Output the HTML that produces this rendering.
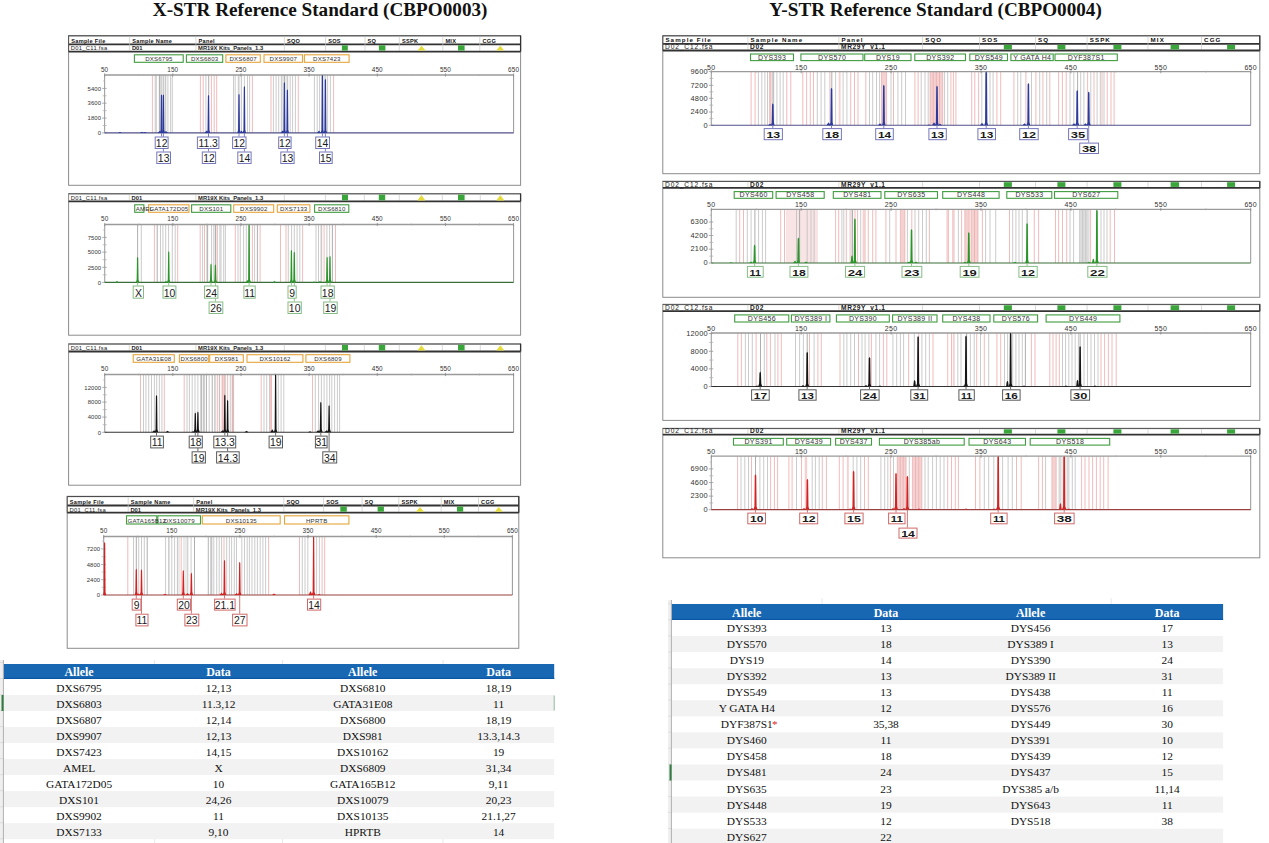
<!DOCTYPE html>
<html><head><meta charset="utf-8"><title>STR Reference Standards</title>
<style>html,body{margin:0;padding:0;background:#fff;width:1269px;height:843px;overflow:hidden;font-family:"Liberation Sans",sans-serif;}svg{display:block;}</style>
</head><body>
<svg width="1269" height="843" viewBox="0 0 1269 843">
<rect x="0" y="0" width="1269" height="843" fill="#fff"/>
<text x="152.8" y="16.1" font-size="19.6" fill="#111" text-anchor="start" font-weight="bold" font-family='"Liberation Serif", serif' textLength="334.7" lengthAdjust="spacingAndGlyphs">X-STR Reference Standard (CBPO0003)</text>
<text x="769.3" y="16.1" font-size="19.6" fill="#111" text-anchor="start" font-weight="bold" font-family='"Liberation Serif", serif' textLength="332.5" lengthAdjust="spacingAndGlyphs">Y-STR Reference Standard (CBPO0004)</text>
<rect x="68.6" y="35.6" width="452" height="149.7" fill="#fff" stroke="#8c8c8c" stroke-width="1"/>
<line x1="68.6" y1="35.9" x2="520.6" y2="35.9" stroke="#444" stroke-width="1"/>
<line x1="68.6" y1="44.3" x2="520.6" y2="44.3" stroke="#333" stroke-width="1.8"/>
<line x1="520.6" y1="35.6" x2="520.6" y2="51.6" stroke="#333" stroke-width="1.3"/>
<line x1="68.6" y1="35.6" x2="68.6" y2="51.6" stroke="#555" stroke-width="1"/>
<line x1="129.7" y1="36.6" x2="129.7" y2="50.6" stroke="#c8c8c8" stroke-width="0.7"/>
<line x1="195.9" y1="36.6" x2="195.9" y2="50.6" stroke="#c8c8c8" stroke-width="0.7"/>
<line x1="284.3" y1="36.6" x2="284.3" y2="50.6" stroke="#c8c8c8" stroke-width="0.7"/>
<line x1="325.6" y1="36.6" x2="325.6" y2="50.6" stroke="#c8c8c8" stroke-width="0.7"/>
<line x1="365" y1="36.6" x2="365" y2="50.6" stroke="#c8c8c8" stroke-width="0.7"/>
<line x1="399.3" y1="36.6" x2="399.3" y2="50.6" stroke="#c8c8c8" stroke-width="0.7"/>
<line x1="442.8" y1="36.6" x2="442.8" y2="50.6" stroke="#c8c8c8" stroke-width="0.7"/>
<line x1="479.8" y1="36.6" x2="479.8" y2="50.6" stroke="#c8c8c8" stroke-width="0.7"/>
<text x="71.2" y="42.7" font-size="5.6" fill="#111" text-anchor="start" font-weight="bold" font-family='"Liberation Sans", sans-serif' letter-spacing="0.3">Sample File</text>
<text x="132.3" y="42.7" font-size="5.6" fill="#111" text-anchor="start" font-weight="bold" font-family='"Liberation Sans", sans-serif' letter-spacing="0.3">Sample Name</text>
<text x="198.5" y="42.7" font-size="5.6" fill="#111" text-anchor="start" font-weight="bold" font-family='"Liberation Sans", sans-serif' letter-spacing="0.3">Panel</text>
<text x="286.9" y="42.7" font-size="5.6" fill="#111" text-anchor="start" font-weight="bold" font-family='"Liberation Sans", sans-serif' letter-spacing="0.3">SQO</text>
<text x="328.2" y="42.7" font-size="5.6" fill="#111" text-anchor="start" font-weight="bold" font-family='"Liberation Sans", sans-serif' letter-spacing="0.3">SOS</text>
<text x="367.6" y="42.7" font-size="5.6" fill="#111" text-anchor="start" font-weight="bold" font-family='"Liberation Sans", sans-serif' letter-spacing="0.3">SQ</text>
<text x="401.9" y="42.7" font-size="5.6" fill="#111" text-anchor="start" font-weight="bold" font-family='"Liberation Sans", sans-serif' letter-spacing="0.3">SSPK</text>
<text x="445.4" y="42.7" font-size="5.6" fill="#111" text-anchor="start" font-weight="bold" font-family='"Liberation Sans", sans-serif' letter-spacing="0.3">MIX</text>
<text x="482.4" y="42.7" font-size="5.6" fill="#111" text-anchor="start" font-weight="bold" font-family='"Liberation Sans", sans-serif' letter-spacing="0.3">CGG</text>
<line x1="68.6" y1="51.6" x2="520.6" y2="51.6" stroke="#333" stroke-width="1.8"/>
<text x="70.8" y="50.4" font-size="5.8" fill="#222" text-anchor="start" font-weight="normal" font-family='"Liberation Sans", sans-serif' letter-spacing="0.3">D01_C11.fsa</text>
<text x="131.9" y="50.4" font-size="5.8" fill="#222" text-anchor="start" font-weight="bold" font-family='"Liberation Sans", sans-serif' letter-spacing="0">D01</text>
<text x="198.1" y="50.4" font-size="5.8" fill="#222" text-anchor="start" font-weight="bold" font-family='"Liberation Sans", sans-serif' letter-spacing="0">MR19X Kits_Panels_1.3</text>
<rect x="341.9" y="45.3" width="5.9" height="5.3" fill="#3aa53a"/>
<rect x="378.9" y="45.3" width="6.5" height="5.3" fill="#3aa53a"/>
<polygon points="417.5,50.6 425.5,50.6 421.5,45.8" fill="#e4dc3a"/>
<rect x="458" y="45.3" width="6.6" height="5.3" fill="#3aa53a"/>
<polygon points="496.2,50.6 504.2,50.6 500.2,45.8" fill="#e4dc3a"/>
<rect x="134.4" y="54.8" width="48.8" height="7.5" fill="#fff" stroke="#3f9c3f" stroke-width="1.1"/>
<rect x="186.4" y="54.8" width="36.3" height="7.5" fill="#fff" stroke="#3f9c3f" stroke-width="1.1"/>
<rect x="225.9" y="54.8" width="34.4" height="7.5" fill="#fff" stroke="#e7a43a" stroke-width="1.1"/>
<rect x="264" y="54.8" width="38.5" height="7.5" fill="#fff" stroke="#e7a43a" stroke-width="1.1"/>
<rect x="304.4" y="54.8" width="44.7" height="7.5" fill="#fff" stroke="#e7a43a" stroke-width="1.1"/>
<text x="158.9" y="61.2" font-size="6.1" fill="#333" text-anchor="middle" font-weight="normal" font-family='"Liberation Sans", sans-serif' letter-spacing="0.2">DXS6795</text>
<text x="204.65" y="61.2" font-size="6.1" fill="#333" text-anchor="middle" font-weight="normal" font-family='"Liberation Sans", sans-serif' letter-spacing="0.2">DXS6803</text>
<text x="243.2" y="61.2" font-size="6.1" fill="#333" text-anchor="middle" font-weight="normal" font-family='"Liberation Sans", sans-serif' letter-spacing="0.2">DXS6807</text>
<text x="283.35" y="61.2" font-size="6.1" fill="#333" text-anchor="middle" font-weight="normal" font-family='"Liberation Sans", sans-serif' letter-spacing="0.2">DXS9907</text>
<text x="326.85" y="61.2" font-size="6.1" fill="#333" text-anchor="middle" font-weight="normal" font-family='"Liberation Sans", sans-serif' letter-spacing="0.2">DXS7423</text>
<rect x="158.5" y="75" width="8" height="57.9" fill="#ebebeb"/>
<rect x="237.5" y="75" width="3" height="57.9" fill="#ebebeb"/>
<rect x="280.5" y="75" width="8" height="57.9" fill="#ebebeb"/>
<rect x="321" y="75" width="5.5" height="57.9" fill="#ebebeb"/>
<line x1="152.4" y1="75" x2="152.4" y2="132.9" stroke="#eeaaaa" stroke-width="0.8"/>
<line x1="200.4" y1="75" x2="200.4" y2="132.9" stroke="#eeaaaa" stroke-width="0.8"/>
<line x1="203.2" y1="75" x2="203.2" y2="132.9" stroke="#eeaaaa" stroke-width="0.8"/>
<line x1="211.4" y1="75" x2="211.4" y2="132.9" stroke="#eeaaaa" stroke-width="0.8"/>
<line x1="214.2" y1="75" x2="214.2" y2="132.9" stroke="#eeaaaa" stroke-width="0.8"/>
<line x1="216.7" y1="75" x2="216.7" y2="132.9" stroke="#eeaaaa" stroke-width="0.8"/>
<line x1="252.4" y1="75" x2="252.4" y2="132.9" stroke="#eeaaaa" stroke-width="0.8"/>
<line x1="271" y1="75" x2="271" y2="132.9" stroke="#eeaaaa" stroke-width="0.8"/>
<line x1="298.3" y1="75" x2="298.3" y2="132.9" stroke="#eeaaaa" stroke-width="0.8"/>
<line x1="333.6" y1="75" x2="333.6" y2="132.9" stroke="#eeaaaa" stroke-width="0.8"/>
<line x1="155.2" y1="75" x2="155.2" y2="132.9" stroke="#bebebe" stroke-width="0.8"/>
<line x1="156.3" y1="75" x2="156.3" y2="132.9" stroke="#bebebe" stroke-width="0.8"/>
<line x1="161.2" y1="75" x2="161.2" y2="132.9" stroke="#bebebe" stroke-width="0.8"/>
<line x1="163.4" y1="75" x2="163.4" y2="132.9" stroke="#bebebe" stroke-width="0.8"/>
<line x1="165.6" y1="75" x2="165.6" y2="132.9" stroke="#bebebe" stroke-width="0.8"/>
<line x1="167.9" y1="75" x2="167.9" y2="132.9" stroke="#bebebe" stroke-width="0.8"/>
<line x1="170.6" y1="75" x2="170.6" y2="132.9" stroke="#bebebe" stroke-width="0.8"/>
<line x1="172.3" y1="75" x2="172.3" y2="132.9" stroke="#bebebe" stroke-width="0.8"/>
<line x1="205.9" y1="75" x2="205.9" y2="132.9" stroke="#bebebe" stroke-width="0.8"/>
<line x1="233.5" y1="75" x2="233.5" y2="132.9" stroke="#bebebe" stroke-width="0.8"/>
<line x1="235.2" y1="75" x2="235.2" y2="132.9" stroke="#bebebe" stroke-width="0.8"/>
<line x1="238.7" y1="75" x2="238.7" y2="132.9" stroke="#bebebe" stroke-width="0.8"/>
<line x1="241.5" y1="75" x2="241.5" y2="132.9" stroke="#bebebe" stroke-width="0.8"/>
<line x1="244.4" y1="75" x2="244.4" y2="132.9" stroke="#bebebe" stroke-width="0.8"/>
<line x1="247.5" y1="75" x2="247.5" y2="132.9" stroke="#bebebe" stroke-width="0.8"/>
<line x1="249.6" y1="75" x2="249.6" y2="132.9" stroke="#bebebe" stroke-width="0.8"/>
<line x1="273.4" y1="75" x2="273.4" y2="132.9" stroke="#bebebe" stroke-width="0.8"/>
<line x1="276.1" y1="75" x2="276.1" y2="132.9" stroke="#bebebe" stroke-width="0.8"/>
<line x1="278.7" y1="75" x2="278.7" y2="132.9" stroke="#bebebe" stroke-width="0.8"/>
<line x1="281.7" y1="75" x2="281.7" y2="132.9" stroke="#bebebe" stroke-width="0.8"/>
<line x1="287.4" y1="75" x2="287.4" y2="132.9" stroke="#bebebe" stroke-width="0.8"/>
<line x1="290.2" y1="75" x2="290.2" y2="132.9" stroke="#bebebe" stroke-width="0.8"/>
<line x1="292.6" y1="75" x2="292.6" y2="132.9" stroke="#bebebe" stroke-width="0.8"/>
<line x1="295.4" y1="75" x2="295.4" y2="132.9" stroke="#bebebe" stroke-width="0.8"/>
<line x1="314.4" y1="75" x2="314.4" y2="132.9" stroke="#bebebe" stroke-width="0.8"/>
<line x1="317.2" y1="75" x2="317.2" y2="132.9" stroke="#bebebe" stroke-width="0.8"/>
<line x1="319.6" y1="75" x2="319.6" y2="132.9" stroke="#bebebe" stroke-width="0.8"/>
<line x1="325.2" y1="75" x2="325.2" y2="132.9" stroke="#bebebe" stroke-width="0.8"/>
<line x1="327.6" y1="75" x2="327.6" y2="132.9" stroke="#bebebe" stroke-width="0.8"/>
<line x1="330.4" y1="75" x2="330.4" y2="132.9" stroke="#bebebe" stroke-width="0.8"/>
<line x1="159.6" y1="75" x2="159.6" y2="132.9" stroke="#999999" stroke-width="0.8"/>
<line x1="208.7" y1="75" x2="208.7" y2="132.9" stroke="#999999" stroke-width="0.8"/>
<line x1="284.4" y1="75" x2="284.4" y2="132.9" stroke="#999999" stroke-width="0.8"/>
<line x1="322.4" y1="75" x2="322.4" y2="132.9" stroke="#999999" stroke-width="0.8"/>
<line x1="104.6" y1="75" x2="513.6" y2="75" stroke="#9a9a9a" stroke-width="1.3"/>
<line x1="513.6" y1="75" x2="513.6" y2="132.9" stroke="#8a8a8a" stroke-width="0.9"/>
<line x1="104.6" y1="75" x2="104.6" y2="132.9" stroke="#a0a0a0" stroke-width="1.1"/>
<line x1="104.6" y1="73.4" x2="104.6" y2="76.6" stroke="#888" stroke-width="0.8"/>
<line x1="138.68" y1="74" x2="138.68" y2="76" stroke="#aaa" stroke-width="0.7"/>
<line x1="172.77" y1="73.4" x2="172.77" y2="76.6" stroke="#888" stroke-width="0.8"/>
<line x1="206.85" y1="74" x2="206.85" y2="76" stroke="#aaa" stroke-width="0.7"/>
<line x1="240.93" y1="73.4" x2="240.93" y2="76.6" stroke="#888" stroke-width="0.8"/>
<line x1="275.02" y1="74" x2="275.02" y2="76" stroke="#aaa" stroke-width="0.7"/>
<line x1="309.1" y1="73.4" x2="309.1" y2="76.6" stroke="#888" stroke-width="0.8"/>
<line x1="343.18" y1="74" x2="343.18" y2="76" stroke="#aaa" stroke-width="0.7"/>
<line x1="377.27" y1="73.4" x2="377.27" y2="76.6" stroke="#888" stroke-width="0.8"/>
<line x1="411.35" y1="74" x2="411.35" y2="76" stroke="#aaa" stroke-width="0.7"/>
<line x1="445.43" y1="73.4" x2="445.43" y2="76.6" stroke="#888" stroke-width="0.8"/>
<line x1="479.52" y1="74" x2="479.52" y2="76" stroke="#aaa" stroke-width="0.7"/>
<line x1="513.6" y1="73.4" x2="513.6" y2="76.6" stroke="#888" stroke-width="0.8"/>
<text x="104.6" y="71.8" font-size="6.4" fill="#333" text-anchor="middle" font-weight="normal" font-family='"Liberation Sans", sans-serif' letter-spacing="0.1">50</text>
<text x="172.77" y="71.8" font-size="6.4" fill="#333" text-anchor="middle" font-weight="normal" font-family='"Liberation Sans", sans-serif' letter-spacing="0.1">150</text>
<text x="240.93" y="71.8" font-size="6.4" fill="#333" text-anchor="middle" font-weight="normal" font-family='"Liberation Sans", sans-serif' letter-spacing="0.1">250</text>
<text x="309.1" y="71.8" font-size="6.4" fill="#333" text-anchor="middle" font-weight="normal" font-family='"Liberation Sans", sans-serif' letter-spacing="0.1">350</text>
<text x="377.27" y="71.8" font-size="6.4" fill="#333" text-anchor="middle" font-weight="normal" font-family='"Liberation Sans", sans-serif' letter-spacing="0.1">450</text>
<text x="445.43" y="71.8" font-size="6.4" fill="#333" text-anchor="middle" font-weight="normal" font-family='"Liberation Sans", sans-serif' letter-spacing="0.1">550</text>
<text x="513.6" y="71.8" font-size="6.4" fill="#333" text-anchor="middle" font-weight="normal" font-family='"Liberation Sans", sans-serif' letter-spacing="0.1">650</text>
<text x="101.1" y="90.6" font-size="5.9" fill="#333" text-anchor="end" font-weight="normal" font-family='"Liberation Sans", sans-serif' letter-spacing="0.1">5400</text>
<line x1="102.1" y1="88.4" x2="106.6" y2="88.4" stroke="#999" stroke-width="0.8"/>
<text x="101.1" y="105.4" font-size="5.9" fill="#333" text-anchor="end" font-weight="normal" font-family='"Liberation Sans", sans-serif' letter-spacing="0.1">3600</text>
<line x1="102.1" y1="103.2" x2="106.6" y2="103.2" stroke="#999" stroke-width="0.8"/>
<text x="101.1" y="120.3" font-size="5.9" fill="#333" text-anchor="end" font-weight="normal" font-family='"Liberation Sans", sans-serif' letter-spacing="0.1">1800</text>
<line x1="102.1" y1="118.1" x2="106.6" y2="118.1" stroke="#999" stroke-width="0.8"/>
<text x="101.1" y="135.1" font-size="5.9" fill="#333" text-anchor="end" font-weight="normal" font-family='"Liberation Sans", sans-serif' letter-spacing="0.1">0</text>
<line x1="102.1" y1="132.9" x2="106.6" y2="132.9" stroke="#999" stroke-width="0.8"/>
<line x1="102.6" y1="95.8" x2="106.6" y2="95.8" stroke="#aaa" stroke-width="0.7"/>
<line x1="102.6" y1="110.65" x2="106.6" y2="110.65" stroke="#aaa" stroke-width="0.7"/>
<line x1="102.6" y1="125.5" x2="106.6" y2="125.5" stroke="#aaa" stroke-width="0.7"/>
<line x1="103.1" y1="81" x2="104.6" y2="81" stroke="#aaa" stroke-width="0.7"/>
<line x1="104.6" y1="132.9" x2="513.6" y2="132.9" stroke="#50508a" stroke-width="1.1"/>
<polygon points="159.8,132.9 160.55,129.9 160.9,95.5 161.5,94.2 162.1,95.5 162.45,129.9 163.2,132.9" fill="#2b3a9c"/>
<polygon points="161.7,132.9 162.45,129.9 162.8,95.5 163.4,94.2 164,95.5 164.35,129.9 165.1,132.9" fill="#2b3a9c"/>
<polygon points="206.8,132.9 207.55,129.9 207.9,96 208.5,94.7 209.1,96 209.45,129.9 210.2,132.9" fill="#2b3a9c"/>
<polygon points="237.3,132.9 238.05,129.9 238.4,95 239,93.7 239.6,95 239.95,129.9 240.7,132.9" fill="#2b3a9c"/>
<polygon points="242.7,132.9 243.45,129.9 243.8,87.3 244.4,86 245,87.3 245.35,129.9 246.1,132.9" fill="#2b3a9c"/>
<polygon points="282.7,132.9 283.45,129.9 283.8,83.3 284.4,82 285,83.3 285.35,129.9 286.1,132.9" fill="#2b3a9c"/>
<polygon points="285.7,132.9 286.45,129.9 286.8,90.6 287.4,89.3 288,90.6 288.35,129.9 289.1,132.9" fill="#2b3a9c"/>
<polygon points="320.7,132.9 321.45,129.9 321.8,76 322.4,74.7 323,76 323.35,129.9 324.1,132.9" fill="#2b3a9c"/>
<polygon points="323.7,132.9 324.45,129.9 324.8,80 325.4,78.7 326,80 326.35,129.9 327.1,132.9" fill="#2b3a9c"/>
<polygon points="118,132.9 120,131.9 122,132.9" fill="#2b3a9c"/>
<polygon points="140,132.9 142,131.7 144,132.9" fill="#2b3a9c"/>
<polygon points="143,132.9 145,131.9 147,132.9" fill="#2b3a9c"/>
<polygon points="157.5,132.9 159.5,130.9 161.5,132.9" fill="#2b3a9c"/>
<polygon points="164,132.9 166,130.9 168,132.9" fill="#2b3a9c"/>
<polygon points="204.5,132.9 206.5,130.4 208.5,132.9" fill="#2b3a9c"/>
<polygon points="239.5,132.9 241.5,130.4 243.5,132.9" fill="#2b3a9c"/>
<polygon points="280.5,132.9 282.5,130.4 284.5,132.9" fill="#2b3a9c"/>
<polygon points="317,132.9 319,130.4 321,132.9" fill="#2b3a9c"/>
<line x1="161.5" y1="132.9" x2="161.5" y2="136.5" stroke="#7676bc" stroke-width="0.9"/>
<line x1="163.4" y1="132.9" x2="163.4" y2="151.5" stroke="#7676bc" stroke-width="0.9"/>
<line x1="208.5" y1="132.9" x2="208.5" y2="136.5" stroke="#7676bc" stroke-width="0.9"/>
<line x1="208.5" y1="132.9" x2="208.5" y2="151.5" stroke="#7676bc" stroke-width="0.9"/>
<line x1="239" y1="132.9" x2="239" y2="136.5" stroke="#7676bc" stroke-width="0.9"/>
<line x1="244.4" y1="132.9" x2="244.4" y2="151.5" stroke="#7676bc" stroke-width="0.9"/>
<line x1="284.4" y1="132.9" x2="284.4" y2="136.5" stroke="#7676bc" stroke-width="0.9"/>
<line x1="287.4" y1="132.9" x2="287.4" y2="151.5" stroke="#7676bc" stroke-width="0.9"/>
<line x1="322.4" y1="132.9" x2="322.4" y2="136.5" stroke="#7676bc" stroke-width="0.9"/>
<line x1="325.4" y1="132.9" x2="325.4" y2="151.5" stroke="#7676bc" stroke-width="0.9"/>
<rect x="155.2" y="137" width="12.9" height="11.5" fill="#fff" stroke="#7676bc" stroke-width="1"/>
<text x="161.65" y="147" font-size="10.4" fill="#1a1a1a" text-anchor="middle" font-weight="normal" font-family='"Liberation Sans", sans-serif' >12</text>
<rect x="156.8" y="152" width="13.7" height="11.5" fill="#fff" stroke="#7676bc" stroke-width="1"/>
<text x="163.65" y="162" font-size="10.4" fill="#1a1a1a" text-anchor="middle" font-weight="normal" font-family='"Liberation Sans", sans-serif' >13</text>
<rect x="197.4" y="137" width="21.5" height="11.5" fill="#fff" stroke="#7676bc" stroke-width="1"/>
<text x="208.15" y="147" font-size="10.4" fill="#1a1a1a" text-anchor="middle" font-weight="normal" font-family='"Liberation Sans", sans-serif' >11.3</text>
<rect x="202.3" y="152" width="13.3" height="11.5" fill="#fff" stroke="#7676bc" stroke-width="1"/>
<text x="208.95" y="162" font-size="10.4" fill="#1a1a1a" text-anchor="middle" font-weight="normal" font-family='"Liberation Sans", sans-serif' >12</text>
<rect x="232.6" y="137" width="13.4" height="11.5" fill="#fff" stroke="#7676bc" stroke-width="1"/>
<text x="239.3" y="147" font-size="10.4" fill="#1a1a1a" text-anchor="middle" font-weight="normal" font-family='"Liberation Sans", sans-serif' >12</text>
<rect x="237.8" y="152" width="13.3" height="11.5" fill="#fff" stroke="#7676bc" stroke-width="1"/>
<text x="244.45" y="162" font-size="10.4" fill="#1a1a1a" text-anchor="middle" font-weight="normal" font-family='"Liberation Sans", sans-serif' >14</text>
<rect x="278.7" y="137" width="12.4" height="11.5" fill="#fff" stroke="#7676bc" stroke-width="1"/>
<text x="284.9" y="147" font-size="10.4" fill="#1a1a1a" text-anchor="middle" font-weight="normal" font-family='"Liberation Sans", sans-serif' >12</text>
<rect x="280.8" y="152" width="13.3" height="11.5" fill="#fff" stroke="#7676bc" stroke-width="1"/>
<text x="287.45" y="162" font-size="10.4" fill="#1a1a1a" text-anchor="middle" font-weight="normal" font-family='"Liberation Sans", sans-serif' >13</text>
<rect x="315.7" y="137" width="13.8" height="11.5" fill="#fff" stroke="#7676bc" stroke-width="1"/>
<text x="322.6" y="147" font-size="10.4" fill="#1a1a1a" text-anchor="middle" font-weight="normal" font-family='"Liberation Sans", sans-serif' >14</text>
<rect x="319.5" y="152" width="12.7" height="11.5" fill="#fff" stroke="#7676bc" stroke-width="1"/>
<text x="325.85" y="162" font-size="10.4" fill="#1a1a1a" text-anchor="middle" font-weight="normal" font-family='"Liberation Sans", sans-serif' >15</text>
<rect x="68.6" y="193.6" width="452" height="141.6" fill="#fff" stroke="#8c8c8c" stroke-width="1"/>
<line x1="68.6" y1="193.9" x2="520.6" y2="193.9" stroke="#555" stroke-width="1"/>
<line x1="520.6" y1="193.6" x2="520.6" y2="201.4" stroke="#333" stroke-width="1.3"/>
<line x1="129.3" y1="194.6" x2="129.3" y2="200.4" stroke="#c8c8c8" stroke-width="0.7"/>
<line x1="195.9" y1="194.6" x2="195.9" y2="200.4" stroke="#c8c8c8" stroke-width="0.7"/>
<line x1="284.3" y1="194.6" x2="284.3" y2="200.4" stroke="#c8c8c8" stroke-width="0.7"/>
<line x1="325.4" y1="194.6" x2="325.4" y2="200.4" stroke="#c8c8c8" stroke-width="0.7"/>
<line x1="364.3" y1="194.6" x2="364.3" y2="200.4" stroke="#c8c8c8" stroke-width="0.7"/>
<line x1="399.3" y1="194.6" x2="399.3" y2="200.4" stroke="#c8c8c8" stroke-width="0.7"/>
<line x1="442.3" y1="194.6" x2="442.3" y2="200.4" stroke="#c8c8c8" stroke-width="0.7"/>
<line x1="480.3" y1="194.6" x2="480.3" y2="200.4" stroke="#c8c8c8" stroke-width="0.7"/>
<line x1="68.6" y1="201.4" x2="520.6" y2="201.4" stroke="#333" stroke-width="1.8"/>
<text x="70.8" y="200.2" font-size="5.8" fill="#222" text-anchor="start" font-weight="normal" font-family='"Liberation Sans", sans-serif' letter-spacing="0.3">D01_C11.fsa</text>
<text x="131.5" y="200.2" font-size="5.8" fill="#222" text-anchor="start" font-weight="bold" font-family='"Liberation Sans", sans-serif' letter-spacing="0">D01</text>
<text x="198.1" y="200.2" font-size="5.8" fill="#222" text-anchor="start" font-weight="bold" font-family='"Liberation Sans", sans-serif' letter-spacing="0">MR19X Kits_Panels_1.3</text>
<rect x="342" y="194.6" width="6" height="5.8" fill="#3aa53a"/>
<rect x="378.8" y="194.6" width="6.4" height="5.8" fill="#3aa53a"/>
<polygon points="417.4,200.4 425.4,200.4 421.4,195.1" fill="#e4dc3a"/>
<rect x="458" y="194.6" width="6.6" height="5.8" fill="#3aa53a"/>
<polygon points="496.3,200.4 504.3,200.4 500.3,195.1" fill="#e4dc3a"/>
<rect x="134.7" y="204.8" width="9.2" height="7.5" fill="#fff" stroke="#3f9c3f" stroke-width="1.1"/>
<rect x="148.6" y="204.8" width="40.4" height="7.5" fill="#fff" stroke="#e7a43a" stroke-width="1.1"/>
<rect x="191.6" y="204.8" width="39.2" height="7.5" fill="#fff" stroke="#3f9c3f" stroke-width="1.1"/>
<rect x="233.7" y="204.8" width="40" height="7.5" fill="#fff" stroke="#e7a43a" stroke-width="1.1"/>
<rect x="277.3" y="204.8" width="32.6" height="7.5" fill="#fff" stroke="#e7a43a" stroke-width="1.1"/>
<rect x="314.6" y="204.8" width="34.2" height="7.5" fill="#fff" stroke="#3f9c3f" stroke-width="1.1"/>
<text x="135.7" y="211.2" font-size="6.1" fill="#333" text-anchor="start" font-weight="normal" font-family='"Liberation Sans", sans-serif' letter-spacing="0.2">AMEL</text>
<text x="168.9" y="211.2" font-size="6.1" fill="#333" text-anchor="middle" font-weight="normal" font-family='"Liberation Sans", sans-serif' letter-spacing="0.2">GATA172D05</text>
<text x="211.3" y="211.2" font-size="6.1" fill="#333" text-anchor="middle" font-weight="normal" font-family='"Liberation Sans", sans-serif' letter-spacing="0.2">DXS101</text>
<text x="253.8" y="211.2" font-size="6.1" fill="#333" text-anchor="middle" font-weight="normal" font-family='"Liberation Sans", sans-serif' letter-spacing="0.2">DXS9902</text>
<text x="293.7" y="211.2" font-size="6.1" fill="#333" text-anchor="middle" font-weight="normal" font-family='"Liberation Sans", sans-serif' letter-spacing="0.2">DXS7133</text>
<text x="331.8" y="211.2" font-size="6.1" fill="#333" text-anchor="middle" font-weight="normal" font-family='"Liberation Sans", sans-serif' letter-spacing="0.2">DXS6810</text>
<rect x="206" y="224.5" width="2.5" height="57.9" fill="#ebebeb"/>
<rect x="215" y="224.5" width="2" height="57.9" fill="#ebebeb"/>
<rect x="320" y="224.5" width="2.5" height="57.9" fill="#ebebeb"/>
<line x1="154.4" y1="224.5" x2="154.4" y2="282.4" stroke="#eeaaaa" stroke-width="0.8"/>
<line x1="177.7" y1="224.5" x2="177.7" y2="282.4" stroke="#eeaaaa" stroke-width="0.8"/>
<line x1="200.2" y1="224.5" x2="200.2" y2="282.4" stroke="#eeaaaa" stroke-width="0.8"/>
<line x1="204.5" y1="224.5" x2="204.5" y2="282.4" stroke="#eeaaaa" stroke-width="0.8"/>
<line x1="217.4" y1="224.5" x2="217.4" y2="282.4" stroke="#eeaaaa" stroke-width="0.8"/>
<line x1="235.3" y1="224.5" x2="235.3" y2="282.4" stroke="#eeaaaa" stroke-width="0.8"/>
<line x1="252.4" y1="224.5" x2="252.4" y2="282.4" stroke="#eeaaaa" stroke-width="0.8"/>
<line x1="260.1" y1="224.5" x2="260.1" y2="282.4" stroke="#eeaaaa" stroke-width="0.8"/>
<line x1="280.5" y1="224.5" x2="280.5" y2="282.4" stroke="#eeaaaa" stroke-width="0.8"/>
<line x1="286" y1="224.5" x2="286" y2="282.4" stroke="#eeaaaa" stroke-width="0.8"/>
<line x1="302.6" y1="224.5" x2="302.6" y2="282.4" stroke="#eeaaaa" stroke-width="0.8"/>
<line x1="324.1" y1="224.5" x2="324.1" y2="282.4" stroke="#eeaaaa" stroke-width="0.8"/>
<line x1="335.5" y1="224.5" x2="335.5" y2="282.4" stroke="#eeaaaa" stroke-width="0.8"/>
<line x1="141.3" y1="224.5" x2="141.3" y2="282.4" stroke="#bebebe" stroke-width="0.8"/>
<line x1="160.5" y1="224.5" x2="160.5" y2="282.4" stroke="#bebebe" stroke-width="0.8"/>
<line x1="162.9" y1="224.5" x2="162.9" y2="282.4" stroke="#bebebe" stroke-width="0.8"/>
<line x1="165.7" y1="224.5" x2="165.7" y2="282.4" stroke="#bebebe" stroke-width="0.8"/>
<line x1="168.6" y1="224.5" x2="168.6" y2="282.4" stroke="#bebebe" stroke-width="0.8"/>
<line x1="172.3" y1="224.5" x2="172.3" y2="282.4" stroke="#bebebe" stroke-width="0.8"/>
<line x1="175.2" y1="224.5" x2="175.2" y2="282.4" stroke="#bebebe" stroke-width="0.8"/>
<line x1="202.6" y1="224.5" x2="202.6" y2="282.4" stroke="#bebebe" stroke-width="0.8"/>
<line x1="211.6" y1="224.5" x2="211.6" y2="282.4" stroke="#bebebe" stroke-width="0.8"/>
<line x1="213.8" y1="224.5" x2="213.8" y2="282.4" stroke="#bebebe" stroke-width="0.8"/>
<line x1="219.9" y1="224.5" x2="219.9" y2="282.4" stroke="#bebebe" stroke-width="0.8"/>
<line x1="221" y1="224.5" x2="221" y2="282.4" stroke="#bebebe" stroke-width="0.8"/>
<line x1="223.7" y1="224.5" x2="223.7" y2="282.4" stroke="#bebebe" stroke-width="0.8"/>
<line x1="225.4" y1="224.5" x2="225.4" y2="282.4" stroke="#bebebe" stroke-width="0.8"/>
<line x1="238" y1="224.5" x2="238" y2="282.4" stroke="#bebebe" stroke-width="0.8"/>
<line x1="240.3" y1="224.5" x2="240.3" y2="282.4" stroke="#bebebe" stroke-width="0.8"/>
<line x1="243.6" y1="224.5" x2="243.6" y2="282.4" stroke="#bebebe" stroke-width="0.8"/>
<line x1="246.3" y1="224.5" x2="246.3" y2="282.4" stroke="#bebebe" stroke-width="0.8"/>
<line x1="254.6" y1="224.5" x2="254.6" y2="282.4" stroke="#bebebe" stroke-width="0.8"/>
<line x1="288.3" y1="224.5" x2="288.3" y2="282.4" stroke="#bebebe" stroke-width="0.8"/>
<line x1="291.6" y1="224.5" x2="291.6" y2="282.4" stroke="#bebebe" stroke-width="0.8"/>
<line x1="294.3" y1="224.5" x2="294.3" y2="282.4" stroke="#bebebe" stroke-width="0.8"/>
<line x1="297.1" y1="224.5" x2="297.1" y2="282.4" stroke="#bebebe" stroke-width="0.8"/>
<line x1="299.8" y1="224.5" x2="299.8" y2="282.4" stroke="#bebebe" stroke-width="0.8"/>
<line x1="316" y1="224.5" x2="316" y2="282.4" stroke="#bebebe" stroke-width="0.8"/>
<line x1="318.5" y1="224.5" x2="318.5" y2="282.4" stroke="#bebebe" stroke-width="0.8"/>
<line x1="321.4" y1="224.5" x2="321.4" y2="282.4" stroke="#bebebe" stroke-width="0.8"/>
<line x1="326.9" y1="224.5" x2="326.9" y2="282.4" stroke="#bebebe" stroke-width="0.8"/>
<line x1="329.6" y1="224.5" x2="329.6" y2="282.4" stroke="#bebebe" stroke-width="0.8"/>
<line x1="137.6" y1="224.5" x2="137.6" y2="282.4" stroke="#999999" stroke-width="0.8"/>
<line x1="157.2" y1="224.5" x2="157.2" y2="282.4" stroke="#999999" stroke-width="0.8"/>
<line x1="207.3" y1="224.5" x2="207.3" y2="282.4" stroke="#999999" stroke-width="0.8"/>
<line x1="215.4" y1="224.5" x2="215.4" y2="282.4" stroke="#999999" stroke-width="0.8"/>
<line x1="249.1" y1="224.5" x2="249.1" y2="282.4" stroke="#999999" stroke-width="0.8"/>
<line x1="257.4" y1="224.5" x2="257.4" y2="282.4" stroke="#999999" stroke-width="0.8"/>
<line x1="332.4" y1="224.5" x2="332.4" y2="282.4" stroke="#999999" stroke-width="0.8"/>
<line x1="104.7" y1="224.5" x2="513.6" y2="224.5" stroke="#9a9a9a" stroke-width="1.3"/>
<line x1="513.6" y1="224.5" x2="513.6" y2="282.4" stroke="#8a8a8a" stroke-width="0.9"/>
<line x1="104.7" y1="224.5" x2="104.7" y2="282.4" stroke="#a0a0a0" stroke-width="1.1"/>
<line x1="104.7" y1="222.9" x2="104.7" y2="226.1" stroke="#888" stroke-width="0.8"/>
<line x1="138.78" y1="223.5" x2="138.78" y2="225.5" stroke="#aaa" stroke-width="0.7"/>
<line x1="172.85" y1="222.9" x2="172.85" y2="226.1" stroke="#888" stroke-width="0.8"/>
<line x1="206.93" y1="223.5" x2="206.93" y2="225.5" stroke="#aaa" stroke-width="0.7"/>
<line x1="241" y1="222.9" x2="241" y2="226.1" stroke="#888" stroke-width="0.8"/>
<line x1="275.08" y1="223.5" x2="275.08" y2="225.5" stroke="#aaa" stroke-width="0.7"/>
<line x1="309.15" y1="222.9" x2="309.15" y2="226.1" stroke="#888" stroke-width="0.8"/>
<line x1="343.23" y1="223.5" x2="343.23" y2="225.5" stroke="#aaa" stroke-width="0.7"/>
<line x1="377.3" y1="222.9" x2="377.3" y2="226.1" stroke="#888" stroke-width="0.8"/>
<line x1="411.38" y1="223.5" x2="411.38" y2="225.5" stroke="#aaa" stroke-width="0.7"/>
<line x1="445.45" y1="222.9" x2="445.45" y2="226.1" stroke="#888" stroke-width="0.8"/>
<line x1="479.53" y1="223.5" x2="479.53" y2="225.5" stroke="#aaa" stroke-width="0.7"/>
<line x1="513.6" y1="222.9" x2="513.6" y2="226.1" stroke="#888" stroke-width="0.8"/>
<text x="104.7" y="221.3" font-size="6.4" fill="#333" text-anchor="middle" font-weight="normal" font-family='"Liberation Sans", sans-serif' letter-spacing="0.1">50</text>
<text x="172.85" y="221.3" font-size="6.4" fill="#333" text-anchor="middle" font-weight="normal" font-family='"Liberation Sans", sans-serif' letter-spacing="0.1">150</text>
<text x="241" y="221.3" font-size="6.4" fill="#333" text-anchor="middle" font-weight="normal" font-family='"Liberation Sans", sans-serif' letter-spacing="0.1">250</text>
<text x="309.15" y="221.3" font-size="6.4" fill="#333" text-anchor="middle" font-weight="normal" font-family='"Liberation Sans", sans-serif' letter-spacing="0.1">350</text>
<text x="377.3" y="221.3" font-size="6.4" fill="#333" text-anchor="middle" font-weight="normal" font-family='"Liberation Sans", sans-serif' letter-spacing="0.1">450</text>
<text x="445.45" y="221.3" font-size="6.4" fill="#333" text-anchor="middle" font-weight="normal" font-family='"Liberation Sans", sans-serif' letter-spacing="0.1">550</text>
<text x="513.6" y="221.3" font-size="6.4" fill="#333" text-anchor="middle" font-weight="normal" font-family='"Liberation Sans", sans-serif' letter-spacing="0.1">650</text>
<text x="101.2" y="239.6" font-size="5.9" fill="#333" text-anchor="end" font-weight="normal" font-family='"Liberation Sans", sans-serif' letter-spacing="0.1">7500</text>
<line x1="102.2" y1="237.4" x2="106.7" y2="237.4" stroke="#999" stroke-width="0.8"/>
<text x="101.2" y="254.3" font-size="5.9" fill="#333" text-anchor="end" font-weight="normal" font-family='"Liberation Sans", sans-serif' letter-spacing="0.1">5000</text>
<line x1="102.2" y1="252.1" x2="106.7" y2="252.1" stroke="#999" stroke-width="0.8"/>
<text x="101.2" y="269.5" font-size="5.9" fill="#333" text-anchor="end" font-weight="normal" font-family='"Liberation Sans", sans-serif' letter-spacing="0.1">2500</text>
<line x1="102.2" y1="267.3" x2="106.7" y2="267.3" stroke="#999" stroke-width="0.8"/>
<text x="101.2" y="284.6" font-size="5.9" fill="#333" text-anchor="end" font-weight="normal" font-family='"Liberation Sans", sans-serif' letter-spacing="0.1">0</text>
<line x1="102.2" y1="282.4" x2="106.7" y2="282.4" stroke="#999" stroke-width="0.8"/>
<line x1="102.7" y1="244.75" x2="106.7" y2="244.75" stroke="#aaa" stroke-width="0.7"/>
<line x1="102.7" y1="259.7" x2="106.7" y2="259.7" stroke="#aaa" stroke-width="0.7"/>
<line x1="102.7" y1="274.85" x2="106.7" y2="274.85" stroke="#aaa" stroke-width="0.7"/>
<line x1="103.2" y1="230.05" x2="104.7" y2="230.05" stroke="#aaa" stroke-width="0.7"/>
<line x1="104.7" y1="282.4" x2="513.6" y2="282.4" stroke="#3a6e3a" stroke-width="1.1"/>
<polygon points="135.9,282.4 136.65,279.4 137,258.1 137.6,256.8 138.2,258.1 138.55,279.4 139.3,282.4" fill="#2a962a"/>
<polygon points="167,282.4 167.75,279.4 168.1,252.4 168.7,251.1 169.3,252.4 169.65,279.4 170.4,282.4" fill="#2a962a"/>
<polygon points="209.3,282.4 210.05,279.4 210.4,264.8 211,263.5 211.6,264.8 211.95,279.4 212.7,282.4" fill="#2a962a"/>
<polygon points="213.7,282.4 214.45,279.4 214.8,265.6 215.4,264.3 216,265.6 216.35,279.4 217.1,282.4" fill="#2a962a"/>
<polygon points="247.2,282.4 248.15,279.4 248.5,225.5 249.1,224.2 249.7,225.5 250.05,279.4 251,282.4" fill="#2a962a"/>
<polygon points="289.7,282.4 290.45,279.4 290.8,251.1 291.4,249.8 292,251.1 292.35,279.4 293.1,282.4" fill="#2a962a"/>
<polygon points="292.6,282.4 293.35,279.4 293.7,252.7 294.3,251.4 294.9,252.7 295.25,279.4 296,282.4" fill="#2a962a"/>
<polygon points="325.4,282.4 326.15,279.4 326.5,257.9 327.1,256.6 327.7,257.9 328.05,279.4 328.8,282.4" fill="#2a962a"/>
<polygon points="328.3,282.4 329.05,279.4 329.4,257 330,255.7 330.6,257 330.95,279.4 331.7,282.4" fill="#2a962a"/>
<polygon points="115,282.4 117,280.9 119,282.4" fill="#2a962a"/>
<polygon points="164,282.4 166,280.9 168,282.4" fill="#2a962a"/>
<polygon points="245.5,282.4 247.5,279.9 249.5,282.4" fill="#2a962a"/>
<polygon points="272.5,282.4 274.5,280.9 276.5,282.4" fill="#2a962a"/>
<polygon points="312,282.4 314,281.4 316,282.4" fill="#2a962a"/>
<polygon points="318,282.4 320,280.9 322,282.4" fill="#2a962a"/>
<line x1="137.6" y1="282.4" x2="137.6" y2="285.5" stroke="#86bc86" stroke-width="0.9"/>
<line x1="168.7" y1="282.4" x2="168.7" y2="285.5" stroke="#86bc86" stroke-width="0.9"/>
<line x1="211" y1="282.4" x2="211" y2="285.5" stroke="#86bc86" stroke-width="0.9"/>
<line x1="215.4" y1="282.4" x2="215.4" y2="301.5" stroke="#86bc86" stroke-width="0.9"/>
<line x1="249.1" y1="282.4" x2="249.1" y2="285.5" stroke="#86bc86" stroke-width="0.9"/>
<line x1="291.4" y1="282.4" x2="291.4" y2="285.5" stroke="#86bc86" stroke-width="0.9"/>
<line x1="294.3" y1="282.4" x2="294.3" y2="301.5" stroke="#86bc86" stroke-width="0.9"/>
<line x1="327.1" y1="282.4" x2="327.1" y2="285.5" stroke="#86bc86" stroke-width="0.9"/>
<line x1="330" y1="282.4" x2="330" y2="301.5" stroke="#86bc86" stroke-width="0.9"/>
<rect x="133.2" y="286" width="10.3" height="12.2" fill="#fff" stroke="#86bc86" stroke-width="1"/>
<text x="138.35" y="296.7" font-size="10.4" fill="#1a1a1a" text-anchor="middle" font-weight="normal" font-family='"Liberation Sans", sans-serif' >X</text>
<rect x="163" y="286" width="12.9" height="12.2" fill="#fff" stroke="#86bc86" stroke-width="1"/>
<text x="169.45" y="296.7" font-size="10.4" fill="#1a1a1a" text-anchor="middle" font-weight="normal" font-family='"Liberation Sans", sans-serif' >10</text>
<rect x="204.5" y="286" width="13.4" height="12.2" fill="#fff" stroke="#86bc86" stroke-width="1"/>
<text x="211.2" y="296.7" font-size="10.4" fill="#1a1a1a" text-anchor="middle" font-weight="normal" font-family='"Liberation Sans", sans-serif' >24</text>
<rect x="209.1" y="302" width="13.7" height="11.5" fill="#fff" stroke="#86bc86" stroke-width="1"/>
<text x="215.95" y="312" font-size="10.4" fill="#1a1a1a" text-anchor="middle" font-weight="normal" font-family='"Liberation Sans", sans-serif' >26</text>
<rect x="243.9" y="286" width="11.3" height="12.2" fill="#fff" stroke="#86bc86" stroke-width="1"/>
<text x="249.55" y="296.7" font-size="10.4" fill="#1a1a1a" text-anchor="middle" font-weight="normal" font-family='"Liberation Sans", sans-serif' >11</text>
<rect x="288" y="286" width="8.2" height="12.2" fill="#fff" stroke="#86bc86" stroke-width="1"/>
<text x="292.1" y="296.7" font-size="10.4" fill="#1a1a1a" text-anchor="middle" font-weight="normal" font-family='"Liberation Sans", sans-serif' >9</text>
<rect x="288" y="302" width="13.3" height="11.5" fill="#fff" stroke="#86bc86" stroke-width="1"/>
<text x="294.65" y="312" font-size="10.4" fill="#1a1a1a" text-anchor="middle" font-weight="normal" font-family='"Liberation Sans", sans-serif' >10</text>
<rect x="321" y="286" width="13.3" height="12.2" fill="#fff" stroke="#86bc86" stroke-width="1"/>
<text x="327.65" y="296.7" font-size="10.4" fill="#1a1a1a" text-anchor="middle" font-weight="normal" font-family='"Liberation Sans", sans-serif' >18</text>
<rect x="323.7" y="302" width="13.5" height="11.5" fill="#fff" stroke="#86bc86" stroke-width="1"/>
<text x="330.45" y="312" font-size="10.4" fill="#1a1a1a" text-anchor="middle" font-weight="normal" font-family='"Liberation Sans", sans-serif' >19</text>
<rect x="68.6" y="343.8" width="452" height="141.4" fill="#fff" stroke="#8c8c8c" stroke-width="1"/>
<line x1="68.6" y1="344.1" x2="520.6" y2="344.1" stroke="#555" stroke-width="1"/>
<line x1="520.6" y1="343.8" x2="520.6" y2="351.5" stroke="#333" stroke-width="1.3"/>
<line x1="129.3" y1="344.8" x2="129.3" y2="350.5" stroke="#c8c8c8" stroke-width="0.7"/>
<line x1="195.9" y1="344.8" x2="195.9" y2="350.5" stroke="#c8c8c8" stroke-width="0.7"/>
<line x1="284.3" y1="344.8" x2="284.3" y2="350.5" stroke="#c8c8c8" stroke-width="0.7"/>
<line x1="325.4" y1="344.8" x2="325.4" y2="350.5" stroke="#c8c8c8" stroke-width="0.7"/>
<line x1="364.3" y1="344.8" x2="364.3" y2="350.5" stroke="#c8c8c8" stroke-width="0.7"/>
<line x1="399.3" y1="344.8" x2="399.3" y2="350.5" stroke="#c8c8c8" stroke-width="0.7"/>
<line x1="442.3" y1="344.8" x2="442.3" y2="350.5" stroke="#c8c8c8" stroke-width="0.7"/>
<line x1="480.3" y1="344.8" x2="480.3" y2="350.5" stroke="#c8c8c8" stroke-width="0.7"/>
<line x1="68.6" y1="351.5" x2="520.6" y2="351.5" stroke="#333" stroke-width="1.8"/>
<text x="70.8" y="350.3" font-size="5.8" fill="#222" text-anchor="start" font-weight="normal" font-family='"Liberation Sans", sans-serif' letter-spacing="0.3">D01_C11.fsa</text>
<text x="131.5" y="350.3" font-size="5.8" fill="#222" text-anchor="start" font-weight="bold" font-family='"Liberation Sans", sans-serif' letter-spacing="0">D01</text>
<text x="198.1" y="350.3" font-size="5.8" fill="#222" text-anchor="start" font-weight="bold" font-family='"Liberation Sans", sans-serif' letter-spacing="0">MR19X Kits_Panels_1.3</text>
<rect x="342" y="344.8" width="6" height="5.7" fill="#3aa53a"/>
<rect x="378.8" y="344.8" width="6.4" height="5.7" fill="#3aa53a"/>
<polygon points="417.4,350.5 425.4,350.5 421.4,345.3" fill="#e4dc3a"/>
<rect x="458" y="344.8" width="6.6" height="5.7" fill="#3aa53a"/>
<polygon points="496.3,350.5 504.3,350.5 500.3,345.3" fill="#e4dc3a"/>
<rect x="133.2" y="354.7" width="41.1" height="7.6" fill="#fff" stroke="#e7a43a" stroke-width="1.1"/>
<rect x="179.4" y="354.7" width="29.3" height="7.6" fill="#fff" stroke="#e7a43a" stroke-width="1.1"/>
<rect x="209.7" y="354.7" width="33.6" height="7.6" fill="#fff" stroke="#e7a43a" stroke-width="1.1"/>
<rect x="247" y="354.7" width="55.9" height="7.6" fill="#fff" stroke="#e7a43a" stroke-width="1.1"/>
<rect x="305.9" y="354.7" width="44" height="7.6" fill="#fff" stroke="#e7a43a" stroke-width="1.1"/>
<text x="153.85" y="361.2" font-size="6.1" fill="#333" text-anchor="middle" font-weight="normal" font-family='"Liberation Sans", sans-serif' letter-spacing="0.2">GATA31E08</text>
<text x="194.15" y="361.2" font-size="6.1" fill="#333" text-anchor="middle" font-weight="normal" font-family='"Liberation Sans", sans-serif' letter-spacing="0.2">DXS6800</text>
<text x="226.6" y="361.2" font-size="6.1" fill="#333" text-anchor="middle" font-weight="normal" font-family='"Liberation Sans", sans-serif' letter-spacing="0.2">DXS981</text>
<text x="275.05" y="361.2" font-size="6.1" fill="#333" text-anchor="middle" font-weight="normal" font-family='"Liberation Sans", sans-serif' letter-spacing="0.2">DXS10162</text>
<text x="328" y="361.2" font-size="6.1" fill="#333" text-anchor="middle" font-weight="normal" font-family='"Liberation Sans", sans-serif' letter-spacing="0.2">DXS6809</text>
<rect x="222" y="374.5" width="4" height="57.8" fill="#f4d2d2"/>
<rect x="231.5" y="374.5" width="2.5" height="57.8" fill="#f4d2d2"/>
<rect x="270" y="374.5" width="2" height="57.8" fill="#f4d2d2"/>
<line x1="140.5" y1="374.5" x2="140.5" y2="432.3" stroke="#eeaaaa" stroke-width="0.8"/>
<line x1="164.3" y1="374.5" x2="164.3" y2="432.3" stroke="#eeaaaa" stroke-width="0.8"/>
<line x1="184.2" y1="374.5" x2="184.2" y2="432.3" stroke="#eeaaaa" stroke-width="0.8"/>
<line x1="217.3" y1="374.5" x2="217.3" y2="432.3" stroke="#eeaaaa" stroke-width="0.8"/>
<line x1="219.6" y1="374.5" x2="219.6" y2="432.3" stroke="#eeaaaa" stroke-width="0.8"/>
<line x1="222.1" y1="374.5" x2="222.1" y2="432.3" stroke="#eeaaaa" stroke-width="0.8"/>
<line x1="227.6" y1="374.5" x2="227.6" y2="432.3" stroke="#eeaaaa" stroke-width="0.8"/>
<line x1="232.5" y1="374.5" x2="232.5" y2="432.3" stroke="#eeaaaa" stroke-width="0.8"/>
<line x1="261.2" y1="374.5" x2="261.2" y2="432.3" stroke="#eeaaaa" stroke-width="0.8"/>
<line x1="271.2" y1="374.5" x2="271.2" y2="432.3" stroke="#eeaaaa" stroke-width="0.8"/>
<line x1="312.5" y1="374.5" x2="312.5" y2="432.3" stroke="#eeaaaa" stroke-width="0.8"/>
<line x1="143.5" y1="374.5" x2="143.5" y2="432.3" stroke="#bebebe" stroke-width="0.8"/>
<line x1="145.9" y1="374.5" x2="145.9" y2="432.3" stroke="#bebebe" stroke-width="0.8"/>
<line x1="148.7" y1="374.5" x2="148.7" y2="432.3" stroke="#bebebe" stroke-width="0.8"/>
<line x1="151.5" y1="374.5" x2="151.5" y2="432.3" stroke="#bebebe" stroke-width="0.8"/>
<line x1="154.4" y1="374.5" x2="154.4" y2="432.3" stroke="#bebebe" stroke-width="0.8"/>
<line x1="156.7" y1="374.5" x2="156.7" y2="432.3" stroke="#bebebe" stroke-width="0.8"/>
<line x1="159.4" y1="374.5" x2="159.4" y2="432.3" stroke="#bebebe" stroke-width="0.8"/>
<line x1="161.9" y1="374.5" x2="161.9" y2="432.3" stroke="#bebebe" stroke-width="0.8"/>
<line x1="187" y1="374.5" x2="187" y2="432.3" stroke="#bebebe" stroke-width="0.8"/>
<line x1="189.4" y1="374.5" x2="189.4" y2="432.3" stroke="#bebebe" stroke-width="0.8"/>
<line x1="192.2" y1="374.5" x2="192.2" y2="432.3" stroke="#bebebe" stroke-width="0.8"/>
<line x1="195" y1="374.5" x2="195" y2="432.3" stroke="#bebebe" stroke-width="0.8"/>
<line x1="197.9" y1="374.5" x2="197.9" y2="432.3" stroke="#bebebe" stroke-width="0.8"/>
<line x1="200.7" y1="374.5" x2="200.7" y2="432.3" stroke="#bebebe" stroke-width="0.8"/>
<line x1="203.5" y1="374.5" x2="203.5" y2="432.3" stroke="#bebebe" stroke-width="0.8"/>
<line x1="209.2" y1="374.5" x2="209.2" y2="432.3" stroke="#bebebe" stroke-width="0.8"/>
<line x1="212.5" y1="374.5" x2="212.5" y2="432.3" stroke="#bebebe" stroke-width="0.8"/>
<line x1="214.9" y1="374.5" x2="214.9" y2="432.3" stroke="#bebebe" stroke-width="0.8"/>
<line x1="204.4" y1="374.5" x2="204.4" y2="432.3" stroke="#bebebe" stroke-width="0.8"/>
<line x1="212.1" y1="374.5" x2="212.1" y2="432.3" stroke="#bebebe" stroke-width="0.8"/>
<line x1="214.9" y1="374.5" x2="214.9" y2="432.3" stroke="#bebebe" stroke-width="0.8"/>
<line x1="219.3" y1="374.5" x2="219.3" y2="432.3" stroke="#bebebe" stroke-width="0.8"/>
<line x1="224.8" y1="374.5" x2="224.8" y2="432.3" stroke="#bebebe" stroke-width="0.8"/>
<line x1="230.3" y1="374.5" x2="230.3" y2="432.3" stroke="#bebebe" stroke-width="0.8"/>
<line x1="233.6" y1="374.5" x2="233.6" y2="432.3" stroke="#bebebe" stroke-width="0.8"/>
<line x1="264" y1="374.5" x2="264" y2="432.3" stroke="#bebebe" stroke-width="0.8"/>
<line x1="266.7" y1="374.5" x2="266.7" y2="432.3" stroke="#bebebe" stroke-width="0.8"/>
<line x1="269.5" y1="374.5" x2="269.5" y2="432.3" stroke="#bebebe" stroke-width="0.8"/>
<line x1="278.3" y1="374.5" x2="278.3" y2="432.3" stroke="#bebebe" stroke-width="0.8"/>
<line x1="281.1" y1="374.5" x2="281.1" y2="432.3" stroke="#bebebe" stroke-width="0.8"/>
<line x1="283.8" y1="374.5" x2="283.8" y2="432.3" stroke="#bebebe" stroke-width="0.8"/>
<line x1="315.3" y1="374.5" x2="315.3" y2="432.3" stroke="#bebebe" stroke-width="0.8"/>
<line x1="318.6" y1="374.5" x2="318.6" y2="432.3" stroke="#bebebe" stroke-width="0.8"/>
<line x1="321.4" y1="374.5" x2="321.4" y2="432.3" stroke="#bebebe" stroke-width="0.8"/>
<line x1="324.1" y1="374.5" x2="324.1" y2="432.3" stroke="#bebebe" stroke-width="0.8"/>
<line x1="326.9" y1="374.5" x2="326.9" y2="432.3" stroke="#bebebe" stroke-width="0.8"/>
<line x1="329.6" y1="374.5" x2="329.6" y2="432.3" stroke="#bebebe" stroke-width="0.8"/>
<line x1="331.8" y1="374.5" x2="331.8" y2="432.3" stroke="#bebebe" stroke-width="0.8"/>
<line x1="334.6" y1="374.5" x2="334.6" y2="432.3" stroke="#bebebe" stroke-width="0.8"/>
<line x1="337.4" y1="374.5" x2="337.4" y2="432.3" stroke="#bebebe" stroke-width="0.8"/>
<line x1="339.6" y1="374.5" x2="339.6" y2="432.3" stroke="#bebebe" stroke-width="0.8"/>
<line x1="206.4" y1="374.5" x2="206.4" y2="432.3" stroke="#999999" stroke-width="0.8"/>
<line x1="201.7" y1="374.5" x2="201.7" y2="432.3" stroke="#999999" stroke-width="0.8"/>
<line x1="275.6" y1="374.5" x2="275.6" y2="432.3" stroke="#999999" stroke-width="0.8"/>
<line x1="104.7" y1="374.5" x2="513.6" y2="374.5" stroke="#9a9a9a" stroke-width="1.3"/>
<line x1="513.6" y1="374.5" x2="513.6" y2="432.3" stroke="#8a8a8a" stroke-width="0.9"/>
<line x1="104.7" y1="374.5" x2="104.7" y2="432.3" stroke="#a0a0a0" stroke-width="1.1"/>
<line x1="104.7" y1="372.9" x2="104.7" y2="376.1" stroke="#888" stroke-width="0.8"/>
<line x1="138.78" y1="373.5" x2="138.78" y2="375.5" stroke="#aaa" stroke-width="0.7"/>
<line x1="172.85" y1="372.9" x2="172.85" y2="376.1" stroke="#888" stroke-width="0.8"/>
<line x1="206.93" y1="373.5" x2="206.93" y2="375.5" stroke="#aaa" stroke-width="0.7"/>
<line x1="241" y1="372.9" x2="241" y2="376.1" stroke="#888" stroke-width="0.8"/>
<line x1="275.08" y1="373.5" x2="275.08" y2="375.5" stroke="#aaa" stroke-width="0.7"/>
<line x1="309.15" y1="372.9" x2="309.15" y2="376.1" stroke="#888" stroke-width="0.8"/>
<line x1="343.23" y1="373.5" x2="343.23" y2="375.5" stroke="#aaa" stroke-width="0.7"/>
<line x1="377.3" y1="372.9" x2="377.3" y2="376.1" stroke="#888" stroke-width="0.8"/>
<line x1="411.38" y1="373.5" x2="411.38" y2="375.5" stroke="#aaa" stroke-width="0.7"/>
<line x1="445.45" y1="372.9" x2="445.45" y2="376.1" stroke="#888" stroke-width="0.8"/>
<line x1="479.53" y1="373.5" x2="479.53" y2="375.5" stroke="#aaa" stroke-width="0.7"/>
<line x1="513.6" y1="372.9" x2="513.6" y2="376.1" stroke="#888" stroke-width="0.8"/>
<text x="104.7" y="371.3" font-size="6.4" fill="#333" text-anchor="middle" font-weight="normal" font-family='"Liberation Sans", sans-serif' letter-spacing="0.1">50</text>
<text x="172.85" y="371.3" font-size="6.4" fill="#333" text-anchor="middle" font-weight="normal" font-family='"Liberation Sans", sans-serif' letter-spacing="0.1">150</text>
<text x="241" y="371.3" font-size="6.4" fill="#333" text-anchor="middle" font-weight="normal" font-family='"Liberation Sans", sans-serif' letter-spacing="0.1">250</text>
<text x="309.15" y="371.3" font-size="6.4" fill="#333" text-anchor="middle" font-weight="normal" font-family='"Liberation Sans", sans-serif' letter-spacing="0.1">350</text>
<text x="377.3" y="371.3" font-size="6.4" fill="#333" text-anchor="middle" font-weight="normal" font-family='"Liberation Sans", sans-serif' letter-spacing="0.1">450</text>
<text x="445.45" y="371.3" font-size="6.4" fill="#333" text-anchor="middle" font-weight="normal" font-family='"Liberation Sans", sans-serif' letter-spacing="0.1">550</text>
<text x="513.6" y="371.3" font-size="6.4" fill="#333" text-anchor="middle" font-weight="normal" font-family='"Liberation Sans", sans-serif' letter-spacing="0.1">650</text>
<text x="101.2" y="389.6" font-size="5.9" fill="#333" text-anchor="end" font-weight="normal" font-family='"Liberation Sans", sans-serif' letter-spacing="0.1">12000</text>
<line x1="102.2" y1="387.4" x2="106.7" y2="387.4" stroke="#999" stroke-width="0.8"/>
<text x="101.2" y="404.3" font-size="5.9" fill="#333" text-anchor="end" font-weight="normal" font-family='"Liberation Sans", sans-serif' letter-spacing="0.1">8000</text>
<line x1="102.2" y1="402.1" x2="106.7" y2="402.1" stroke="#999" stroke-width="0.8"/>
<text x="101.2" y="419.3" font-size="5.9" fill="#333" text-anchor="end" font-weight="normal" font-family='"Liberation Sans", sans-serif' letter-spacing="0.1">4000</text>
<line x1="102.2" y1="417.1" x2="106.7" y2="417.1" stroke="#999" stroke-width="0.8"/>
<text x="101.2" y="434.5" font-size="5.9" fill="#333" text-anchor="end" font-weight="normal" font-family='"Liberation Sans", sans-serif' letter-spacing="0.1">0</text>
<line x1="102.2" y1="432.3" x2="106.7" y2="432.3" stroke="#999" stroke-width="0.8"/>
<line x1="102.7" y1="394.75" x2="106.7" y2="394.75" stroke="#aaa" stroke-width="0.7"/>
<line x1="102.7" y1="409.6" x2="106.7" y2="409.6" stroke="#aaa" stroke-width="0.7"/>
<line x1="102.7" y1="424.7" x2="106.7" y2="424.7" stroke="#aaa" stroke-width="0.7"/>
<line x1="103.2" y1="380.05" x2="104.7" y2="380.05" stroke="#aaa" stroke-width="0.7"/>
<line x1="104.7" y1="432.3" x2="513.6" y2="432.3" stroke="#333333" stroke-width="1.1"/>
<polygon points="154.8,432.3 155.55,429.3 155.9,396.3 156.5,395 157.1,396.3 157.45,429.3 158.2,432.3" fill="#151515"/>
<polygon points="193.6,432.3 194.35,429.3 194.7,413.8 195.3,412.5 195.9,413.8 196.25,429.3 197,432.3" fill="#151515"/>
<polygon points="196,432.3 196.95,429.3 197.3,412.8 197.9,411.5 198.5,412.8 198.85,429.3 199.8,432.3" fill="#151515"/>
<polygon points="222.9,432.3 223.85,429.3 224.2,395.8 224.8,394.5 225.4,395.8 225.75,429.3 226.7,432.3" fill="#151515"/>
<polygon points="225.9,432.3 226.65,429.3 227,401.1 227.6,399.8 228.2,401.1 228.55,429.3 229.3,432.3" fill="#151515"/>
<polygon points="273.9,432.3 274.65,429.3 275,375.5 275.6,374.2 276.2,375.5 276.55,429.3 277.3,432.3" fill="#151515"/>
<polygon points="318.9,432.3 319.85,429.3 320.2,403 320.8,401.7 321.4,403 321.75,429.3 322.7,432.3" fill="#151515"/>
<polygon points="327.2,432.3 328.15,429.3 328.5,406.3 329.1,405 329.7,406.3 330.05,429.3 331,432.3" fill="#151515"/>
<polygon points="152,432.3 154,430.3 156,432.3" fill="#151515"/>
<polygon points="165.5,432.3 167.5,430.8 169.5,432.3" fill="#151515"/>
<polygon points="191,432.3 193,431.3 195,432.3" fill="#151515"/>
<polygon points="220.5,432.3 222.5,430.3 224.5,432.3" fill="#151515"/>
<polygon points="244.5,432.3 246.5,430.8 248.5,432.3" fill="#151515"/>
<polygon points="270.3,432.3 272.3,429.3 274.3,432.3" fill="#151515"/>
<polygon points="308,432.3 310,431.3 312,432.3" fill="#151515"/>
<polygon points="316,432.3 318,430.3 320,432.3" fill="#151515"/>
<polygon points="324.5,432.3 326.5,430.3 328.5,432.3" fill="#151515"/>
<line x1="156.5" y1="432.3" x2="156.5" y2="435.6" stroke="#5a5a5a" stroke-width="0.9"/>
<line x1="195.3" y1="432.3" x2="195.3" y2="435.6" stroke="#5a5a5a" stroke-width="0.9"/>
<line x1="197.9" y1="432.3" x2="197.9" y2="451.3" stroke="#5a5a5a" stroke-width="0.9"/>
<line x1="224.8" y1="432.3" x2="224.8" y2="435.6" stroke="#5a5a5a" stroke-width="0.9"/>
<line x1="227.6" y1="432.3" x2="227.6" y2="451.3" stroke="#5a5a5a" stroke-width="0.9"/>
<line x1="275.6" y1="432.3" x2="275.6" y2="435.6" stroke="#5a5a5a" stroke-width="0.9"/>
<line x1="320.8" y1="432.3" x2="320.8" y2="435.6" stroke="#5a5a5a" stroke-width="0.9"/>
<line x1="329.1" y1="432.3" x2="329.1" y2="451.3" stroke="#5a5a5a" stroke-width="0.9"/>
<rect x="150.7" y="436.1" width="12.7" height="11.8" fill="#fff" stroke="#5a5a5a" stroke-width="1"/>
<text x="157.05" y="446.4" font-size="10.4" fill="#1a1a1a" text-anchor="middle" font-weight="normal" font-family='"Liberation Sans", sans-serif' >11</text>
<rect x="189.2" y="436.1" width="13.1" height="11.8" fill="#fff" stroke="#5a5a5a" stroke-width="1"/>
<text x="195.75" y="446.4" font-size="10.4" fill="#1a1a1a" text-anchor="middle" font-weight="normal" font-family='"Liberation Sans", sans-serif' >18</text>
<rect x="192.1" y="451.8" width="13.3" height="11.2" fill="#fff" stroke="#5a5a5a" stroke-width="1"/>
<text x="198.75" y="461.5" font-size="10.4" fill="#1a1a1a" text-anchor="middle" font-weight="normal" font-family='"Liberation Sans", sans-serif' >19</text>
<rect x="213.8" y="436.1" width="21.9" height="11.8" fill="#fff" stroke="#5a5a5a" stroke-width="1"/>
<text x="224.75" y="446.4" font-size="10.4" fill="#1a1a1a" text-anchor="middle" font-weight="normal" font-family='"Liberation Sans", sans-serif' >13.3</text>
<rect x="216.6" y="451.8" width="22.6" height="11.2" fill="#fff" stroke="#5a5a5a" stroke-width="1"/>
<text x="227.9" y="461.5" font-size="10.4" fill="#1a1a1a" text-anchor="middle" font-weight="normal" font-family='"Liberation Sans", sans-serif' >14.3</text>
<rect x="269.1" y="436.1" width="13.4" height="11.8" fill="#fff" stroke="#5a5a5a" stroke-width="1"/>
<text x="275.8" y="446.4" font-size="10.4" fill="#1a1a1a" text-anchor="middle" font-weight="normal" font-family='"Liberation Sans", sans-serif' >19</text>
<rect x="315.4" y="436.1" width="11.7" height="11.8" fill="#fff" stroke="#5a5a5a" stroke-width="1"/>
<text x="321.25" y="446.4" font-size="10.4" fill="#1a1a1a" text-anchor="middle" font-weight="normal" font-family='"Liberation Sans", sans-serif' >31</text>
<rect x="322.8" y="451.8" width="13.9" height="11.2" fill="#fff" stroke="#5a5a5a" stroke-width="1"/>
<text x="329.75" y="461.5" font-size="10.4" fill="#1a1a1a" text-anchor="middle" font-weight="normal" font-family='"Liberation Sans", sans-serif' >34</text>
<rect x="67.2" y="496.3" width="451.6" height="152" fill="#fff" stroke="#8c8c8c" stroke-width="1"/>
<line x1="67.2" y1="496.6" x2="518.8" y2="496.6" stroke="#444" stroke-width="1"/>
<line x1="67.2" y1="505.5" x2="518.8" y2="505.5" stroke="#333" stroke-width="1.8"/>
<line x1="518.8" y1="496.3" x2="518.8" y2="512.7" stroke="#333" stroke-width="1.3"/>
<line x1="67.2" y1="496.3" x2="67.2" y2="512.7" stroke="#555" stroke-width="1"/>
<line x1="128.2" y1="497.3" x2="128.2" y2="511.7" stroke="#c8c8c8" stroke-width="0.7"/>
<line x1="193.6" y1="497.3" x2="193.6" y2="511.7" stroke="#c8c8c8" stroke-width="0.7"/>
<line x1="283.8" y1="497.3" x2="283.8" y2="511.7" stroke="#c8c8c8" stroke-width="0.7"/>
<line x1="323.6" y1="497.3" x2="323.6" y2="511.7" stroke="#c8c8c8" stroke-width="0.7"/>
<line x1="362.1" y1="497.3" x2="362.1" y2="511.7" stroke="#c8c8c8" stroke-width="0.7"/>
<line x1="398.8" y1="497.3" x2="398.8" y2="511.7" stroke="#c8c8c8" stroke-width="0.7"/>
<line x1="441.2" y1="497.3" x2="441.2" y2="511.7" stroke="#c8c8c8" stroke-width="0.7"/>
<line x1="478.5" y1="497.3" x2="478.5" y2="511.7" stroke="#c8c8c8" stroke-width="0.7"/>
<text x="69.8" y="503.9" font-size="5.6" fill="#111" text-anchor="start" font-weight="bold" font-family='"Liberation Sans", sans-serif' letter-spacing="0.3">Sample File</text>
<text x="130.8" y="503.9" font-size="5.6" fill="#111" text-anchor="start" font-weight="bold" font-family='"Liberation Sans", sans-serif' letter-spacing="0.3">Sample Name</text>
<text x="196.2" y="503.9" font-size="5.6" fill="#111" text-anchor="start" font-weight="bold" font-family='"Liberation Sans", sans-serif' letter-spacing="0.3">Panel</text>
<text x="286.4" y="503.9" font-size="5.6" fill="#111" text-anchor="start" font-weight="bold" font-family='"Liberation Sans", sans-serif' letter-spacing="0.3">SQO</text>
<text x="326.2" y="503.9" font-size="5.6" fill="#111" text-anchor="start" font-weight="bold" font-family='"Liberation Sans", sans-serif' letter-spacing="0.3">SOS</text>
<text x="364.7" y="503.9" font-size="5.6" fill="#111" text-anchor="start" font-weight="bold" font-family='"Liberation Sans", sans-serif' letter-spacing="0.3">SQ</text>
<text x="401.4" y="503.9" font-size="5.6" fill="#111" text-anchor="start" font-weight="bold" font-family='"Liberation Sans", sans-serif' letter-spacing="0.3">SSPK</text>
<text x="443.8" y="503.9" font-size="5.6" fill="#111" text-anchor="start" font-weight="bold" font-family='"Liberation Sans", sans-serif' letter-spacing="0.3">MIX</text>
<text x="481.1" y="503.9" font-size="5.6" fill="#111" text-anchor="start" font-weight="bold" font-family='"Liberation Sans", sans-serif' letter-spacing="0.3">CGG</text>
<line x1="67.2" y1="512.7" x2="518.8" y2="512.7" stroke="#333" stroke-width="1.8"/>
<text x="69.4" y="511.5" font-size="5.8" fill="#222" text-anchor="start" font-weight="normal" font-family='"Liberation Sans", sans-serif' letter-spacing="0.3">D01_C11.fsa</text>
<text x="130.4" y="511.5" font-size="5.8" fill="#222" text-anchor="start" font-weight="bold" font-family='"Liberation Sans", sans-serif' letter-spacing="0">D01</text>
<text x="195.8" y="511.5" font-size="5.8" fill="#222" text-anchor="start" font-weight="bold" font-family='"Liberation Sans", sans-serif' letter-spacing="0">MR19X Kits_Panels_1.3</text>
<rect x="340.3" y="506.5" width="6.5" height="5.2" fill="#3aa53a"/>
<rect x="377.6" y="506.5" width="6.3" height="5.2" fill="#3aa53a"/>
<polygon points="416,511.7 424,511.7 420,507" fill="#e4dc3a"/>
<rect x="457" y="506.5" width="6.2" height="5.2" fill="#3aa53a"/>
<polygon points="494.7,511.7 502.7,511.7 498.7,507" fill="#e4dc3a"/>
<rect x="126.5" y="515.8" width="30.3" height="8.2" fill="#fff" stroke="#3f9c3f" stroke-width="1.1"/>
<rect x="157.8" y="515.8" width="42.7" height="8.2" fill="#fff" stroke="#3f9c3f" stroke-width="1.1"/>
<rect x="202.3" y="515.8" width="77.9" height="8.2" fill="#fff" stroke="#e7a43a" stroke-width="1.1"/>
<rect x="284.5" y="515.8" width="64.4" height="8.2" fill="#fff" stroke="#e7a43a" stroke-width="1.1"/>
<text x="127.5" y="522.9" font-size="6.1" fill="#333" text-anchor="start" font-weight="normal" font-family='"Liberation Sans", sans-serif' letter-spacing="0.2">GATA165B12</text>
<text x="179.25" y="522.9" font-size="6.1" fill="#333" text-anchor="middle" font-weight="normal" font-family='"Liberation Sans", sans-serif' letter-spacing="0.2">DXS10079</text>
<text x="241.35" y="522.9" font-size="6.1" fill="#333" text-anchor="middle" font-weight="normal" font-family='"Liberation Sans", sans-serif' letter-spacing="0.2">DXS10135</text>
<text x="316.8" y="522.9" font-size="6.1" fill="#333" text-anchor="middle" font-weight="normal" font-family='"Liberation Sans", sans-serif' letter-spacing="0.2">HPRTB</text>
<rect x="177" y="536.5" width="3" height="58.5" fill="#ebebeb"/>
<rect x="183" y="536.5" width="5" height="58.5" fill="#ebebeb"/>
<rect x="210" y="536.5" width="3" height="58.5" fill="#ebebeb"/>
<line x1="127.8" y1="536.5" x2="127.8" y2="595" stroke="#eeaaaa" stroke-width="0.8"/>
<line x1="181.2" y1="536.5" x2="181.2" y2="595" stroke="#eeaaaa" stroke-width="0.8"/>
<line x1="224" y1="536.5" x2="224" y2="595" stroke="#eeaaaa" stroke-width="0.8"/>
<line x1="268.6" y1="536.5" x2="268.6" y2="595" stroke="#eeaaaa" stroke-width="0.8"/>
<line x1="299.5" y1="536.5" x2="299.5" y2="595" stroke="#eeaaaa" stroke-width="0.8"/>
<line x1="322.1" y1="536.5" x2="322.1" y2="595" stroke="#eeaaaa" stroke-width="0.8"/>
<line x1="324.7" y1="536.5" x2="324.7" y2="595" stroke="#eeaaaa" stroke-width="0.8"/>
<line x1="133.5" y1="536.5" x2="133.5" y2="595" stroke="#bebebe" stroke-width="0.8"/>
<line x1="138.7" y1="536.5" x2="138.7" y2="595" stroke="#bebebe" stroke-width="0.8"/>
<line x1="141.5" y1="536.5" x2="141.5" y2="595" stroke="#bebebe" stroke-width="0.8"/>
<line x1="144.3" y1="536.5" x2="144.3" y2="595" stroke="#bebebe" stroke-width="0.8"/>
<line x1="165.6" y1="536.5" x2="165.6" y2="595" stroke="#bebebe" stroke-width="0.8"/>
<line x1="171.8" y1="536.5" x2="171.8" y2="595" stroke="#bebebe" stroke-width="0.8"/>
<line x1="174.6" y1="536.5" x2="174.6" y2="595" stroke="#bebebe" stroke-width="0.8"/>
<line x1="177.4" y1="536.5" x2="177.4" y2="595" stroke="#bebebe" stroke-width="0.8"/>
<line x1="187.8" y1="536.5" x2="187.8" y2="595" stroke="#bebebe" stroke-width="0.8"/>
<line x1="191.1" y1="536.5" x2="191.1" y2="595" stroke="#bebebe" stroke-width="0.8"/>
<line x1="208.2" y1="536.5" x2="208.2" y2="595" stroke="#bebebe" stroke-width="0.8"/>
<line x1="211" y1="536.5" x2="211" y2="595" stroke="#bebebe" stroke-width="0.8"/>
<line x1="213.8" y1="536.5" x2="213.8" y2="595" stroke="#bebebe" stroke-width="0.8"/>
<line x1="216.7" y1="536.5" x2="216.7" y2="595" stroke="#bebebe" stroke-width="0.8"/>
<line x1="208.5" y1="536.5" x2="208.5" y2="595" stroke="#bebebe" stroke-width="0.8"/>
<line x1="211.3" y1="536.5" x2="211.3" y2="595" stroke="#bebebe" stroke-width="0.8"/>
<line x1="219.2" y1="536.5" x2="219.2" y2="595" stroke="#bebebe" stroke-width="0.8"/>
<line x1="221.6" y1="536.5" x2="221.6" y2="595" stroke="#bebebe" stroke-width="0.8"/>
<line x1="226.7" y1="536.5" x2="226.7" y2="595" stroke="#bebebe" stroke-width="0.8"/>
<line x1="229.4" y1="536.5" x2="229.4" y2="595" stroke="#bebebe" stroke-width="0.8"/>
<line x1="231.6" y1="536.5" x2="231.6" y2="595" stroke="#bebebe" stroke-width="0.8"/>
<line x1="234.3" y1="536.5" x2="234.3" y2="595" stroke="#bebebe" stroke-width="0.8"/>
<line x1="236.5" y1="536.5" x2="236.5" y2="595" stroke="#bebebe" stroke-width="0.8"/>
<line x1="241.8" y1="536.5" x2="241.8" y2="595" stroke="#bebebe" stroke-width="0.8"/>
<line x1="244.5" y1="536.5" x2="244.5" y2="595" stroke="#bebebe" stroke-width="0.8"/>
<line x1="247.2" y1="536.5" x2="247.2" y2="595" stroke="#bebebe" stroke-width="0.8"/>
<line x1="249.4" y1="536.5" x2="249.4" y2="595" stroke="#bebebe" stroke-width="0.8"/>
<line x1="252" y1="536.5" x2="252" y2="595" stroke="#bebebe" stroke-width="0.8"/>
<line x1="254.8" y1="536.5" x2="254.8" y2="595" stroke="#bebebe" stroke-width="0.8"/>
<line x1="257.4" y1="536.5" x2="257.4" y2="595" stroke="#bebebe" stroke-width="0.8"/>
<line x1="260.2" y1="536.5" x2="260.2" y2="595" stroke="#bebebe" stroke-width="0.8"/>
<line x1="262.9" y1="536.5" x2="262.9" y2="595" stroke="#bebebe" stroke-width="0.8"/>
<line x1="265.6" y1="536.5" x2="265.6" y2="595" stroke="#bebebe" stroke-width="0.8"/>
<line x1="302.3" y1="536.5" x2="302.3" y2="595" stroke="#bebebe" stroke-width="0.8"/>
<line x1="305" y1="536.5" x2="305" y2="595" stroke="#bebebe" stroke-width="0.8"/>
<line x1="307.8" y1="536.5" x2="307.8" y2="595" stroke="#bebebe" stroke-width="0.8"/>
<line x1="316.6" y1="536.5" x2="316.6" y2="595" stroke="#bebebe" stroke-width="0.8"/>
<line x1="319.4" y1="536.5" x2="319.4" y2="595" stroke="#bebebe" stroke-width="0.8"/>
<line x1="136.3" y1="536.5" x2="136.3" y2="595" stroke="#999999" stroke-width="0.8"/>
<line x1="147.2" y1="536.5" x2="147.2" y2="595" stroke="#999999" stroke-width="0.8"/>
<line x1="168.9" y1="536.5" x2="168.9" y2="595" stroke="#999999" stroke-width="0.8"/>
<line x1="194.5" y1="536.5" x2="194.5" y2="595" stroke="#999999" stroke-width="0.8"/>
<line x1="313.6" y1="536.5" x2="313.6" y2="595" stroke="#999999" stroke-width="0.8"/>
<line x1="103.7" y1="536.5" x2="512.4" y2="536.5" stroke="#9a9a9a" stroke-width="1.3"/>
<line x1="512.4" y1="536.5" x2="512.4" y2="595" stroke="#8a8a8a" stroke-width="0.9"/>
<line x1="103.7" y1="536.5" x2="103.7" y2="595" stroke="#a0a0a0" stroke-width="1.1"/>
<line x1="103.7" y1="534.9" x2="103.7" y2="538.1" stroke="#888" stroke-width="0.8"/>
<line x1="137.76" y1="535.5" x2="137.76" y2="537.5" stroke="#aaa" stroke-width="0.7"/>
<line x1="171.82" y1="534.9" x2="171.82" y2="538.1" stroke="#888" stroke-width="0.8"/>
<line x1="205.88" y1="535.5" x2="205.88" y2="537.5" stroke="#aaa" stroke-width="0.7"/>
<line x1="239.93" y1="534.9" x2="239.93" y2="538.1" stroke="#888" stroke-width="0.8"/>
<line x1="273.99" y1="535.5" x2="273.99" y2="537.5" stroke="#aaa" stroke-width="0.7"/>
<line x1="308.05" y1="534.9" x2="308.05" y2="538.1" stroke="#888" stroke-width="0.8"/>
<line x1="342.11" y1="535.5" x2="342.11" y2="537.5" stroke="#aaa" stroke-width="0.7"/>
<line x1="376.17" y1="534.9" x2="376.17" y2="538.1" stroke="#888" stroke-width="0.8"/>
<line x1="410.23" y1="535.5" x2="410.23" y2="537.5" stroke="#aaa" stroke-width="0.7"/>
<line x1="444.28" y1="534.9" x2="444.28" y2="538.1" stroke="#888" stroke-width="0.8"/>
<line x1="478.34" y1="535.5" x2="478.34" y2="537.5" stroke="#aaa" stroke-width="0.7"/>
<line x1="512.4" y1="534.9" x2="512.4" y2="538.1" stroke="#888" stroke-width="0.8"/>
<text x="103.7" y="533.3" font-size="6.4" fill="#333" text-anchor="middle" font-weight="normal" font-family='"Liberation Sans", sans-serif' letter-spacing="0.1">50</text>
<text x="171.82" y="533.3" font-size="6.4" fill="#333" text-anchor="middle" font-weight="normal" font-family='"Liberation Sans", sans-serif' letter-spacing="0.1">150</text>
<text x="239.93" y="533.3" font-size="6.4" fill="#333" text-anchor="middle" font-weight="normal" font-family='"Liberation Sans", sans-serif' letter-spacing="0.1">250</text>
<text x="308.05" y="533.3" font-size="6.4" fill="#333" text-anchor="middle" font-weight="normal" font-family='"Liberation Sans", sans-serif' letter-spacing="0.1">350</text>
<text x="376.17" y="533.3" font-size="6.4" fill="#333" text-anchor="middle" font-weight="normal" font-family='"Liberation Sans", sans-serif' letter-spacing="0.1">450</text>
<text x="444.28" y="533.3" font-size="6.4" fill="#333" text-anchor="middle" font-weight="normal" font-family='"Liberation Sans", sans-serif' letter-spacing="0.1">550</text>
<text x="512.4" y="533.3" font-size="6.4" fill="#333" text-anchor="middle" font-weight="normal" font-family='"Liberation Sans", sans-serif' letter-spacing="0.1">650</text>
<text x="100.2" y="551.1" font-size="5.9" fill="#333" text-anchor="end" font-weight="normal" font-family='"Liberation Sans", sans-serif' letter-spacing="0.1">7200</text>
<line x1="101.2" y1="548.9" x2="105.7" y2="548.9" stroke="#999" stroke-width="0.8"/>
<text x="100.2" y="566.7" font-size="5.9" fill="#333" text-anchor="end" font-weight="normal" font-family='"Liberation Sans", sans-serif' letter-spacing="0.1">4800</text>
<line x1="101.2" y1="564.5" x2="105.7" y2="564.5" stroke="#999" stroke-width="0.8"/>
<text x="100.2" y="581.9" font-size="5.9" fill="#333" text-anchor="end" font-weight="normal" font-family='"Liberation Sans", sans-serif' letter-spacing="0.1">2400</text>
<line x1="101.2" y1="579.7" x2="105.7" y2="579.7" stroke="#999" stroke-width="0.8"/>
<text x="100.2" y="597.2" font-size="5.9" fill="#333" text-anchor="end" font-weight="normal" font-family='"Liberation Sans", sans-serif' letter-spacing="0.1">0</text>
<line x1="101.2" y1="595" x2="105.7" y2="595" stroke="#999" stroke-width="0.8"/>
<line x1="101.7" y1="556.7" x2="105.7" y2="556.7" stroke="#aaa" stroke-width="0.7"/>
<line x1="101.7" y1="572.1" x2="105.7" y2="572.1" stroke="#aaa" stroke-width="0.7"/>
<line x1="101.7" y1="587.35" x2="105.7" y2="587.35" stroke="#aaa" stroke-width="0.7"/>
<line x1="102.2" y1="541.1" x2="103.7" y2="541.1" stroke="#aaa" stroke-width="0.7"/>
<line x1="103.7" y1="595" x2="512.4" y2="595" stroke="#9a4040" stroke-width="1.1"/>
<polygon points="103,595 103.65,592 104,543.2 104.6,541.9 105.2,543.2 105.55,592 106.2,595" fill="#d42222"/>
<polygon points="134.6,595 135.35,592 135.7,569.9 136.3,568.6 136.9,569.9 137.25,592 138,595" fill="#d42222"/>
<polygon points="139.8,595 140.55,592 140.9,570.6 141.5,569.3 142.1,570.6 142.45,592 143.2,595" fill="#d42222"/>
<polygon points="181.6,595 182.35,592 182.7,571.3 183.3,570 183.9,571.3 184.25,592 185,595" fill="#d42222"/>
<polygon points="189.7,595 190.45,592 190.8,573.9 191.4,572.6 192,573.9 192.35,592 193.1,595" fill="#d42222"/>
<polygon points="222.8,595 223.55,592 223.9,561 224.5,559.7 225.1,561 225.45,592 226.2,595" fill="#d42222"/>
<polygon points="238,595 238.75,592 239.1,563 239.7,561.7 240.3,563 240.65,592 241.4,595" fill="#d42222"/>
<polygon points="311.6,595 312.65,592 313,537.5 313.6,536.2 314.2,537.5 314.55,592 315.6,595" fill="#d42222"/>
<polygon points="136.5,595 138.5,593.5 140.5,595" fill="#d42222"/>
<polygon points="163,595 165,593.8 167,595" fill="#d42222"/>
<polygon points="185.5,595 187.5,593 189.5,595" fill="#d42222"/>
<polygon points="219.5,595 221.5,592.5 223.5,595" fill="#d42222"/>
<polygon points="234.5,595 236.5,593 238.5,595" fill="#d42222"/>
<polygon points="272,595 274,593.5 276,595" fill="#d42222"/>
<polygon points="308.5,595 310.5,591 312.5,595" fill="#d42222"/>
<polygon points="317,595 319,594 321,595" fill="#d42222"/>
<line x1="136.3" y1="595" x2="136.3" y2="598.6" stroke="#d06868" stroke-width="0.9"/>
<line x1="141.5" y1="595" x2="141.5" y2="613.7" stroke="#d06868" stroke-width="0.9"/>
<line x1="183.3" y1="595" x2="183.3" y2="598.6" stroke="#d06868" stroke-width="0.9"/>
<line x1="191.4" y1="595" x2="191.4" y2="613.7" stroke="#d06868" stroke-width="0.9"/>
<line x1="224.5" y1="595" x2="224.5" y2="598.6" stroke="#d06868" stroke-width="0.9"/>
<line x1="239.7" y1="595" x2="239.7" y2="613.7" stroke="#d06868" stroke-width="0.9"/>
<line x1="313.6" y1="595" x2="313.6" y2="598.6" stroke="#d06868" stroke-width="0.9"/>
<rect x="132.2" y="599.1" width="8.7" height="11" fill="#fff" stroke="#d06868" stroke-width="1"/>
<text x="136.55" y="608.6" font-size="10.4" fill="#1a1a1a" text-anchor="middle" font-weight="normal" font-family='"Liberation Sans", sans-serif' >9</text>
<rect x="135.9" y="614.2" width="12.1" height="11.7" fill="#fff" stroke="#d06868" stroke-width="1"/>
<text x="141.95" y="624.4" font-size="10.4" fill="#1a1a1a" text-anchor="middle" font-weight="normal" font-family='"Liberation Sans", sans-serif' >11</text>
<rect x="177.3" y="599.1" width="13.3" height="11" fill="#fff" stroke="#d06868" stroke-width="1"/>
<text x="183.95" y="608.6" font-size="10.4" fill="#1a1a1a" text-anchor="middle" font-weight="normal" font-family='"Liberation Sans", sans-serif' >20</text>
<rect x="184.9" y="614.2" width="13.9" height="11.7" fill="#fff" stroke="#d06868" stroke-width="1"/>
<text x="191.85" y="624.4" font-size="10.4" fill="#1a1a1a" text-anchor="middle" font-weight="normal" font-family='"Liberation Sans", sans-serif' >23</text>
<rect x="214.6" y="599.1" width="20.5" height="11" fill="#fff" stroke="#d06868" stroke-width="1"/>
<text x="224.85" y="608.6" font-size="10.4" fill="#1a1a1a" text-anchor="middle" font-weight="normal" font-family='"Liberation Sans", sans-serif' >21.1</text>
<rect x="232.6" y="614.2" width="14.4" height="11.7" fill="#fff" stroke="#d06868" stroke-width="1"/>
<text x="239.8" y="624.4" font-size="10.4" fill="#1a1a1a" text-anchor="middle" font-weight="normal" font-family='"Liberation Sans", sans-serif' >27</text>
<rect x="307.5" y="599.1" width="13.2" height="11" fill="#fff" stroke="#d06868" stroke-width="1"/>
<text x="314.1" y="608.6" font-size="10.4" fill="#1a1a1a" text-anchor="middle" font-weight="normal" font-family='"Liberation Sans", sans-serif' >14</text>
<rect x="662.8" y="35.6" width="597" height="138.1" fill="#fff" stroke="#8c8c8c" stroke-width="1"/>
<line x1="662.8" y1="35.9" x2="1259.8" y2="35.9" stroke="#444" stroke-width="1"/>
<line x1="662.8" y1="43.9" x2="1259.8" y2="43.9" stroke="#333" stroke-width="1.8"/>
<line x1="1259.8" y1="35.6" x2="1259.8" y2="50.5" stroke="#333" stroke-width="1.3"/>
<line x1="662.8" y1="35.6" x2="662.8" y2="50.5" stroke="#555" stroke-width="1"/>
<line x1="747.9" y1="36.6" x2="747.9" y2="49.5" stroke="#c8c8c8" stroke-width="0.7"/>
<line x1="838.9" y1="36.6" x2="838.9" y2="49.5" stroke="#c8c8c8" stroke-width="0.7"/>
<line x1="922.6" y1="36.6" x2="922.6" y2="49.5" stroke="#c8c8c8" stroke-width="0.7"/>
<line x1="979.5" y1="36.6" x2="979.5" y2="49.5" stroke="#c8c8c8" stroke-width="0.7"/>
<line x1="1035.5" y1="36.6" x2="1035.5" y2="49.5" stroke="#c8c8c8" stroke-width="0.7"/>
<line x1="1087.1" y1="36.6" x2="1087.1" y2="49.5" stroke="#c8c8c8" stroke-width="0.7"/>
<line x1="1148" y1="36.6" x2="1148" y2="49.5" stroke="#c8c8c8" stroke-width="0.7"/>
<line x1="1201.5" y1="36.6" x2="1201.5" y2="49.5" stroke="#c8c8c8" stroke-width="0.7"/>
<text x="665.4" y="42.3" font-size="6.2" fill="#111" text-anchor="start" font-weight="bold" font-family='"Liberation Sans", sans-serif' letter-spacing="1.1">Sample File</text>
<text x="750.5" y="42.3" font-size="6.2" fill="#111" text-anchor="start" font-weight="bold" font-family='"Liberation Sans", sans-serif' letter-spacing="1.1">Sample Name</text>
<text x="841.5" y="42.3" font-size="6.2" fill="#111" text-anchor="start" font-weight="bold" font-family='"Liberation Sans", sans-serif' letter-spacing="1.1">Panel</text>
<text x="925.2" y="42.3" font-size="6.2" fill="#111" text-anchor="start" font-weight="bold" font-family='"Liberation Sans", sans-serif' letter-spacing="1.1">SQO</text>
<text x="982.1" y="42.3" font-size="6.2" fill="#111" text-anchor="start" font-weight="bold" font-family='"Liberation Sans", sans-serif' letter-spacing="1.1">SOS</text>
<text x="1038.1" y="42.3" font-size="6.2" fill="#111" text-anchor="start" font-weight="bold" font-family='"Liberation Sans", sans-serif' letter-spacing="1.1">SQ</text>
<text x="1089.7" y="42.3" font-size="6.2" fill="#111" text-anchor="start" font-weight="bold" font-family='"Liberation Sans", sans-serif' letter-spacing="1.1">SSPK</text>
<text x="1150.6" y="42.3" font-size="6.2" fill="#111" text-anchor="start" font-weight="bold" font-family='"Liberation Sans", sans-serif' letter-spacing="1.1">MIX</text>
<text x="1204.1" y="42.3" font-size="6.2" fill="#111" text-anchor="start" font-weight="bold" font-family='"Liberation Sans", sans-serif' letter-spacing="1.1">CGG</text>
<line x1="662.8" y1="50.5" x2="1259.8" y2="50.5" stroke="#333" stroke-width="1.8"/>
<text x="665" y="49.3" font-size="6.6" fill="#222" text-anchor="start" font-weight="normal" font-family='"Liberation Sans", sans-serif' letter-spacing="0.9">D02_C12.fsa</text>
<text x="750.1" y="49.3" font-size="6.6" fill="#222" text-anchor="start" font-weight="bold" font-family='"Liberation Sans", sans-serif' letter-spacing="0.6">D02</text>
<text x="841.1" y="49.3" font-size="6.6" fill="#222" text-anchor="start" font-weight="bold" font-family='"Liberation Sans", sans-serif' letter-spacing="0.6">MR29Y_v1.1</text>
<rect x="1003.8" y="44.9" width="8.1" height="4.6" fill="#3aa53a"/>
<rect x="1057.4" y="44.9" width="8" height="4.6" fill="#3aa53a"/>
<rect x="1113.4" y="44.9" width="8" height="4.6" fill="#3aa53a"/>
<rect x="1170.6" y="44.9" width="8.5" height="4.6" fill="#3aa53a"/>
<rect x="1227.1" y="44.9" width="8" height="4.6" fill="#3aa53a"/>
<rect x="750.5" y="54" width="43" height="6.6" fill="#fff" stroke="#3f9c3f" stroke-width="1.1"/>
<rect x="800.9" y="54" width="62.1" height="6.6" fill="#fff" stroke="#3f9c3f" stroke-width="1.1"/>
<rect x="864.7" y="54" width="46.3" height="6.6" fill="#fff" stroke="#3f9c3f" stroke-width="1.1"/>
<rect x="914.8" y="54" width="50.7" height="6.6" fill="#fff" stroke="#3f9c3f" stroke-width="1.1"/>
<rect x="969.8" y="54" width="37.7" height="6.6" fill="#fff" stroke="#3f9c3f" stroke-width="1.1"/>
<rect x="1010.9" y="54" width="42.3" height="6.6" fill="#fff" stroke="#3f9c3f" stroke-width="1.1"/>
<rect x="1055" y="54" width="62.3" height="6.6" fill="#fff" stroke="#3f9c3f" stroke-width="1.1"/>
<text x="772.17" y="59.5" font-size="7" fill="#333" text-anchor="middle" font-weight="normal" font-family='"Liberation Sans", sans-serif' letter-spacing="0.35">DYS393</text>
<text x="832.12" y="59.5" font-size="7" fill="#333" text-anchor="middle" font-weight="normal" font-family='"Liberation Sans", sans-serif' letter-spacing="0.35">DYS570</text>
<text x="888.02" y="59.5" font-size="7" fill="#333" text-anchor="middle" font-weight="normal" font-family='"Liberation Sans", sans-serif' letter-spacing="0.35">DYS19</text>
<text x="940.32" y="59.5" font-size="7" fill="#333" text-anchor="middle" font-weight="normal" font-family='"Liberation Sans", sans-serif' letter-spacing="0.35">DYS392</text>
<text x="988.82" y="59.5" font-size="7" fill="#333" text-anchor="middle" font-weight="normal" font-family='"Liberation Sans", sans-serif' letter-spacing="0.35">DYS549</text>
<text x="1032.22" y="59.5" font-size="7" fill="#333" text-anchor="middle" font-weight="normal" font-family='"Liberation Sans", sans-serif' letter-spacing="0.35">Y GATA H4</text>
<text x="1086.33" y="59.5" font-size="7" fill="#333" text-anchor="middle" font-weight="normal" font-family='"Liberation Sans", sans-serif' letter-spacing="0.35">DYF387S1</text>
<rect x="769" y="71.7" width="3" height="53.5" fill="#f4d2d2"/>
<rect x="771.5" y="71.7" width="3" height="53.5" fill="#ebebeb"/>
<rect x="838.7" y="71.7" width="1.9" height="53.5" fill="#f4d2d2"/>
<rect x="881.5" y="71.7" width="5.1" height="53.5" fill="#f4d2d2"/>
<line x1="881.5" y1="71.7" x2="881.5" y2="125.2" stroke="#eaa0a0" stroke-width="0.6"/>
<line x1="886.6" y1="71.7" x2="886.6" y2="125.2" stroke="#eaa0a0" stroke-width="0.6"/>
<rect x="930" y="71.7" width="12.7" height="53.5" fill="#f4d2d2"/>
<line x1="930" y1="71.7" x2="930" y2="125.2" stroke="#eaa0a0" stroke-width="0.6"/>
<line x1="933.17" y1="71.7" x2="933.17" y2="125.2" stroke="#eaa0a0" stroke-width="0.6"/>
<line x1="936.35" y1="71.7" x2="936.35" y2="125.2" stroke="#eaa0a0" stroke-width="0.6"/>
<line x1="939.53" y1="71.7" x2="939.53" y2="125.2" stroke="#eaa0a0" stroke-width="0.6"/>
<line x1="942.7" y1="71.7" x2="942.7" y2="125.2" stroke="#eaa0a0" stroke-width="0.6"/>
<rect x="985" y="71.7" width="3" height="53.5" fill="#ebebeb"/>
<line x1="751.1" y1="71.7" x2="751.1" y2="125.2" stroke="#eeaaaa" stroke-width="0.8"/>
<line x1="755.1" y1="71.7" x2="755.1" y2="125.2" stroke="#eeaaaa" stroke-width="0.8"/>
<line x1="770" y1="71.7" x2="770" y2="125.2" stroke="#eeaaaa" stroke-width="0.8"/>
<line x1="786.8" y1="71.7" x2="786.8" y2="125.2" stroke="#eeaaaa" stroke-width="0.8"/>
<line x1="790.8" y1="71.7" x2="790.8" y2="125.2" stroke="#eeaaaa" stroke-width="0.8"/>
<line x1="802.8" y1="71.7" x2="802.8" y2="125.2" stroke="#eeaaaa" stroke-width="0.8"/>
<line x1="806.6" y1="71.7" x2="806.6" y2="125.2" stroke="#eeaaaa" stroke-width="0.8"/>
<line x1="810.3" y1="71.7" x2="810.3" y2="125.2" stroke="#eeaaaa" stroke-width="0.8"/>
<line x1="813.5" y1="71.7" x2="813.5" y2="125.2" stroke="#eeaaaa" stroke-width="0.8"/>
<line x1="829.9" y1="71.7" x2="829.9" y2="125.2" stroke="#eeaaaa" stroke-width="0.8"/>
<line x1="850.7" y1="71.7" x2="850.7" y2="125.2" stroke="#eeaaaa" stroke-width="0.8"/>
<line x1="854.5" y1="71.7" x2="854.5" y2="125.2" stroke="#eeaaaa" stroke-width="0.8"/>
<line x1="858" y1="71.7" x2="858" y2="125.2" stroke="#eeaaaa" stroke-width="0.8"/>
<line x1="865.8" y1="71.7" x2="865.8" y2="125.2" stroke="#eeaaaa" stroke-width="0.8"/>
<line x1="893.5" y1="71.7" x2="893.5" y2="125.2" stroke="#eeaaaa" stroke-width="0.8"/>
<line x1="914.9" y1="71.7" x2="914.9" y2="125.2" stroke="#eeaaaa" stroke-width="0.8"/>
<line x1="918.1" y1="71.7" x2="918.1" y2="125.2" stroke="#eeaaaa" stroke-width="0.8"/>
<line x1="950.9" y1="71.7" x2="950.9" y2="125.2" stroke="#eeaaaa" stroke-width="0.8"/>
<line x1="953.4" y1="71.7" x2="953.4" y2="125.2" stroke="#eeaaaa" stroke-width="0.8"/>
<line x1="955.9" y1="71.7" x2="955.9" y2="125.2" stroke="#eeaaaa" stroke-width="0.8"/>
<line x1="971.7" y1="71.7" x2="971.7" y2="125.2" stroke="#eeaaaa" stroke-width="0.8"/>
<line x1="974.8" y1="71.7" x2="974.8" y2="125.2" stroke="#eeaaaa" stroke-width="0.8"/>
<line x1="978.6" y1="71.7" x2="978.6" y2="125.2" stroke="#eeaaaa" stroke-width="0.8"/>
<line x1="996.9" y1="71.7" x2="996.9" y2="125.2" stroke="#eeaaaa" stroke-width="0.8"/>
<line x1="1000.7" y1="71.7" x2="1000.7" y2="125.2" stroke="#eeaaaa" stroke-width="0.8"/>
<line x1="1013.9" y1="71.7" x2="1013.9" y2="125.2" stroke="#eeaaaa" stroke-width="0.8"/>
<line x1="1025.9" y1="71.7" x2="1025.9" y2="125.2" stroke="#eeaaaa" stroke-width="0.8"/>
<line x1="1035.9" y1="71.7" x2="1035.9" y2="125.2" stroke="#eeaaaa" stroke-width="0.8"/>
<line x1="1042.9" y1="71.7" x2="1042.9" y2="125.2" stroke="#eeaaaa" stroke-width="0.8"/>
<line x1="1049.8" y1="71.7" x2="1049.8" y2="125.2" stroke="#eeaaaa" stroke-width="0.8"/>
<line x1="1058.6" y1="71.7" x2="1058.6" y2="125.2" stroke="#eeaaaa" stroke-width="0.8"/>
<line x1="1062.4" y1="71.7" x2="1062.4" y2="125.2" stroke="#eeaaaa" stroke-width="0.8"/>
<line x1="1066.2" y1="71.7" x2="1066.2" y2="125.2" stroke="#eeaaaa" stroke-width="0.8"/>
<line x1="1087.6" y1="71.7" x2="1087.6" y2="125.2" stroke="#eeaaaa" stroke-width="0.8"/>
<line x1="1094" y1="71.7" x2="1094" y2="125.2" stroke="#eeaaaa" stroke-width="0.8"/>
<line x1="1102" y1="71.7" x2="1102" y2="125.2" stroke="#eeaaaa" stroke-width="0.8"/>
<line x1="1107.2" y1="71.7" x2="1107.2" y2="125.2" stroke="#eeaaaa" stroke-width="0.8"/>
<line x1="1111" y1="71.7" x2="1111" y2="125.2" stroke="#eeaaaa" stroke-width="0.8"/>
<line x1="1114.1" y1="71.7" x2="1114.1" y2="125.2" stroke="#eeaaaa" stroke-width="0.8"/>
<line x1="758.4" y1="71.7" x2="758.4" y2="125.2" stroke="#bebebe" stroke-width="0.8"/>
<line x1="761.8" y1="71.7" x2="761.8" y2="125.2" stroke="#bebebe" stroke-width="0.8"/>
<line x1="764.9" y1="71.7" x2="764.9" y2="125.2" stroke="#bebebe" stroke-width="0.8"/>
<line x1="767.5" y1="71.7" x2="767.5" y2="125.2" stroke="#bebebe" stroke-width="0.8"/>
<line x1="776.9" y1="71.7" x2="776.9" y2="125.2" stroke="#bebebe" stroke-width="0.8"/>
<line x1="780.1" y1="71.7" x2="780.1" y2="125.2" stroke="#bebebe" stroke-width="0.8"/>
<line x1="783.2" y1="71.7" x2="783.2" y2="125.2" stroke="#bebebe" stroke-width="0.8"/>
<line x1="817.3" y1="71.7" x2="817.3" y2="125.2" stroke="#bebebe" stroke-width="0.8"/>
<line x1="821.1" y1="71.7" x2="821.1" y2="125.2" stroke="#bebebe" stroke-width="0.8"/>
<line x1="824.8" y1="71.7" x2="824.8" y2="125.2" stroke="#bebebe" stroke-width="0.8"/>
<line x1="835.6" y1="71.7" x2="835.6" y2="125.2" stroke="#bebebe" stroke-width="0.8"/>
<line x1="843.1" y1="71.7" x2="843.1" y2="125.2" stroke="#bebebe" stroke-width="0.8"/>
<line x1="846.9" y1="71.7" x2="846.9" y2="125.2" stroke="#bebebe" stroke-width="0.8"/>
<line x1="869.5" y1="71.7" x2="869.5" y2="125.2" stroke="#bebebe" stroke-width="0.8"/>
<line x1="872.7" y1="71.7" x2="872.7" y2="125.2" stroke="#bebebe" stroke-width="0.8"/>
<line x1="876.5" y1="71.7" x2="876.5" y2="125.2" stroke="#bebebe" stroke-width="0.8"/>
<line x1="879.6" y1="71.7" x2="879.6" y2="125.2" stroke="#bebebe" stroke-width="0.8"/>
<line x1="891" y1="71.7" x2="891" y2="125.2" stroke="#bebebe" stroke-width="0.8"/>
<line x1="897.9" y1="71.7" x2="897.9" y2="125.2" stroke="#bebebe" stroke-width="0.8"/>
<line x1="901.7" y1="71.7" x2="901.7" y2="125.2" stroke="#bebebe" stroke-width="0.8"/>
<line x1="905.5" y1="71.7" x2="905.5" y2="125.2" stroke="#bebebe" stroke-width="0.8"/>
<line x1="921.2" y1="71.7" x2="921.2" y2="125.2" stroke="#bebebe" stroke-width="0.8"/>
<line x1="925" y1="71.7" x2="925" y2="125.2" stroke="#bebebe" stroke-width="0.8"/>
<line x1="928.2" y1="71.7" x2="928.2" y2="125.2" stroke="#bebebe" stroke-width="0.8"/>
<line x1="944.6" y1="71.7" x2="944.6" y2="125.2" stroke="#bebebe" stroke-width="0.8"/>
<line x1="947.7" y1="71.7" x2="947.7" y2="125.2" stroke="#bebebe" stroke-width="0.8"/>
<line x1="981.8" y1="71.7" x2="981.8" y2="125.2" stroke="#bebebe" stroke-width="0.8"/>
<line x1="990" y1="71.7" x2="990" y2="125.2" stroke="#bebebe" stroke-width="0.8"/>
<line x1="993.1" y1="71.7" x2="993.1" y2="125.2" stroke="#bebebe" stroke-width="0.8"/>
<line x1="1017.7" y1="71.7" x2="1017.7" y2="125.2" stroke="#bebebe" stroke-width="0.8"/>
<line x1="1020.8" y1="71.7" x2="1020.8" y2="125.2" stroke="#bebebe" stroke-width="0.8"/>
<line x1="1031.5" y1="71.7" x2="1031.5" y2="125.2" stroke="#bebebe" stroke-width="0.8"/>
<line x1="1039.7" y1="71.7" x2="1039.7" y2="125.2" stroke="#bebebe" stroke-width="0.8"/>
<line x1="1046.7" y1="71.7" x2="1046.7" y2="125.2" stroke="#bebebe" stroke-width="0.8"/>
<line x1="1070" y1="71.7" x2="1070" y2="125.2" stroke="#bebebe" stroke-width="0.8"/>
<line x1="1073.8" y1="71.7" x2="1073.8" y2="125.2" stroke="#bebebe" stroke-width="0.8"/>
<line x1="1080.7" y1="71.7" x2="1080.7" y2="125.2" stroke="#bebebe" stroke-width="0.8"/>
<line x1="1083.9" y1="71.7" x2="1083.9" y2="125.2" stroke="#bebebe" stroke-width="0.8"/>
<line x1="1090.8" y1="71.7" x2="1090.8" y2="125.2" stroke="#bebebe" stroke-width="0.8"/>
<line x1="1097.1" y1="71.7" x2="1097.1" y2="125.2" stroke="#bebebe" stroke-width="0.8"/>
<line x1="1100.3" y1="71.7" x2="1100.3" y2="125.2" stroke="#bebebe" stroke-width="0.8"/>
<line x1="1104" y1="71.7" x2="1104" y2="125.2" stroke="#bebebe" stroke-width="0.8"/>
<line x1="773.1" y1="71.7" x2="773.1" y2="125.2" stroke="#999999" stroke-width="0.8"/>
<line x1="831.8" y1="71.7" x2="831.8" y2="125.2" stroke="#999999" stroke-width="0.8"/>
<line x1="986.2" y1="71.7" x2="986.2" y2="125.2" stroke="#999999" stroke-width="0.8"/>
<line x1="1077.6" y1="71.7" x2="1077.6" y2="125.2" stroke="#999999" stroke-width="0.8"/>
<line x1="711.3" y1="71.7" x2="1250.7" y2="71.7" stroke="#9a9a9a" stroke-width="1.3"/>
<line x1="1250.7" y1="71.7" x2="1250.7" y2="125.2" stroke="#8a8a8a" stroke-width="0.9"/>
<line x1="711.3" y1="71.7" x2="711.3" y2="125.2" stroke="#a0a0a0" stroke-width="1.1"/>
<line x1="711.3" y1="70.1" x2="711.3" y2="73.3" stroke="#888" stroke-width="0.8"/>
<line x1="756.25" y1="70.7" x2="756.25" y2="72.7" stroke="#aaa" stroke-width="0.7"/>
<line x1="801.2" y1="70.1" x2="801.2" y2="73.3" stroke="#888" stroke-width="0.8"/>
<line x1="846.15" y1="70.7" x2="846.15" y2="72.7" stroke="#aaa" stroke-width="0.7"/>
<line x1="891.1" y1="70.1" x2="891.1" y2="73.3" stroke="#888" stroke-width="0.8"/>
<line x1="936.05" y1="70.7" x2="936.05" y2="72.7" stroke="#aaa" stroke-width="0.7"/>
<line x1="981" y1="70.1" x2="981" y2="73.3" stroke="#888" stroke-width="0.8"/>
<line x1="1025.95" y1="70.7" x2="1025.95" y2="72.7" stroke="#aaa" stroke-width="0.7"/>
<line x1="1070.9" y1="70.1" x2="1070.9" y2="73.3" stroke="#888" stroke-width="0.8"/>
<line x1="1115.85" y1="70.7" x2="1115.85" y2="72.7" stroke="#aaa" stroke-width="0.7"/>
<line x1="1160.8" y1="70.1" x2="1160.8" y2="73.3" stroke="#888" stroke-width="0.8"/>
<line x1="1205.75" y1="70.7" x2="1205.75" y2="72.7" stroke="#aaa" stroke-width="0.7"/>
<line x1="1250.7" y1="70.1" x2="1250.7" y2="73.3" stroke="#888" stroke-width="0.8"/>
<text x="711.3" y="69.8" font-size="7" fill="#333" text-anchor="middle" font-weight="normal" font-family='"Liberation Sans", sans-serif' letter-spacing="0.3">50</text>
<text x="801.2" y="69.8" font-size="7" fill="#333" text-anchor="middle" font-weight="normal" font-family='"Liberation Sans", sans-serif' letter-spacing="0.3">150</text>
<text x="891.1" y="69.8" font-size="7" fill="#333" text-anchor="middle" font-weight="normal" font-family='"Liberation Sans", sans-serif' letter-spacing="0.3">250</text>
<text x="981" y="69.8" font-size="7" fill="#333" text-anchor="middle" font-weight="normal" font-family='"Liberation Sans", sans-serif' letter-spacing="0.3">350</text>
<text x="1070.9" y="69.8" font-size="7" fill="#333" text-anchor="middle" font-weight="normal" font-family='"Liberation Sans", sans-serif' letter-spacing="0.3">450</text>
<text x="1160.8" y="69.8" font-size="7" fill="#333" text-anchor="middle" font-weight="normal" font-family='"Liberation Sans", sans-serif' letter-spacing="0.3">550</text>
<text x="1250.7" y="69.8" font-size="7" fill="#333" text-anchor="middle" font-weight="normal" font-family='"Liberation Sans", sans-serif' letter-spacing="0.3">650</text>
<text x="707.8" y="73.6" font-size="7.4" fill="#333" text-anchor="end" font-weight="normal" font-family='"Liberation Sans", sans-serif' letter-spacing="0.2">9600</text>
<line x1="708.8" y1="71.4" x2="713.3" y2="71.4" stroke="#999" stroke-width="0.8"/>
<text x="707.8" y="87.5" font-size="7.4" fill="#333" text-anchor="end" font-weight="normal" font-family='"Liberation Sans", sans-serif' letter-spacing="0.2">7200</text>
<line x1="708.8" y1="85.3" x2="713.3" y2="85.3" stroke="#999" stroke-width="0.8"/>
<text x="707.8" y="100.5" font-size="7.4" fill="#333" text-anchor="end" font-weight="normal" font-family='"Liberation Sans", sans-serif' letter-spacing="0.2">4800</text>
<line x1="708.8" y1="98.3" x2="713.3" y2="98.3" stroke="#999" stroke-width="0.8"/>
<text x="707.8" y="114.2" font-size="7.4" fill="#333" text-anchor="end" font-weight="normal" font-family='"Liberation Sans", sans-serif' letter-spacing="0.2">2400</text>
<line x1="708.8" y1="112" x2="713.3" y2="112" stroke="#999" stroke-width="0.8"/>
<text x="707.8" y="127.5" font-size="7.4" fill="#333" text-anchor="end" font-weight="normal" font-family='"Liberation Sans", sans-serif' letter-spacing="0.2">0</text>
<line x1="708.8" y1="125.3" x2="713.3" y2="125.3" stroke="#999" stroke-width="0.8"/>
<line x1="709.3" y1="78.35" x2="713.3" y2="78.35" stroke="#aaa" stroke-width="0.7"/>
<line x1="709.3" y1="91.8" x2="713.3" y2="91.8" stroke="#aaa" stroke-width="0.7"/>
<line x1="709.3" y1="105.15" x2="713.3" y2="105.15" stroke="#aaa" stroke-width="0.7"/>
<line x1="709.3" y1="118.65" x2="713.3" y2="118.65" stroke="#aaa" stroke-width="0.7"/>
<line x1="711.3" y1="125.2" x2="1250.7" y2="125.2" stroke="#50508a" stroke-width="1.1"/>
<polygon points="771.1,125.2 771.7,122.2 772.05,104.5 772.8,103.2 773.55,104.5 773.9,122.2 774.5,125.2" fill="#2b3a9c"/>
<polygon points="829.8,125.2 830.4,122.2 830.75,89 831.5,87.7 832.25,89 832.6,122.2 833.2,125.2" fill="#2b3a9c"/>
<polygon points="882.1,125.2 882.7,122.2 883.05,86 883.8,84.7 884.55,86 884.9,122.2 885.5,125.2" fill="#2b3a9c"/>
<polygon points="935.3,125.2 935.9,122.2 936.25,86.9 937,85.6 937.75,86.9 938.1,122.2 938.7,125.2" fill="#2b3a9c"/>
<polygon points="984.3,125.2 985.1,122.2 985.45,72.7 986.2,71.4 986.95,72.7 987.3,122.2 988.1,125.2" fill="#2b3a9c"/>
<polygon points="1026.5,125.2 1027.3,122.2 1027.65,84.3 1028.4,83 1029.15,84.3 1029.5,122.2 1030.3,125.2" fill="#2b3a9c"/>
<polygon points="1075.3,125.2 1076.1,122.2 1076.45,91.3 1077.2,90 1077.95,91.3 1078.3,122.2 1079.1,125.2" fill="#2b3a9c"/>
<polygon points="1086.8,125.2 1087.6,122.2 1087.95,92.8 1088.7,91.5 1089.45,92.8 1089.8,122.2 1090.6,125.2" fill="#2b3a9c"/>
<polygon points="768,125.2 770,123.7 772,125.2" fill="#2b3a9c"/>
<polygon points="826.5,125.2 828.5,122.2 830.5,125.2" fill="#2b3a9c"/>
<polygon points="878,125.2 880,123.2 882,125.2" fill="#2b3a9c"/>
<polygon points="932,125.2 934,122.2 936,125.2" fill="#2b3a9c"/>
<polygon points="938,125.2 940,123.7 942,125.2" fill="#2b3a9c"/>
<polygon points="980,125.2 982,122.7 984,125.2" fill="#2b3a9c"/>
<polygon points="1022.5,125.2 1024.5,123.2 1026.5,125.2" fill="#2b3a9c"/>
<polygon points="1072,125.2 1074,123.2 1076,125.2" fill="#2b3a9c"/>
<polygon points="1083.5,125.2 1085.5,123.2 1087.5,125.2" fill="#2b3a9c"/>
<polygon points="927,125.2 929,124.4 931,125.2" fill="#2b3a9c"/>
<line x1="772.8" y1="125.2" x2="772.8" y2="128.1" stroke="#7676bc" stroke-width="0.9"/>
<line x1="831.5" y1="125.2" x2="831.5" y2="128.1" stroke="#7676bc" stroke-width="0.9"/>
<line x1="883.8" y1="125.2" x2="883.8" y2="128.1" stroke="#7676bc" stroke-width="0.9"/>
<line x1="937" y1="125.2" x2="937" y2="128.1" stroke="#7676bc" stroke-width="0.9"/>
<line x1="986.2" y1="125.2" x2="986.2" y2="128.1" stroke="#7676bc" stroke-width="0.9"/>
<line x1="1028.4" y1="125.2" x2="1028.4" y2="128.1" stroke="#7676bc" stroke-width="0.9"/>
<line x1="1077.2" y1="125.2" x2="1077.2" y2="128.1" stroke="#7676bc" stroke-width="0.9"/>
<line x1="1088.7" y1="125.2" x2="1088.7" y2="142.6" stroke="#7676bc" stroke-width="0.9"/>
<rect x="764.2" y="128.6" width="18.2" height="11.1" fill="#fff" stroke="#7676bc" stroke-width="1"/>
<text x="773.3" y="138.1" font-size="8.7" fill="#1a1a1a" text-anchor="middle" font-weight="bold" font-family='"Liberation Sans", sans-serif' textLength="13.8" lengthAdjust="spacingAndGlyphs" stroke="none">13</text>
<rect x="822.8" y="128.6" width="18.6" height="11.1" fill="#fff" stroke="#7676bc" stroke-width="1"/>
<text x="832.1" y="138.1" font-size="8.7" fill="#1a1a1a" text-anchor="middle" font-weight="bold" font-family='"Liberation Sans", sans-serif' textLength="14.2" lengthAdjust="spacingAndGlyphs" stroke="none">18</text>
<rect x="875.7" y="128.6" width="17.6" height="11.1" fill="#fff" stroke="#7676bc" stroke-width="1"/>
<text x="884.5" y="138.1" font-size="8.7" fill="#1a1a1a" text-anchor="middle" font-weight="bold" font-family='"Liberation Sans", sans-serif' textLength="13.2" lengthAdjust="spacingAndGlyphs" stroke="none">14</text>
<rect x="928.9" y="128.6" width="17.4" height="11.1" fill="#fff" stroke="#7676bc" stroke-width="1"/>
<text x="937.6" y="138.1" font-size="8.7" fill="#1a1a1a" text-anchor="middle" font-weight="bold" font-family='"Liberation Sans", sans-serif' textLength="13" lengthAdjust="spacingAndGlyphs" stroke="none">13</text>
<rect x="977.9" y="128.6" width="17.6" height="11.1" fill="#fff" stroke="#7676bc" stroke-width="1"/>
<text x="986.7" y="138.1" font-size="8.7" fill="#1a1a1a" text-anchor="middle" font-weight="bold" font-family='"Liberation Sans", sans-serif' textLength="13.2" lengthAdjust="spacingAndGlyphs" stroke="none">13</text>
<rect x="1019.7" y="128.6" width="18.5" height="11.1" fill="#fff" stroke="#7676bc" stroke-width="1"/>
<text x="1028.95" y="138.1" font-size="8.7" fill="#1a1a1a" text-anchor="middle" font-weight="bold" font-family='"Liberation Sans", sans-serif' textLength="14.1" lengthAdjust="spacingAndGlyphs" stroke="none">12</text>
<rect x="1068.6" y="128.6" width="18.8" height="11.1" fill="#fff" stroke="#7676bc" stroke-width="1"/>
<text x="1078" y="138.1" font-size="8.7" fill="#1a1a1a" text-anchor="middle" font-weight="bold" font-family='"Liberation Sans", sans-serif' textLength="14.4" lengthAdjust="spacingAndGlyphs" stroke="none">35</text>
<rect x="1079.7" y="143.1" width="18.8" height="10.4" fill="#fff" stroke="#7676bc" stroke-width="1"/>
<text x="1089.1" y="151.9" font-size="8.7" fill="#1a1a1a" text-anchor="middle" font-weight="bold" font-family='"Liberation Sans", sans-serif' textLength="14.4" lengthAdjust="spacingAndGlyphs" stroke="none">38</text>
<rect x="662.8" y="181.2" width="597" height="116.1" fill="#fff" stroke="#8c8c8c" stroke-width="1"/>
<line x1="662.8" y1="181.5" x2="1259.8" y2="181.5" stroke="#555" stroke-width="1"/>
<line x1="1259.8" y1="181.2" x2="1259.8" y2="187.9" stroke="#333" stroke-width="1.3"/>
<line x1="747.9" y1="182.2" x2="747.9" y2="186.9" stroke="#c8c8c8" stroke-width="0.7"/>
<line x1="838.9" y1="182.2" x2="838.9" y2="186.9" stroke="#c8c8c8" stroke-width="0.7"/>
<line x1="922.6" y1="182.2" x2="922.6" y2="186.9" stroke="#c8c8c8" stroke-width="0.7"/>
<line x1="979.5" y1="182.2" x2="979.5" y2="186.9" stroke="#c8c8c8" stroke-width="0.7"/>
<line x1="1035.5" y1="182.2" x2="1035.5" y2="186.9" stroke="#c8c8c8" stroke-width="0.7"/>
<line x1="1087.1" y1="182.2" x2="1087.1" y2="186.9" stroke="#c8c8c8" stroke-width="0.7"/>
<line x1="1148" y1="182.2" x2="1148" y2="186.9" stroke="#c8c8c8" stroke-width="0.7"/>
<line x1="1201.5" y1="182.2" x2="1201.5" y2="186.9" stroke="#c8c8c8" stroke-width="0.7"/>
<line x1="662.8" y1="187.9" x2="1259.8" y2="187.9" stroke="#333" stroke-width="1.8"/>
<text x="665" y="186.7" font-size="6.6" fill="#222" text-anchor="start" font-weight="normal" font-family='"Liberation Sans", sans-serif' letter-spacing="0.9">D02_C12.fsa</text>
<text x="750.1" y="186.7" font-size="6.6" fill="#222" text-anchor="start" font-weight="bold" font-family='"Liberation Sans", sans-serif' letter-spacing="0.6">D02</text>
<text x="841.1" y="186.7" font-size="6.6" fill="#222" text-anchor="start" font-weight="bold" font-family='"Liberation Sans", sans-serif' letter-spacing="0.6">MR29Y_v1.1</text>
<rect x="1003.8" y="182.2" width="8.1" height="4.7" fill="#3aa53a"/>
<rect x="1057.4" y="182.2" width="8" height="4.7" fill="#3aa53a"/>
<rect x="1113.4" y="182.2" width="8" height="4.7" fill="#3aa53a"/>
<rect x="1170.6" y="182.2" width="8.5" height="4.7" fill="#3aa53a"/>
<rect x="1227.1" y="182.2" width="8" height="4.7" fill="#3aa53a"/>
<rect x="734.2" y="191.6" width="38.5" height="6.7" fill="#fff" stroke="#3f9c3f" stroke-width="1.1"/>
<rect x="776.1" y="191.6" width="48.1" height="6.7" fill="#fff" stroke="#3f9c3f" stroke-width="1.1"/>
<rect x="833.3" y="191.6" width="47.7" height="6.7" fill="#fff" stroke="#3f9c3f" stroke-width="1.1"/>
<rect x="884.8" y="191.6" width="52.7" height="6.7" fill="#fff" stroke="#3f9c3f" stroke-width="1.1"/>
<rect x="942.7" y="191.6" width="56.4" height="6.7" fill="#fff" stroke="#3f9c3f" stroke-width="1.1"/>
<rect x="1006.8" y="191.6" width="45" height="6.7" fill="#fff" stroke="#3f9c3f" stroke-width="1.1"/>
<rect x="1054.5" y="191.6" width="63.3" height="6.7" fill="#fff" stroke="#3f9c3f" stroke-width="1.1"/>
<text x="753.62" y="197.2" font-size="7" fill="#333" text-anchor="middle" font-weight="normal" font-family='"Liberation Sans", sans-serif' letter-spacing="0.35">DYS460</text>
<text x="800.33" y="197.2" font-size="7" fill="#333" text-anchor="middle" font-weight="normal" font-family='"Liberation Sans", sans-serif' letter-spacing="0.35">DYS458</text>
<text x="857.32" y="197.2" font-size="7" fill="#333" text-anchor="middle" font-weight="normal" font-family='"Liberation Sans", sans-serif' letter-spacing="0.35">DYS481</text>
<text x="911.32" y="197.2" font-size="7" fill="#333" text-anchor="middle" font-weight="normal" font-family='"Liberation Sans", sans-serif' letter-spacing="0.35">DYS635</text>
<text x="971.08" y="197.2" font-size="7" fill="#333" text-anchor="middle" font-weight="normal" font-family='"Liberation Sans", sans-serif' letter-spacing="0.35">DYS448</text>
<text x="1029.47" y="197.2" font-size="7" fill="#333" text-anchor="middle" font-weight="normal" font-family='"Liberation Sans", sans-serif' letter-spacing="0.35">DYS533</text>
<text x="1086.33" y="197.2" font-size="7" fill="#333" text-anchor="middle" font-weight="normal" font-family='"Liberation Sans", sans-serif' letter-spacing="0.35">DYS627</text>
<rect x="787" y="209.3" width="6.3" height="53.7" fill="#f4d2d2"/>
<line x1="787" y1="209.3" x2="787" y2="263" stroke="#eaa0a0" stroke-width="0.6"/>
<line x1="790.15" y1="209.3" x2="790.15" y2="263" stroke="#eaa0a0" stroke-width="0.6"/>
<line x1="793.3" y1="209.3" x2="793.3" y2="263" stroke="#eaa0a0" stroke-width="0.6"/>
<rect x="802.1" y="209.3" width="2.6" height="53.7" fill="#f4d2d2"/>
<rect x="815.4" y="209.3" width="2.5" height="53.7" fill="#f4d2d2"/>
<rect x="862.6" y="209.3" width="3.2" height="53.7" fill="#f4d2d2"/>
<rect x="900.4" y="209.3" width="4.5" height="53.7" fill="#f4d2d2"/>
<line x1="900.4" y1="209.3" x2="900.4" y2="263" stroke="#eaa0a0" stroke-width="0.6"/>
<line x1="904.9" y1="209.3" x2="904.9" y2="263" stroke="#eaa0a0" stroke-width="0.6"/>
<rect x="964.8" y="209.3" width="4.4" height="53.7" fill="#f4d2d2"/>
<line x1="964.8" y1="209.3" x2="964.8" y2="263" stroke="#eaa0a0" stroke-width="0.6"/>
<line x1="969.2" y1="209.3" x2="969.2" y2="263" stroke="#eaa0a0" stroke-width="0.6"/>
<rect x="971" y="209.3" width="7" height="53.7" fill="#f4d2d2"/>
<line x1="971" y1="209.3" x2="971" y2="263" stroke="#eaa0a0" stroke-width="0.6"/>
<line x1="974.5" y1="209.3" x2="974.5" y2="263" stroke="#eaa0a0" stroke-width="0.6"/>
<line x1="978" y1="209.3" x2="978" y2="263" stroke="#eaa0a0" stroke-width="0.6"/>
<rect x="1079.5" y="209.3" width="9.5" height="53.7" fill="#f0f0f0"/>
<line x1="1079.5" y1="209.3" x2="1079.5" y2="263" stroke="#b8b8b8" stroke-width="0.6"/>
<line x1="1082.67" y1="209.3" x2="1082.67" y2="263" stroke="#b8b8b8" stroke-width="0.6"/>
<line x1="1085.83" y1="209.3" x2="1085.83" y2="263" stroke="#b8b8b8" stroke-width="0.6"/>
<line x1="1089" y1="209.3" x2="1089" y2="263" stroke="#b8b8b8" stroke-width="0.6"/>
<rect x="787" y="209.3" width="31" height="53.7" fill="#f8e4e4"/>
<line x1="739.7" y1="209.3" x2="739.7" y2="263" stroke="#eeaaaa" stroke-width="0.8"/>
<line x1="743.5" y1="209.3" x2="743.5" y2="263" stroke="#eeaaaa" stroke-width="0.8"/>
<line x1="780.7" y1="209.3" x2="780.7" y2="263" stroke="#eeaaaa" stroke-width="0.8"/>
<line x1="784.5" y1="209.3" x2="784.5" y2="263" stroke="#eeaaaa" stroke-width="0.8"/>
<line x1="835.6" y1="209.3" x2="835.6" y2="263" stroke="#eeaaaa" stroke-width="0.8"/>
<line x1="838.7" y1="209.3" x2="838.7" y2="263" stroke="#eeaaaa" stroke-width="0.8"/>
<line x1="846.3" y1="209.3" x2="846.3" y2="263" stroke="#eeaaaa" stroke-width="0.8"/>
<line x1="850.1" y1="209.3" x2="850.1" y2="263" stroke="#eeaaaa" stroke-width="0.8"/>
<line x1="855" y1="209.3" x2="855" y2="263" stroke="#eeaaaa" stroke-width="0.8"/>
<line x1="857.6" y1="209.3" x2="857.6" y2="263" stroke="#eeaaaa" stroke-width="0.8"/>
<line x1="868.3" y1="209.3" x2="868.3" y2="263" stroke="#eeaaaa" stroke-width="0.8"/>
<line x1="872.7" y1="209.3" x2="872.7" y2="263" stroke="#eeaaaa" stroke-width="0.8"/>
<line x1="875.9" y1="209.3" x2="875.9" y2="263" stroke="#eeaaaa" stroke-width="0.8"/>
<line x1="885.9" y1="209.3" x2="885.9" y2="263" stroke="#eeaaaa" stroke-width="0.8"/>
<line x1="896" y1="209.3" x2="896" y2="263" stroke="#eeaaaa" stroke-width="0.8"/>
<line x1="911.8" y1="209.3" x2="911.8" y2="263" stroke="#eeaaaa" stroke-width="0.8"/>
<line x1="929.4" y1="209.3" x2="929.4" y2="263" stroke="#eeaaaa" stroke-width="0.8"/>
<line x1="947.1" y1="209.3" x2="947.1" y2="263" stroke="#eeaaaa" stroke-width="0.8"/>
<line x1="948.4" y1="209.3" x2="948.4" y2="263" stroke="#eeaaaa" stroke-width="0.8"/>
<line x1="952.8" y1="209.3" x2="952.8" y2="263" stroke="#eeaaaa" stroke-width="0.8"/>
<line x1="954" y1="209.3" x2="954" y2="263" stroke="#eeaaaa" stroke-width="0.8"/>
<line x1="961.6" y1="209.3" x2="961.6" y2="263" stroke="#eeaaaa" stroke-width="0.8"/>
<line x1="982.4" y1="209.3" x2="982.4" y2="263" stroke="#eeaaaa" stroke-width="0.8"/>
<line x1="1009.5" y1="209.3" x2="1009.5" y2="263" stroke="#eeaaaa" stroke-width="0.8"/>
<line x1="1034.3" y1="209.3" x2="1034.3" y2="263" stroke="#eeaaaa" stroke-width="0.8"/>
<line x1="1038.6" y1="209.3" x2="1038.6" y2="263" stroke="#eeaaaa" stroke-width="0.8"/>
<line x1="1055.5" y1="209.3" x2="1055.5" y2="263" stroke="#eeaaaa" stroke-width="0.8"/>
<line x1="1058.6" y1="209.3" x2="1058.6" y2="263" stroke="#eeaaaa" stroke-width="0.8"/>
<line x1="1062.5" y1="209.3" x2="1062.5" y2="263" stroke="#eeaaaa" stroke-width="0.8"/>
<line x1="1066.7" y1="209.3" x2="1066.7" y2="263" stroke="#eeaaaa" stroke-width="0.8"/>
<line x1="1090.6" y1="209.3" x2="1090.6" y2="263" stroke="#eeaaaa" stroke-width="0.8"/>
<line x1="1110.2" y1="209.3" x2="1110.2" y2="263" stroke="#eeaaaa" stroke-width="0.8"/>
<line x1="1114.5" y1="209.3" x2="1114.5" y2="263" stroke="#eeaaaa" stroke-width="0.8"/>
<line x1="736.2" y1="209.3" x2="736.2" y2="263" stroke="#bebebe" stroke-width="0.8"/>
<line x1="747.3" y1="209.3" x2="747.3" y2="263" stroke="#bebebe" stroke-width="0.8"/>
<line x1="751.1" y1="209.3" x2="751.1" y2="263" stroke="#bebebe" stroke-width="0.8"/>
<line x1="758.6" y1="209.3" x2="758.6" y2="263" stroke="#bebebe" stroke-width="0.8"/>
<line x1="762.4" y1="209.3" x2="762.4" y2="263" stroke="#bebebe" stroke-width="0.8"/>
<line x1="765.6" y1="209.3" x2="765.6" y2="263" stroke="#bebebe" stroke-width="0.8"/>
<line x1="796.5" y1="209.3" x2="796.5" y2="263" stroke="#bebebe" stroke-width="0.8"/>
<line x1="807.2" y1="209.3" x2="807.2" y2="263" stroke="#bebebe" stroke-width="0.8"/>
<line x1="811" y1="209.3" x2="811" y2="263" stroke="#bebebe" stroke-width="0.8"/>
<line x1="814.1" y1="209.3" x2="814.1" y2="263" stroke="#bebebe" stroke-width="0.8"/>
<line x1="841.9" y1="209.3" x2="841.9" y2="263" stroke="#bebebe" stroke-width="0.8"/>
<line x1="843.8" y1="209.3" x2="843.8" y2="263" stroke="#bebebe" stroke-width="0.8"/>
<line x1="851.9" y1="209.3" x2="851.9" y2="263" stroke="#bebebe" stroke-width="0.8"/>
<line x1="860.7" y1="209.3" x2="860.7" y2="263" stroke="#bebebe" stroke-width="0.8"/>
<line x1="889.7" y1="209.3" x2="889.7" y2="263" stroke="#bebebe" stroke-width="0.8"/>
<line x1="907.4" y1="209.3" x2="907.4" y2="263" stroke="#bebebe" stroke-width="0.8"/>
<line x1="915" y1="209.3" x2="915" y2="263" stroke="#bebebe" stroke-width="0.8"/>
<line x1="918.7" y1="209.3" x2="918.7" y2="263" stroke="#bebebe" stroke-width="0.8"/>
<line x1="922.5" y1="209.3" x2="922.5" y2="263" stroke="#bebebe" stroke-width="0.8"/>
<line x1="926.3" y1="209.3" x2="926.3" y2="263" stroke="#bebebe" stroke-width="0.8"/>
<line x1="958.4" y1="209.3" x2="958.4" y2="263" stroke="#bebebe" stroke-width="0.8"/>
<line x1="985.6" y1="209.3" x2="985.6" y2="263" stroke="#bebebe" stroke-width="0.8"/>
<line x1="990" y1="209.3" x2="990" y2="263" stroke="#bebebe" stroke-width="0.8"/>
<line x1="995.7" y1="209.3" x2="995.7" y2="263" stroke="#bebebe" stroke-width="0.8"/>
<line x1="1012.7" y1="209.3" x2="1012.7" y2="263" stroke="#bebebe" stroke-width="0.8"/>
<line x1="1015.9" y1="209.3" x2="1015.9" y2="263" stroke="#bebebe" stroke-width="0.8"/>
<line x1="1019" y1="209.3" x2="1019" y2="263" stroke="#bebebe" stroke-width="0.8"/>
<line x1="1022.3" y1="209.3" x2="1022.3" y2="263" stroke="#bebebe" stroke-width="0.8"/>
<line x1="1070" y1="209.3" x2="1070" y2="263" stroke="#bebebe" stroke-width="0.8"/>
<line x1="1073.6" y1="209.3" x2="1073.6" y2="263" stroke="#bebebe" stroke-width="0.8"/>
<line x1="1081" y1="209.3" x2="1081" y2="263" stroke="#bebebe" stroke-width="0.8"/>
<line x1="1083" y1="209.3" x2="1083" y2="263" stroke="#bebebe" stroke-width="0.8"/>
<line x1="1085" y1="209.3" x2="1085" y2="263" stroke="#bebebe" stroke-width="0.8"/>
<line x1="1087" y1="209.3" x2="1087" y2="263" stroke="#bebebe" stroke-width="0.8"/>
<line x1="1101" y1="209.3" x2="1101" y2="263" stroke="#bebebe" stroke-width="0.8"/>
<line x1="1104" y1="209.3" x2="1104" y2="263" stroke="#bebebe" stroke-width="0.8"/>
<line x1="1107" y1="209.3" x2="1107" y2="263" stroke="#bebebe" stroke-width="0.8"/>
<line x1="754.9" y1="209.3" x2="754.9" y2="263" stroke="#999999" stroke-width="0.8"/>
<line x1="799.6" y1="209.3" x2="799.6" y2="263" stroke="#999999" stroke-width="0.8"/>
<line x1="852.6" y1="209.3" x2="852.6" y2="263" stroke="#999999" stroke-width="0.8"/>
<line x1="1027.1" y1="209.3" x2="1027.1" y2="263" stroke="#999999" stroke-width="0.8"/>
<line x1="1096.9" y1="209.3" x2="1096.9" y2="263" stroke="#999999" stroke-width="0.8"/>
<line x1="711.3" y1="209.3" x2="1250.7" y2="209.3" stroke="#9a9a9a" stroke-width="1.3"/>
<line x1="1250.7" y1="209.3" x2="1250.7" y2="263" stroke="#8a8a8a" stroke-width="0.9"/>
<line x1="711.3" y1="209.3" x2="711.3" y2="263" stroke="#a0a0a0" stroke-width="1.1"/>
<line x1="711.3" y1="207.7" x2="711.3" y2="210.9" stroke="#888" stroke-width="0.8"/>
<line x1="756.25" y1="208.3" x2="756.25" y2="210.3" stroke="#aaa" stroke-width="0.7"/>
<line x1="801.2" y1="207.7" x2="801.2" y2="210.9" stroke="#888" stroke-width="0.8"/>
<line x1="846.15" y1="208.3" x2="846.15" y2="210.3" stroke="#aaa" stroke-width="0.7"/>
<line x1="891.1" y1="207.7" x2="891.1" y2="210.9" stroke="#888" stroke-width="0.8"/>
<line x1="936.05" y1="208.3" x2="936.05" y2="210.3" stroke="#aaa" stroke-width="0.7"/>
<line x1="981" y1="207.7" x2="981" y2="210.9" stroke="#888" stroke-width="0.8"/>
<line x1="1025.95" y1="208.3" x2="1025.95" y2="210.3" stroke="#aaa" stroke-width="0.7"/>
<line x1="1070.9" y1="207.7" x2="1070.9" y2="210.9" stroke="#888" stroke-width="0.8"/>
<line x1="1115.85" y1="208.3" x2="1115.85" y2="210.3" stroke="#aaa" stroke-width="0.7"/>
<line x1="1160.8" y1="207.7" x2="1160.8" y2="210.9" stroke="#888" stroke-width="0.8"/>
<line x1="1205.75" y1="208.3" x2="1205.75" y2="210.3" stroke="#aaa" stroke-width="0.7"/>
<line x1="1250.7" y1="207.7" x2="1250.7" y2="210.9" stroke="#888" stroke-width="0.8"/>
<text x="711.3" y="207.4" font-size="7" fill="#333" text-anchor="middle" font-weight="normal" font-family='"Liberation Sans", sans-serif' letter-spacing="0.3">50</text>
<text x="801.2" y="207.4" font-size="7" fill="#333" text-anchor="middle" font-weight="normal" font-family='"Liberation Sans", sans-serif' letter-spacing="0.3">150</text>
<text x="891.1" y="207.4" font-size="7" fill="#333" text-anchor="middle" font-weight="normal" font-family='"Liberation Sans", sans-serif' letter-spacing="0.3">250</text>
<text x="981" y="207.4" font-size="7" fill="#333" text-anchor="middle" font-weight="normal" font-family='"Liberation Sans", sans-serif' letter-spacing="0.3">350</text>
<text x="1070.9" y="207.4" font-size="7" fill="#333" text-anchor="middle" font-weight="normal" font-family='"Liberation Sans", sans-serif' letter-spacing="0.3">450</text>
<text x="1160.8" y="207.4" font-size="7" fill="#333" text-anchor="middle" font-weight="normal" font-family='"Liberation Sans", sans-serif' letter-spacing="0.3">550</text>
<text x="1250.7" y="207.4" font-size="7" fill="#333" text-anchor="middle" font-weight="normal" font-family='"Liberation Sans", sans-serif' letter-spacing="0.3">650</text>
<text x="707.8" y="224.2" font-size="7.4" fill="#333" text-anchor="end" font-weight="normal" font-family='"Liberation Sans", sans-serif' letter-spacing="0.2">6300</text>
<line x1="708.8" y1="222" x2="713.3" y2="222" stroke="#999" stroke-width="0.8"/>
<text x="707.8" y="237.7" font-size="7.4" fill="#333" text-anchor="end" font-weight="normal" font-family='"Liberation Sans", sans-serif' letter-spacing="0.2">4200</text>
<line x1="708.8" y1="235.5" x2="713.3" y2="235.5" stroke="#999" stroke-width="0.8"/>
<text x="707.8" y="251.4" font-size="7.4" fill="#333" text-anchor="end" font-weight="normal" font-family='"Liberation Sans", sans-serif' letter-spacing="0.2">2100</text>
<line x1="708.8" y1="249.2" x2="713.3" y2="249.2" stroke="#999" stroke-width="0.8"/>
<text x="707.8" y="265.2" font-size="7.4" fill="#333" text-anchor="end" font-weight="normal" font-family='"Liberation Sans", sans-serif' letter-spacing="0.2">0</text>
<line x1="708.8" y1="263" x2="713.3" y2="263" stroke="#999" stroke-width="0.8"/>
<line x1="709.3" y1="228.75" x2="713.3" y2="228.75" stroke="#aaa" stroke-width="0.7"/>
<line x1="709.3" y1="242.35" x2="713.3" y2="242.35" stroke="#aaa" stroke-width="0.7"/>
<line x1="709.3" y1="256.1" x2="713.3" y2="256.1" stroke="#aaa" stroke-width="0.7"/>
<line x1="709.8" y1="215.25" x2="711.3" y2="215.25" stroke="#aaa" stroke-width="0.7"/>
<line x1="711.3" y1="263" x2="1250.7" y2="263" stroke="#3a6e3a" stroke-width="1.1"/>
<polygon points="752.9,263 753.5,260 753.85,245.8 754.6,244.5 755.35,245.8 755.7,260 756.3,263" fill="#2a962a"/>
<polygon points="796.7,263 797.3,260 797.65,238.8 798.4,237.5 799.15,238.8 799.5,260 800.1,263" fill="#2a962a"/>
<polygon points="850.3,263 850.9,260.75 851.25,256.5 852,255.2 852.75,256.5 853.1,260.75 853.7,263" fill="#2a962a"/>
<polygon points="853,263 853.8,260 854.15,219.5 854.9,218.2 855.65,219.5 856,260 856.8,263" fill="#2a962a"/>
<polygon points="909.6,263 910.4,260 910.75,230.3 911.5,229 912.25,230.3 912.6,260 913.4,263" fill="#2a962a"/>
<polygon points="966.9,263 967.7,260 968.05,233.2 968.8,231.9 969.55,233.2 969.9,260 970.7,263" fill="#2a962a"/>
<polygon points="1025.2,263 1026,260 1026.35,224.3 1027.1,223 1027.85,224.3 1028.2,260 1029,263" fill="#2a962a"/>
<polygon points="1095,263 1095.8,260 1096.15,211 1096.9,209.7 1097.65,211 1098,260 1098.8,263" fill="#2a962a"/>
<polygon points="1091.6,263 1092.2,261.71 1092.55,259.7 1093.3,258.4 1094.05,259.7 1094.4,261.71 1095,263" fill="#2a962a"/>
<polygon points="749,263 751,261.5 753,263" fill="#2a962a"/>
<polygon points="793,263 795,260.5 797,263" fill="#2a962a"/>
<polygon points="804,263 806,261.5 808,263" fill="#2a962a"/>
<polygon points="907,263 909,261.5 911,263" fill="#2a962a"/>
<polygon points="914,263 916,261.5 918,263" fill="#2a962a"/>
<polygon points="963,263 965,261.8 967,263" fill="#2a962a"/>
<polygon points="1013,263 1015,261.8 1017,263" fill="#2a962a"/>
<polygon points="1087,263 1089,261.8 1091,263" fill="#2a962a"/>
<polygon points="729,263 731,262.2 733,263" fill="#2a962a"/>
<line x1="754.6" y1="263" x2="754.6" y2="265.9" stroke="#86bc86" stroke-width="0.9"/>
<line x1="798.4" y1="263" x2="798.4" y2="265.9" stroke="#86bc86" stroke-width="0.9"/>
<line x1="854.9" y1="263" x2="854.9" y2="265.9" stroke="#86bc86" stroke-width="0.9"/>
<line x1="911.5" y1="263" x2="911.5" y2="265.9" stroke="#86bc86" stroke-width="0.9"/>
<line x1="968.8" y1="263" x2="968.8" y2="265.9" stroke="#86bc86" stroke-width="0.9"/>
<line x1="1027.1" y1="263" x2="1027.1" y2="265.9" stroke="#86bc86" stroke-width="0.9"/>
<line x1="1096.9" y1="263" x2="1096.9" y2="265.9" stroke="#86bc86" stroke-width="0.9"/>
<rect x="747.4" y="266.4" width="15.8" height="10.8" fill="#fff" stroke="#86bc86" stroke-width="1"/>
<text x="755.3" y="275.6" font-size="8.7" fill="#1a1a1a" text-anchor="middle" font-weight="bold" font-family='"Liberation Sans", sans-serif' textLength="11.4" lengthAdjust="spacingAndGlyphs" stroke="none">11</text>
<rect x="790" y="266.4" width="17.9" height="10.8" fill="#fff" stroke="#86bc86" stroke-width="1"/>
<text x="798.95" y="275.6" font-size="8.7" fill="#1a1a1a" text-anchor="middle" font-weight="bold" font-family='"Liberation Sans", sans-serif' textLength="13.5" lengthAdjust="spacingAndGlyphs" stroke="none">18</text>
<rect x="845.5" y="266.4" width="19.1" height="10.8" fill="#fff" stroke="#86bc86" stroke-width="1"/>
<text x="855.05" y="275.6" font-size="8.7" fill="#1a1a1a" text-anchor="middle" font-weight="bold" font-family='"Liberation Sans", sans-serif' textLength="14.7" lengthAdjust="spacingAndGlyphs" stroke="none">24</text>
<rect x="902" y="266.4" width="19.8" height="10.8" fill="#fff" stroke="#86bc86" stroke-width="1"/>
<text x="911.9" y="275.6" font-size="8.7" fill="#1a1a1a" text-anchor="middle" font-weight="bold" font-family='"Liberation Sans", sans-serif' textLength="15.4" lengthAdjust="spacingAndGlyphs" stroke="none">23</text>
<rect x="960.2" y="266.4" width="18.8" height="10.8" fill="#fff" stroke="#86bc86" stroke-width="1"/>
<text x="969.6" y="275.6" font-size="8.7" fill="#1a1a1a" text-anchor="middle" font-weight="bold" font-family='"Liberation Sans", sans-serif' textLength="14.4" lengthAdjust="spacingAndGlyphs" stroke="none">19</text>
<rect x="1018.9" y="266.4" width="18.3" height="10.8" fill="#fff" stroke="#86bc86" stroke-width="1"/>
<text x="1028.05" y="275.6" font-size="8.7" fill="#1a1a1a" text-anchor="middle" font-weight="bold" font-family='"Liberation Sans", sans-serif' textLength="13.9" lengthAdjust="spacingAndGlyphs" stroke="none">12</text>
<rect x="1087.8" y="266.4" width="19.2" height="10.8" fill="#fff" stroke="#86bc86" stroke-width="1"/>
<text x="1097.4" y="275.6" font-size="8.7" fill="#1a1a1a" text-anchor="middle" font-weight="bold" font-family='"Liberation Sans", sans-serif' textLength="14.8" lengthAdjust="spacingAndGlyphs" stroke="none">22</text>
<rect x="662.8" y="304.3" width="597" height="116.1" fill="#fff" stroke="#8c8c8c" stroke-width="1"/>
<line x1="662.8" y1="304.6" x2="1259.8" y2="304.6" stroke="#555" stroke-width="1"/>
<line x1="1259.8" y1="304.3" x2="1259.8" y2="311.2" stroke="#333" stroke-width="1.3"/>
<line x1="747.9" y1="305.3" x2="747.9" y2="310.2" stroke="#c8c8c8" stroke-width="0.7"/>
<line x1="838.9" y1="305.3" x2="838.9" y2="310.2" stroke="#c8c8c8" stroke-width="0.7"/>
<line x1="922.6" y1="305.3" x2="922.6" y2="310.2" stroke="#c8c8c8" stroke-width="0.7"/>
<line x1="979.5" y1="305.3" x2="979.5" y2="310.2" stroke="#c8c8c8" stroke-width="0.7"/>
<line x1="1035.5" y1="305.3" x2="1035.5" y2="310.2" stroke="#c8c8c8" stroke-width="0.7"/>
<line x1="1087.1" y1="305.3" x2="1087.1" y2="310.2" stroke="#c8c8c8" stroke-width="0.7"/>
<line x1="1148" y1="305.3" x2="1148" y2="310.2" stroke="#c8c8c8" stroke-width="0.7"/>
<line x1="1201.5" y1="305.3" x2="1201.5" y2="310.2" stroke="#c8c8c8" stroke-width="0.7"/>
<line x1="662.8" y1="311.2" x2="1259.8" y2="311.2" stroke="#333" stroke-width="1.8"/>
<text x="665" y="310" font-size="6.6" fill="#222" text-anchor="start" font-weight="normal" font-family='"Liberation Sans", sans-serif' letter-spacing="0.9">D02_C12.fsa</text>
<text x="750.1" y="310" font-size="6.6" fill="#222" text-anchor="start" font-weight="bold" font-family='"Liberation Sans", sans-serif' letter-spacing="0.6">D02</text>
<text x="841.1" y="310" font-size="6.6" fill="#222" text-anchor="start" font-weight="bold" font-family='"Liberation Sans", sans-serif' letter-spacing="0.6">MR29Y_v1.1</text>
<rect x="1003.8" y="305.3" width="8.1" height="4.9" fill="#3aa53a"/>
<rect x="1057.4" y="305.3" width="8" height="4.9" fill="#3aa53a"/>
<rect x="1113.4" y="305.3" width="8" height="4.9" fill="#3aa53a"/>
<rect x="1170.6" y="305.3" width="8.5" height="4.9" fill="#3aa53a"/>
<rect x="1227.1" y="305.3" width="8" height="4.9" fill="#3aa53a"/>
<rect x="734.7" y="314.9" width="54.1" height="7.1" fill="#fff" stroke="#3f9c3f" stroke-width="1.1"/>
<rect x="791.4" y="314.9" width="38.5" height="7.1" fill="#fff" stroke="#3f9c3f" stroke-width="1.1"/>
<rect x="836.4" y="314.9" width="52.9" height="7.1" fill="#fff" stroke="#3f9c3f" stroke-width="1.1"/>
<rect x="892.6" y="314.9" width="44.4" height="7.1" fill="#fff" stroke="#3f9c3f" stroke-width="1.1"/>
<rect x="942.7" y="314.9" width="47.3" height="7.1" fill="#fff" stroke="#3f9c3f" stroke-width="1.1"/>
<rect x="993.8" y="314.9" width="43.8" height="7.1" fill="#fff" stroke="#3f9c3f" stroke-width="1.1"/>
<rect x="1046.1" y="314.9" width="73.8" height="7.1" fill="#fff" stroke="#3f9c3f" stroke-width="1.1"/>
<text x="761.92" y="320.9" font-size="7" fill="#333" text-anchor="middle" font-weight="normal" font-family='"Liberation Sans", sans-serif' letter-spacing="0.35">DYS456</text>
<text x="810.82" y="320.9" font-size="7" fill="#333" text-anchor="middle" font-weight="normal" font-family='"Liberation Sans", sans-serif' letter-spacing="0.35">DYS389 I</text>
<text x="863.02" y="320.9" font-size="7" fill="#333" text-anchor="middle" font-weight="normal" font-family='"Liberation Sans", sans-serif' letter-spacing="0.35">DYS390</text>
<text x="914.97" y="320.9" font-size="7" fill="#333" text-anchor="middle" font-weight="normal" font-family='"Liberation Sans", sans-serif' letter-spacing="0.35">DYS389 II</text>
<text x="966.52" y="320.9" font-size="7" fill="#333" text-anchor="middle" font-weight="normal" font-family='"Liberation Sans", sans-serif' letter-spacing="0.35">DYS438</text>
<text x="1015.87" y="320.9" font-size="7" fill="#333" text-anchor="middle" font-weight="normal" font-family='"Liberation Sans", sans-serif' letter-spacing="0.35">DYS576</text>
<text x="1083.17" y="320.9" font-size="7" fill="#333" text-anchor="middle" font-weight="normal" font-family='"Liberation Sans", sans-serif' letter-spacing="0.35">DYS449</text>
<rect x="952.8" y="333" width="1.9" height="53.5" fill="#f4d2d2"/>
<line x1="737.8" y1="333" x2="737.8" y2="386.5" stroke="#eeaaaa" stroke-width="0.8"/>
<line x1="741.4" y1="333" x2="741.4" y2="386.5" stroke="#eeaaaa" stroke-width="0.8"/>
<line x1="756.1" y1="333" x2="756.1" y2="386.5" stroke="#eeaaaa" stroke-width="0.8"/>
<line x1="766.8" y1="333" x2="766.8" y2="386.5" stroke="#eeaaaa" stroke-width="0.8"/>
<line x1="770.4" y1="333" x2="770.4" y2="386.5" stroke="#eeaaaa" stroke-width="0.8"/>
<line x1="777.9" y1="333" x2="777.9" y2="386.5" stroke="#eeaaaa" stroke-width="0.8"/>
<line x1="781.3" y1="333" x2="781.3" y2="386.5" stroke="#eeaaaa" stroke-width="0.8"/>
<line x1="809.5" y1="333" x2="809.5" y2="386.5" stroke="#eeaaaa" stroke-width="0.8"/>
<line x1="817.9" y1="333" x2="817.9" y2="386.5" stroke="#eeaaaa" stroke-width="0.8"/>
<line x1="821.3" y1="333" x2="821.3" y2="386.5" stroke="#eeaaaa" stroke-width="0.8"/>
<line x1="840" y1="333" x2="840" y2="386.5" stroke="#eeaaaa" stroke-width="0.8"/>
<line x1="858.5" y1="333" x2="858.5" y2="386.5" stroke="#eeaaaa" stroke-width="0.8"/>
<line x1="871.4" y1="333" x2="871.4" y2="386.5" stroke="#eeaaaa" stroke-width="0.8"/>
<line x1="883.4" y1="333" x2="883.4" y2="386.5" stroke="#eeaaaa" stroke-width="0.8"/>
<line x1="886.8" y1="333" x2="886.8" y2="386.5" stroke="#eeaaaa" stroke-width="0.8"/>
<line x1="908.6" y1="333" x2="908.6" y2="386.5" stroke="#eeaaaa" stroke-width="0.8"/>
<line x1="918.7" y1="333" x2="918.7" y2="386.5" stroke="#eeaaaa" stroke-width="0.8"/>
<line x1="933" y1="333" x2="933" y2="386.5" stroke="#eeaaaa" stroke-width="0.8"/>
<line x1="947.7" y1="333" x2="947.7" y2="386.5" stroke="#eeaaaa" stroke-width="0.8"/>
<line x1="951.5" y1="333" x2="951.5" y2="386.5" stroke="#eeaaaa" stroke-width="0.8"/>
<line x1="976.7" y1="333" x2="976.7" y2="386.5" stroke="#eeaaaa" stroke-width="0.8"/>
<line x1="984.3" y1="333" x2="984.3" y2="386.5" stroke="#eeaaaa" stroke-width="0.8"/>
<line x1="996.9" y1="333" x2="996.9" y2="386.5" stroke="#eeaaaa" stroke-width="0.8"/>
<line x1="1000.7" y1="333" x2="1000.7" y2="386.5" stroke="#eeaaaa" stroke-width="0.8"/>
<line x1="1031.4" y1="333" x2="1031.4" y2="386.5" stroke="#eeaaaa" stroke-width="0.8"/>
<line x1="1035" y1="333" x2="1035" y2="386.5" stroke="#eeaaaa" stroke-width="0.8"/>
<line x1="1049.8" y1="333" x2="1049.8" y2="386.5" stroke="#eeaaaa" stroke-width="0.8"/>
<line x1="1053" y1="333" x2="1053" y2="386.5" stroke="#eeaaaa" stroke-width="0.8"/>
<line x1="1056.1" y1="333" x2="1056.1" y2="386.5" stroke="#eeaaaa" stroke-width="0.8"/>
<line x1="1059.3" y1="333" x2="1059.3" y2="386.5" stroke="#eeaaaa" stroke-width="0.8"/>
<line x1="1101" y1="333" x2="1101" y2="386.5" stroke="#eeaaaa" stroke-width="0.8"/>
<line x1="1104.6" y1="333" x2="1104.6" y2="386.5" stroke="#eeaaaa" stroke-width="0.8"/>
<line x1="1108.4" y1="333" x2="1108.4" y2="386.5" stroke="#eeaaaa" stroke-width="0.8"/>
<line x1="1112" y1="333" x2="1112" y2="386.5" stroke="#eeaaaa" stroke-width="0.8"/>
<line x1="1116.2" y1="333" x2="1116.2" y2="386.5" stroke="#eeaaaa" stroke-width="0.8"/>
<line x1="745.4" y1="333" x2="745.4" y2="386.5" stroke="#bebebe" stroke-width="0.8"/>
<line x1="748.5" y1="333" x2="748.5" y2="386.5" stroke="#bebebe" stroke-width="0.8"/>
<line x1="752.3" y1="333" x2="752.3" y2="386.5" stroke="#bebebe" stroke-width="0.8"/>
<line x1="764.3" y1="333" x2="764.3" y2="386.5" stroke="#bebebe" stroke-width="0.8"/>
<line x1="775" y1="333" x2="775" y2="386.5" stroke="#bebebe" stroke-width="0.8"/>
<line x1="795.5" y1="333" x2="795.5" y2="386.5" stroke="#bebebe" stroke-width="0.8"/>
<line x1="799.6" y1="333" x2="799.6" y2="386.5" stroke="#bebebe" stroke-width="0.8"/>
<line x1="803.4" y1="333" x2="803.4" y2="386.5" stroke="#bebebe" stroke-width="0.8"/>
<line x1="814.1" y1="333" x2="814.1" y2="386.5" stroke="#bebebe" stroke-width="0.8"/>
<line x1="843.8" y1="333" x2="843.8" y2="386.5" stroke="#bebebe" stroke-width="0.8"/>
<line x1="846.9" y1="333" x2="846.9" y2="386.5" stroke="#bebebe" stroke-width="0.8"/>
<line x1="850.7" y1="333" x2="850.7" y2="386.5" stroke="#bebebe" stroke-width="0.8"/>
<line x1="854.5" y1="333" x2="854.5" y2="386.5" stroke="#bebebe" stroke-width="0.8"/>
<line x1="862" y1="333" x2="862" y2="386.5" stroke="#bebebe" stroke-width="0.8"/>
<line x1="865.1" y1="333" x2="865.1" y2="386.5" stroke="#bebebe" stroke-width="0.8"/>
<line x1="868.9" y1="333" x2="868.9" y2="386.5" stroke="#bebebe" stroke-width="0.8"/>
<line x1="875.9" y1="333" x2="875.9" y2="386.5" stroke="#bebebe" stroke-width="0.8"/>
<line x1="879.6" y1="333" x2="879.6" y2="386.5" stroke="#bebebe" stroke-width="0.8"/>
<line x1="892.9" y1="333" x2="892.9" y2="386.5" stroke="#bebebe" stroke-width="0.8"/>
<line x1="896.7" y1="333" x2="896.7" y2="386.5" stroke="#bebebe" stroke-width="0.8"/>
<line x1="900.4" y1="333" x2="900.4" y2="386.5" stroke="#bebebe" stroke-width="0.8"/>
<line x1="903.6" y1="333" x2="903.6" y2="386.5" stroke="#bebebe" stroke-width="0.8"/>
<line x1="914.3" y1="333" x2="914.3" y2="386.5" stroke="#bebebe" stroke-width="0.8"/>
<line x1="921.9" y1="333" x2="921.9" y2="386.5" stroke="#bebebe" stroke-width="0.8"/>
<line x1="925.7" y1="333" x2="925.7" y2="386.5" stroke="#bebebe" stroke-width="0.8"/>
<line x1="929.4" y1="333" x2="929.4" y2="386.5" stroke="#bebebe" stroke-width="0.8"/>
<line x1="957.8" y1="333" x2="957.8" y2="386.5" stroke="#bebebe" stroke-width="0.8"/>
<line x1="961" y1="333" x2="961" y2="386.5" stroke="#bebebe" stroke-width="0.8"/>
<line x1="970.4" y1="333" x2="970.4" y2="386.5" stroke="#bebebe" stroke-width="0.8"/>
<line x1="974.2" y1="333" x2="974.2" y2="386.5" stroke="#bebebe" stroke-width="0.8"/>
<line x1="980.5" y1="333" x2="980.5" y2="386.5" stroke="#bebebe" stroke-width="0.8"/>
<line x1="988.7" y1="333" x2="988.7" y2="386.5" stroke="#bebebe" stroke-width="0.8"/>
<line x1="1004.5" y1="333" x2="1004.5" y2="386.5" stroke="#bebebe" stroke-width="0.8"/>
<line x1="1007.6" y1="333" x2="1007.6" y2="386.5" stroke="#bebebe" stroke-width="0.8"/>
<line x1="1012.7" y1="333" x2="1012.7" y2="386.5" stroke="#bebebe" stroke-width="0.8"/>
<line x1="1015.9" y1="333" x2="1015.9" y2="386.5" stroke="#bebebe" stroke-width="0.8"/>
<line x1="1019" y1="333" x2="1019" y2="386.5" stroke="#bebebe" stroke-width="0.8"/>
<line x1="1022.3" y1="333" x2="1022.3" y2="386.5" stroke="#bebebe" stroke-width="0.8"/>
<line x1="1062.5" y1="333" x2="1062.5" y2="386.5" stroke="#bebebe" stroke-width="0.8"/>
<line x1="1065.6" y1="333" x2="1065.6" y2="386.5" stroke="#bebebe" stroke-width="0.8"/>
<line x1="1068.8" y1="333" x2="1068.8" y2="386.5" stroke="#bebebe" stroke-width="0.8"/>
<line x1="1072" y1="333" x2="1072" y2="386.5" stroke="#bebebe" stroke-width="0.8"/>
<line x1="1075.2" y1="333" x2="1075.2" y2="386.5" stroke="#bebebe" stroke-width="0.8"/>
<line x1="1078.4" y1="333" x2="1078.4" y2="386.5" stroke="#bebebe" stroke-width="0.8"/>
<line x1="1084" y1="333" x2="1084" y2="386.5" stroke="#bebebe" stroke-width="0.8"/>
<line x1="1087.5" y1="333" x2="1087.5" y2="386.5" stroke="#bebebe" stroke-width="0.8"/>
<line x1="1091" y1="333" x2="1091" y2="386.5" stroke="#bebebe" stroke-width="0.8"/>
<line x1="1094.5" y1="333" x2="1094.5" y2="386.5" stroke="#bebebe" stroke-width="0.8"/>
<line x1="1098" y1="333" x2="1098" y2="386.5" stroke="#bebebe" stroke-width="0.8"/>
<line x1="760.5" y1="333" x2="760.5" y2="386.5" stroke="#999999" stroke-width="0.8"/>
<line x1="807.2" y1="333" x2="807.2" y2="386.5" stroke="#999999" stroke-width="0.8"/>
<line x1="966.6" y1="333" x2="966.6" y2="386.5" stroke="#999999" stroke-width="0.8"/>
<line x1="1010.6" y1="333" x2="1010.6" y2="386.5" stroke="#999999" stroke-width="0.8"/>
<line x1="1025.4" y1="333" x2="1025.4" y2="386.5" stroke="#999999" stroke-width="0.8"/>
<line x1="1080.1" y1="333" x2="1080.1" y2="386.5" stroke="#999999" stroke-width="0.8"/>
<line x1="711.3" y1="333" x2="1250.7" y2="333" stroke="#9a9a9a" stroke-width="1.3"/>
<line x1="1250.7" y1="333" x2="1250.7" y2="386.5" stroke="#8a8a8a" stroke-width="0.9"/>
<line x1="711.3" y1="333" x2="711.3" y2="386.5" stroke="#a0a0a0" stroke-width="1.1"/>
<line x1="711.3" y1="331.4" x2="711.3" y2="334.6" stroke="#888" stroke-width="0.8"/>
<line x1="756.25" y1="332" x2="756.25" y2="334" stroke="#aaa" stroke-width="0.7"/>
<line x1="801.2" y1="331.4" x2="801.2" y2="334.6" stroke="#888" stroke-width="0.8"/>
<line x1="846.15" y1="332" x2="846.15" y2="334" stroke="#aaa" stroke-width="0.7"/>
<line x1="891.1" y1="331.4" x2="891.1" y2="334.6" stroke="#888" stroke-width="0.8"/>
<line x1="936.05" y1="332" x2="936.05" y2="334" stroke="#aaa" stroke-width="0.7"/>
<line x1="981" y1="331.4" x2="981" y2="334.6" stroke="#888" stroke-width="0.8"/>
<line x1="1025.95" y1="332" x2="1025.95" y2="334" stroke="#aaa" stroke-width="0.7"/>
<line x1="1070.9" y1="331.4" x2="1070.9" y2="334.6" stroke="#888" stroke-width="0.8"/>
<line x1="1115.85" y1="332" x2="1115.85" y2="334" stroke="#aaa" stroke-width="0.7"/>
<line x1="1160.8" y1="331.4" x2="1160.8" y2="334.6" stroke="#888" stroke-width="0.8"/>
<line x1="1205.75" y1="332" x2="1205.75" y2="334" stroke="#aaa" stroke-width="0.7"/>
<line x1="1250.7" y1="331.4" x2="1250.7" y2="334.6" stroke="#888" stroke-width="0.8"/>
<text x="711.3" y="331.1" font-size="7" fill="#333" text-anchor="middle" font-weight="normal" font-family='"Liberation Sans", sans-serif' letter-spacing="0.3">50</text>
<text x="801.2" y="331.1" font-size="7" fill="#333" text-anchor="middle" font-weight="normal" font-family='"Liberation Sans", sans-serif' letter-spacing="0.3">150</text>
<text x="891.1" y="331.1" font-size="7" fill="#333" text-anchor="middle" font-weight="normal" font-family='"Liberation Sans", sans-serif' letter-spacing="0.3">250</text>
<text x="981" y="331.1" font-size="7" fill="#333" text-anchor="middle" font-weight="normal" font-family='"Liberation Sans", sans-serif' letter-spacing="0.3">350</text>
<text x="1070.9" y="331.1" font-size="7" fill="#333" text-anchor="middle" font-weight="normal" font-family='"Liberation Sans", sans-serif' letter-spacing="0.3">450</text>
<text x="1160.8" y="331.1" font-size="7" fill="#333" text-anchor="middle" font-weight="normal" font-family='"Liberation Sans", sans-serif' letter-spacing="0.3">550</text>
<text x="1250.7" y="331.1" font-size="7" fill="#333" text-anchor="middle" font-weight="normal" font-family='"Liberation Sans", sans-serif' letter-spacing="0.3">650</text>
<text x="707.8" y="335.7" font-size="7.4" fill="#333" text-anchor="end" font-weight="normal" font-family='"Liberation Sans", sans-serif' letter-spacing="0.2">12000</text>
<line x1="708.8" y1="333.5" x2="713.3" y2="333.5" stroke="#999" stroke-width="0.8"/>
<text x="707.8" y="353.5" font-size="7.4" fill="#333" text-anchor="end" font-weight="normal" font-family='"Liberation Sans", sans-serif' letter-spacing="0.2">8000</text>
<line x1="708.8" y1="351.3" x2="713.3" y2="351.3" stroke="#999" stroke-width="0.8"/>
<text x="707.8" y="371" font-size="7.4" fill="#333" text-anchor="end" font-weight="normal" font-family='"Liberation Sans", sans-serif' letter-spacing="0.2">4000</text>
<line x1="708.8" y1="368.8" x2="713.3" y2="368.8" stroke="#999" stroke-width="0.8"/>
<text x="707.8" y="388.7" font-size="7.4" fill="#333" text-anchor="end" font-weight="normal" font-family='"Liberation Sans", sans-serif' letter-spacing="0.2">0</text>
<line x1="708.8" y1="386.5" x2="713.3" y2="386.5" stroke="#999" stroke-width="0.8"/>
<line x1="709.3" y1="342.4" x2="713.3" y2="342.4" stroke="#aaa" stroke-width="0.7"/>
<line x1="709.3" y1="360.05" x2="713.3" y2="360.05" stroke="#aaa" stroke-width="0.7"/>
<line x1="709.3" y1="377.65" x2="713.3" y2="377.65" stroke="#aaa" stroke-width="0.7"/>
<line x1="711.3" y1="386.5" x2="1250.7" y2="386.5" stroke="#333333" stroke-width="1.1"/>
<polygon points="758.2,386.5 759.1,383.5 759.45,372.9 760.2,371.6 760.95,372.9 761.3,383.5 762.2,386.5" fill="#151515"/>
<polygon points="805.3,386.5 806.1,383.5 806.45,353.1 807.2,351.8 807.95,353.1 808.3,383.5 809.1,386.5" fill="#151515"/>
<polygon points="867.7,386.5 868.4,383.5 868.75,358.2 869.5,356.9 870.25,358.2 870.6,383.5 871.3,386.5" fill="#151515"/>
<polygon points="915.9,386.5 917,383.5 917.35,337.3 918.1,336 918.85,337.3 919.2,383.5 920.3,386.5" fill="#151515"/>
<polygon points="913.2,386.5 913.5,384.61 913.85,381.2 914.6,379.9 915.35,381.2 915.7,384.61 916,386.5" fill="#151515"/>
<polygon points="964,386.5 964.9,383.5 965.25,336.7 966,335.4 966.75,336.7 967.1,383.5 968,386.5" fill="#151515"/>
<polygon points="1008.6,386.5 1009.5,383.5 1009.85,334 1010.6,332.7 1011.35,334 1011.7,383.5 1012.6,386.5" fill="#151515"/>
<polygon points="1006,386.5 1006.3,384.85 1006.65,382 1007.4,380.7 1008.15,382 1008.5,384.85 1008.8,386.5" fill="#151515"/>
<polygon points="1078.2,386.5 1079,383.5 1079.35,347.2 1080.1,345.9 1080.85,347.2 1081.2,383.5 1082,386.5" fill="#151515"/>
<polygon points="1076.1,386.5 1076.4,384.55 1076.75,381 1077.5,379.7 1078.25,381 1078.6,384.55 1078.9,386.5" fill="#151515"/>
<polygon points="755,386.5 757,385.5 759,386.5" fill="#151515"/>
<polygon points="801,386.5 803,385 805,386.5" fill="#151515"/>
<polygon points="864,386.5 866,385 868,386.5" fill="#151515"/>
<polygon points="878,386.5 880,385.5 882,386.5" fill="#151515"/>
<polygon points="962,386.5 964,385.5 966,386.5" fill="#151515"/>
<polygon points="1022,386.5 1024,385.5 1026,386.5" fill="#151515"/>
<polygon points="1064,386.5 1066,385.5 1068,386.5" fill="#151515"/>
<polygon points="1093,386.5 1095,385.5 1097,386.5" fill="#151515"/>
<polygon points="713,386.5 715,385.9 717,386.5" fill="#151515"/>
<line x1="760.2" y1="386.5" x2="760.2" y2="389.3" stroke="#5a5a5a" stroke-width="0.9"/>
<line x1="807.2" y1="386.5" x2="807.2" y2="389.3" stroke="#5a5a5a" stroke-width="0.9"/>
<line x1="869.5" y1="386.5" x2="869.5" y2="389.3" stroke="#5a5a5a" stroke-width="0.9"/>
<line x1="918.1" y1="386.5" x2="918.1" y2="389.3" stroke="#5a5a5a" stroke-width="0.9"/>
<line x1="966" y1="386.5" x2="966" y2="389.3" stroke="#5a5a5a" stroke-width="0.9"/>
<line x1="1010.6" y1="386.5" x2="1010.6" y2="389.3" stroke="#5a5a5a" stroke-width="0.9"/>
<line x1="1080.1" y1="386.5" x2="1080.1" y2="389.3" stroke="#5a5a5a" stroke-width="0.9"/>
<rect x="751.6" y="389.8" width="17.6" height="10.4" fill="#fff" stroke="#5a5a5a" stroke-width="1"/>
<text x="760.4" y="398.6" font-size="8.7" fill="#1a1a1a" text-anchor="middle" font-weight="bold" font-family='"Liberation Sans", sans-serif' textLength="13.2" lengthAdjust="spacingAndGlyphs" stroke="none">17</text>
<rect x="798.9" y="389.8" width="17.2" height="10.4" fill="#fff" stroke="#5a5a5a" stroke-width="1"/>
<text x="807.5" y="398.6" font-size="8.7" fill="#1a1a1a" text-anchor="middle" font-weight="bold" font-family='"Liberation Sans", sans-serif' textLength="12.8" lengthAdjust="spacingAndGlyphs" stroke="none">13</text>
<rect x="860.6" y="389.8" width="18.5" height="10.4" fill="#fff" stroke="#5a5a5a" stroke-width="1"/>
<text x="869.85" y="398.6" font-size="8.7" fill="#1a1a1a" text-anchor="middle" font-weight="bold" font-family='"Liberation Sans", sans-serif' textLength="14.1" lengthAdjust="spacingAndGlyphs" stroke="none">24</text>
<rect x="910.8" y="389.8" width="16.9" height="10.4" fill="#fff" stroke="#5a5a5a" stroke-width="1"/>
<text x="919.25" y="398.6" font-size="8.7" fill="#1a1a1a" text-anchor="middle" font-weight="bold" font-family='"Liberation Sans", sans-serif' textLength="12.5" lengthAdjust="spacingAndGlyphs" stroke="none">31</text>
<rect x="958.9" y="389.8" width="15.4" height="10.4" fill="#fff" stroke="#5a5a5a" stroke-width="1"/>
<text x="966.6" y="398.6" font-size="8.7" fill="#1a1a1a" text-anchor="middle" font-weight="bold" font-family='"Liberation Sans", sans-serif' textLength="11" lengthAdjust="spacingAndGlyphs" stroke="none">11</text>
<rect x="1002.6" y="389.8" width="17.5" height="10.4" fill="#fff" stroke="#5a5a5a" stroke-width="1"/>
<text x="1011.35" y="398.6" font-size="8.7" fill="#1a1a1a" text-anchor="middle" font-weight="bold" font-family='"Liberation Sans", sans-serif' textLength="13.1" lengthAdjust="spacingAndGlyphs" stroke="none">16</text>
<rect x="1070.9" y="389.8" width="18.7" height="10.4" fill="#fff" stroke="#5a5a5a" stroke-width="1"/>
<text x="1080.25" y="398.6" font-size="8.7" fill="#1a1a1a" text-anchor="middle" font-weight="bold" font-family='"Liberation Sans", sans-serif' textLength="14.3" lengthAdjust="spacingAndGlyphs" stroke="none">30</text>
<rect x="662.8" y="428.3" width="597" height="129.5" fill="#fff" stroke="#8c8c8c" stroke-width="1"/>
<line x1="662.8" y1="428.6" x2="1259.8" y2="428.6" stroke="#555" stroke-width="1"/>
<line x1="1259.8" y1="428.3" x2="1259.8" y2="434.6" stroke="#333" stroke-width="1.3"/>
<line x1="747.9" y1="429.3" x2="747.9" y2="433.6" stroke="#c8c8c8" stroke-width="0.7"/>
<line x1="838.9" y1="429.3" x2="838.9" y2="433.6" stroke="#c8c8c8" stroke-width="0.7"/>
<line x1="922.6" y1="429.3" x2="922.6" y2="433.6" stroke="#c8c8c8" stroke-width="0.7"/>
<line x1="979.5" y1="429.3" x2="979.5" y2="433.6" stroke="#c8c8c8" stroke-width="0.7"/>
<line x1="1035.5" y1="429.3" x2="1035.5" y2="433.6" stroke="#c8c8c8" stroke-width="0.7"/>
<line x1="1087.1" y1="429.3" x2="1087.1" y2="433.6" stroke="#c8c8c8" stroke-width="0.7"/>
<line x1="1148" y1="429.3" x2="1148" y2="433.6" stroke="#c8c8c8" stroke-width="0.7"/>
<line x1="1201.5" y1="429.3" x2="1201.5" y2="433.6" stroke="#c8c8c8" stroke-width="0.7"/>
<line x1="662.8" y1="434.6" x2="1259.8" y2="434.6" stroke="#333" stroke-width="1.8"/>
<text x="665" y="433.4" font-size="6.6" fill="#222" text-anchor="start" font-weight="normal" font-family='"Liberation Sans", sans-serif' letter-spacing="0.9">D02_C12.fsa</text>
<text x="750.1" y="433.4" font-size="6.6" fill="#222" text-anchor="start" font-weight="bold" font-family='"Liberation Sans", sans-serif' letter-spacing="0.6">D02</text>
<text x="841.1" y="433.4" font-size="6.6" fill="#222" text-anchor="start" font-weight="bold" font-family='"Liberation Sans", sans-serif' letter-spacing="0.6">MR29Y_v1.1</text>
<rect x="1003.8" y="429.3" width="8.1" height="4.3" fill="#3aa53a"/>
<rect x="1057.4" y="429.3" width="8" height="4.3" fill="#3aa53a"/>
<rect x="1113.4" y="429.3" width="8" height="4.3" fill="#3aa53a"/>
<rect x="1170.6" y="429.3" width="8.5" height="4.3" fill="#3aa53a"/>
<rect x="1227.1" y="429.3" width="8" height="4.3" fill="#3aa53a"/>
<rect x="733.5" y="438.4" width="49.8" height="6.7" fill="#fff" stroke="#3f9c3f" stroke-width="1.1"/>
<rect x="786.7" y="438.4" width="43.9" height="6.7" fill="#fff" stroke="#3f9c3f" stroke-width="1.1"/>
<rect x="835.6" y="438.4" width="35.9" height="6.7" fill="#fff" stroke="#3f9c3f" stroke-width="1.1"/>
<rect x="879.4" y="438.4" width="84.8" height="6.7" fill="#fff" stroke="#3f9c3f" stroke-width="1.1"/>
<rect x="969" y="438.4" width="56.5" height="6.7" fill="#fff" stroke="#3f9c3f" stroke-width="1.1"/>
<rect x="1030.2" y="438.4" width="79.5" height="6.7" fill="#fff" stroke="#3f9c3f" stroke-width="1.1"/>
<text x="758.57" y="444" font-size="7" fill="#333" text-anchor="middle" font-weight="normal" font-family='"Liberation Sans", sans-serif' letter-spacing="0.35">DYS391</text>
<text x="808.83" y="444" font-size="7" fill="#333" text-anchor="middle" font-weight="normal" font-family='"Liberation Sans", sans-serif' letter-spacing="0.35">DYS439</text>
<text x="853.72" y="444" font-size="7" fill="#333" text-anchor="middle" font-weight="normal" font-family='"Liberation Sans", sans-serif' letter-spacing="0.35">DYS437</text>
<text x="921.97" y="444" font-size="7" fill="#333" text-anchor="middle" font-weight="normal" font-family='"Liberation Sans", sans-serif' letter-spacing="0.35">DYS385ab</text>
<text x="997.42" y="444" font-size="7" fill="#333" text-anchor="middle" font-weight="normal" font-family='"Liberation Sans", sans-serif' letter-spacing="0.35">DYS643</text>
<text x="1070.12" y="444" font-size="7" fill="#333" text-anchor="middle" font-weight="normal" font-family='"Liberation Sans", sans-serif' letter-spacing="0.35">DYS518</text>
<rect x="804.7" y="456.2" width="2.5" height="53.4" fill="#f4d2d2"/>
<rect x="846.9" y="456.2" width="1.9" height="53.4" fill="#f4d2d2"/>
<rect x="897.3" y="456.2" width="8.8" height="53.4" fill="#f4d2d2"/>
<line x1="897.3" y1="456.2" x2="897.3" y2="509.6" stroke="#eaa0a0" stroke-width="0.6"/>
<line x1="900.23" y1="456.2" x2="900.23" y2="509.6" stroke="#eaa0a0" stroke-width="0.6"/>
<line x1="903.17" y1="456.2" x2="903.17" y2="509.6" stroke="#eaa0a0" stroke-width="0.6"/>
<line x1="906.1" y1="456.2" x2="906.1" y2="509.6" stroke="#eaa0a0" stroke-width="0.6"/>
<rect x="912.4" y="456.2" width="9.5" height="53.4" fill="#f4d2d2"/>
<line x1="912.4" y1="456.2" x2="912.4" y2="509.6" stroke="#eaa0a0" stroke-width="0.6"/>
<line x1="915.57" y1="456.2" x2="915.57" y2="509.6" stroke="#eaa0a0" stroke-width="0.6"/>
<line x1="918.73" y1="456.2" x2="918.73" y2="509.6" stroke="#eaa0a0" stroke-width="0.6"/>
<line x1="921.9" y1="456.2" x2="921.9" y2="509.6" stroke="#eaa0a0" stroke-width="0.6"/>
<rect x="1051.9" y="456.2" width="4.3" height="53.4" fill="#f4d2d2"/>
<line x1="1051.9" y1="456.2" x2="1051.9" y2="509.6" stroke="#eaa0a0" stroke-width="0.6"/>
<line x1="1056.2" y1="456.2" x2="1056.2" y2="509.6" stroke="#eaa0a0" stroke-width="0.6"/>
<rect x="1058" y="456.2" width="12" height="53.4" fill="#ebebeb"/>
<line x1="737.6" y1="456.2" x2="737.6" y2="509.6" stroke="#eeaaaa" stroke-width="0.8"/>
<line x1="751.5" y1="456.2" x2="751.5" y2="509.6" stroke="#eeaaaa" stroke-width="0.8"/>
<line x1="770.6" y1="456.2" x2="770.6" y2="509.6" stroke="#eeaaaa" stroke-width="0.8"/>
<line x1="774.4" y1="456.2" x2="774.4" y2="509.6" stroke="#eeaaaa" stroke-width="0.8"/>
<line x1="777.6" y1="456.2" x2="777.6" y2="509.6" stroke="#eeaaaa" stroke-width="0.8"/>
<line x1="788.9" y1="456.2" x2="788.9" y2="509.6" stroke="#eeaaaa" stroke-width="0.8"/>
<line x1="792.1" y1="456.2" x2="792.1" y2="509.6" stroke="#eeaaaa" stroke-width="0.8"/>
<line x1="801.5" y1="456.2" x2="801.5" y2="509.6" stroke="#eeaaaa" stroke-width="0.8"/>
<line x1="822.3" y1="456.2" x2="822.3" y2="509.6" stroke="#eeaaaa" stroke-width="0.8"/>
<line x1="826.4" y1="456.2" x2="826.4" y2="509.6" stroke="#eeaaaa" stroke-width="0.8"/>
<line x1="839.3" y1="456.2" x2="839.3" y2="509.6" stroke="#eeaaaa" stroke-width="0.8"/>
<line x1="843.1" y1="456.2" x2="843.1" y2="509.6" stroke="#eeaaaa" stroke-width="0.8"/>
<line x1="864.5" y1="456.2" x2="864.5" y2="509.6" stroke="#eeaaaa" stroke-width="0.8"/>
<line x1="868.3" y1="456.2" x2="868.3" y2="509.6" stroke="#eeaaaa" stroke-width="0.8"/>
<line x1="890.4" y1="456.2" x2="890.4" y2="509.6" stroke="#eeaaaa" stroke-width="0.8"/>
<line x1="947.7" y1="456.2" x2="947.7" y2="509.6" stroke="#eeaaaa" stroke-width="0.8"/>
<line x1="951.5" y1="456.2" x2="951.5" y2="509.6" stroke="#eeaaaa" stroke-width="0.8"/>
<line x1="955.3" y1="456.2" x2="955.3" y2="509.6" stroke="#eeaaaa" stroke-width="0.8"/>
<line x1="958.4" y1="456.2" x2="958.4" y2="509.6" stroke="#eeaaaa" stroke-width="0.8"/>
<line x1="975.5" y1="456.2" x2="975.5" y2="509.6" stroke="#eeaaaa" stroke-width="0.8"/>
<line x1="979.9" y1="456.2" x2="979.9" y2="509.6" stroke="#eeaaaa" stroke-width="0.8"/>
<line x1="1016.5" y1="456.2" x2="1016.5" y2="509.6" stroke="#eeaaaa" stroke-width="0.8"/>
<line x1="1021.2" y1="456.2" x2="1021.2" y2="509.6" stroke="#eeaaaa" stroke-width="0.8"/>
<line x1="1038.6" y1="456.2" x2="1038.6" y2="509.6" stroke="#eeaaaa" stroke-width="0.8"/>
<line x1="1042.4" y1="456.2" x2="1042.4" y2="509.6" stroke="#eeaaaa" stroke-width="0.8"/>
<line x1="1063.6" y1="456.2" x2="1063.6" y2="509.6" stroke="#eeaaaa" stroke-width="0.8"/>
<line x1="1081.6" y1="456.2" x2="1081.6" y2="509.6" stroke="#eeaaaa" stroke-width="0.8"/>
<line x1="1085" y1="456.2" x2="1085" y2="509.6" stroke="#eeaaaa" stroke-width="0.8"/>
<line x1="1089" y1="456.2" x2="1089" y2="509.6" stroke="#eeaaaa" stroke-width="0.8"/>
<line x1="1092.6" y1="456.2" x2="1092.6" y2="509.6" stroke="#eeaaaa" stroke-width="0.8"/>
<line x1="1096.4" y1="456.2" x2="1096.4" y2="509.6" stroke="#eeaaaa" stroke-width="0.8"/>
<line x1="1100.2" y1="456.2" x2="1100.2" y2="509.6" stroke="#eeaaaa" stroke-width="0.8"/>
<line x1="1103.7" y1="456.2" x2="1103.7" y2="509.6" stroke="#eeaaaa" stroke-width="0.8"/>
<line x1="1108.1" y1="456.2" x2="1108.1" y2="509.6" stroke="#eeaaaa" stroke-width="0.8"/>
<line x1="741" y1="456.2" x2="741" y2="509.6" stroke="#bebebe" stroke-width="0.8"/>
<line x1="744.8" y1="456.2" x2="744.8" y2="509.6" stroke="#bebebe" stroke-width="0.8"/>
<line x1="748.5" y1="456.2" x2="748.5" y2="509.6" stroke="#bebebe" stroke-width="0.8"/>
<line x1="759.9" y1="456.2" x2="759.9" y2="509.6" stroke="#bebebe" stroke-width="0.8"/>
<line x1="763.7" y1="456.2" x2="763.7" y2="509.6" stroke="#bebebe" stroke-width="0.8"/>
<line x1="767.5" y1="456.2" x2="767.5" y2="509.6" stroke="#bebebe" stroke-width="0.8"/>
<line x1="796.5" y1="456.2" x2="796.5" y2="509.6" stroke="#bebebe" stroke-width="0.8"/>
<line x1="812.2" y1="456.2" x2="812.2" y2="509.6" stroke="#bebebe" stroke-width="0.8"/>
<line x1="815.4" y1="456.2" x2="815.4" y2="509.6" stroke="#bebebe" stroke-width="0.8"/>
<line x1="819.2" y1="456.2" x2="819.2" y2="509.6" stroke="#bebebe" stroke-width="0.8"/>
<line x1="853.2" y1="456.2" x2="853.2" y2="509.6" stroke="#bebebe" stroke-width="0.8"/>
<line x1="856.9" y1="456.2" x2="856.9" y2="509.6" stroke="#bebebe" stroke-width="0.8"/>
<line x1="860.7" y1="456.2" x2="860.7" y2="509.6" stroke="#bebebe" stroke-width="0.8"/>
<line x1="880.9" y1="456.2" x2="880.9" y2="509.6" stroke="#bebebe" stroke-width="0.8"/>
<line x1="884.7" y1="456.2" x2="884.7" y2="509.6" stroke="#bebebe" stroke-width="0.8"/>
<line x1="887.8" y1="456.2" x2="887.8" y2="509.6" stroke="#bebebe" stroke-width="0.8"/>
<line x1="893.5" y1="456.2" x2="893.5" y2="509.6" stroke="#bebebe" stroke-width="0.8"/>
<line x1="909.3" y1="456.2" x2="909.3" y2="509.6" stroke="#bebebe" stroke-width="0.8"/>
<line x1="925" y1="456.2" x2="925" y2="509.6" stroke="#bebebe" stroke-width="0.8"/>
<line x1="928.2" y1="456.2" x2="928.2" y2="509.6" stroke="#bebebe" stroke-width="0.8"/>
<line x1="932.6" y1="456.2" x2="932.6" y2="509.6" stroke="#bebebe" stroke-width="0.8"/>
<line x1="936.4" y1="456.2" x2="936.4" y2="509.6" stroke="#bebebe" stroke-width="0.8"/>
<line x1="940.2" y1="456.2" x2="940.2" y2="509.6" stroke="#bebebe" stroke-width="0.8"/>
<line x1="944" y1="456.2" x2="944" y2="509.6" stroke="#bebebe" stroke-width="0.8"/>
<line x1="984.3" y1="456.2" x2="984.3" y2="509.6" stroke="#bebebe" stroke-width="0.8"/>
<line x1="988.7" y1="456.2" x2="988.7" y2="509.6" stroke="#bebebe" stroke-width="0.8"/>
<line x1="993.8" y1="456.2" x2="993.8" y2="509.6" stroke="#bebebe" stroke-width="0.8"/>
<line x1="1002.6" y1="456.2" x2="1002.6" y2="509.6" stroke="#bebebe" stroke-width="0.8"/>
<line x1="1008.1" y1="456.2" x2="1008.1" y2="509.6" stroke="#bebebe" stroke-width="0.8"/>
<line x1="1012.3" y1="456.2" x2="1012.3" y2="509.6" stroke="#bebebe" stroke-width="0.8"/>
<line x1="1045.6" y1="456.2" x2="1045.6" y2="509.6" stroke="#bebebe" stroke-width="0.8"/>
<line x1="1060" y1="456.2" x2="1060" y2="509.6" stroke="#bebebe" stroke-width="0.8"/>
<line x1="1068" y1="456.2" x2="1068" y2="509.6" stroke="#bebebe" stroke-width="0.8"/>
<line x1="1072.3" y1="456.2" x2="1072.3" y2="509.6" stroke="#bebebe" stroke-width="0.8"/>
<line x1="1075.2" y1="456.2" x2="1075.2" y2="509.6" stroke="#bebebe" stroke-width="0.8"/>
<line x1="755.5" y1="456.2" x2="755.5" y2="509.6" stroke="#999999" stroke-width="0.8"/>
<line x1="998.2" y1="456.2" x2="998.2" y2="509.6" stroke="#999999" stroke-width="0.8"/>
<line x1="711.3" y1="456.2" x2="1250.7" y2="456.2" stroke="#9a9a9a" stroke-width="1.3"/>
<line x1="1250.7" y1="456.2" x2="1250.7" y2="509.6" stroke="#8a8a8a" stroke-width="0.9"/>
<line x1="711.3" y1="456.2" x2="711.3" y2="509.6" stroke="#a0a0a0" stroke-width="1.1"/>
<line x1="711.3" y1="454.6" x2="711.3" y2="457.8" stroke="#888" stroke-width="0.8"/>
<line x1="756.25" y1="455.2" x2="756.25" y2="457.2" stroke="#aaa" stroke-width="0.7"/>
<line x1="801.2" y1="454.6" x2="801.2" y2="457.8" stroke="#888" stroke-width="0.8"/>
<line x1="846.15" y1="455.2" x2="846.15" y2="457.2" stroke="#aaa" stroke-width="0.7"/>
<line x1="891.1" y1="454.6" x2="891.1" y2="457.8" stroke="#888" stroke-width="0.8"/>
<line x1="936.05" y1="455.2" x2="936.05" y2="457.2" stroke="#aaa" stroke-width="0.7"/>
<line x1="981" y1="454.6" x2="981" y2="457.8" stroke="#888" stroke-width="0.8"/>
<line x1="1025.95" y1="455.2" x2="1025.95" y2="457.2" stroke="#aaa" stroke-width="0.7"/>
<line x1="1070.9" y1="454.6" x2="1070.9" y2="457.8" stroke="#888" stroke-width="0.8"/>
<line x1="1115.85" y1="455.2" x2="1115.85" y2="457.2" stroke="#aaa" stroke-width="0.7"/>
<line x1="1160.8" y1="454.6" x2="1160.8" y2="457.8" stroke="#888" stroke-width="0.8"/>
<line x1="1205.75" y1="455.2" x2="1205.75" y2="457.2" stroke="#aaa" stroke-width="0.7"/>
<line x1="1250.7" y1="454.6" x2="1250.7" y2="457.8" stroke="#888" stroke-width="0.8"/>
<text x="711.3" y="454.3" font-size="7" fill="#333" text-anchor="middle" font-weight="normal" font-family='"Liberation Sans", sans-serif' letter-spacing="0.3">50</text>
<text x="801.2" y="454.3" font-size="7" fill="#333" text-anchor="middle" font-weight="normal" font-family='"Liberation Sans", sans-serif' letter-spacing="0.3">150</text>
<text x="891.1" y="454.3" font-size="7" fill="#333" text-anchor="middle" font-weight="normal" font-family='"Liberation Sans", sans-serif' letter-spacing="0.3">250</text>
<text x="981" y="454.3" font-size="7" fill="#333" text-anchor="middle" font-weight="normal" font-family='"Liberation Sans", sans-serif' letter-spacing="0.3">350</text>
<text x="1070.9" y="454.3" font-size="7" fill="#333" text-anchor="middle" font-weight="normal" font-family='"Liberation Sans", sans-serif' letter-spacing="0.3">450</text>
<text x="1160.8" y="454.3" font-size="7" fill="#333" text-anchor="middle" font-weight="normal" font-family='"Liberation Sans", sans-serif' letter-spacing="0.3">550</text>
<text x="1250.7" y="454.3" font-size="7" fill="#333" text-anchor="middle" font-weight="normal" font-family='"Liberation Sans", sans-serif' letter-spacing="0.3">650</text>
<text x="707.8" y="471.1" font-size="7.4" fill="#333" text-anchor="end" font-weight="normal" font-family='"Liberation Sans", sans-serif' letter-spacing="0.2">6900</text>
<line x1="708.8" y1="468.9" x2="713.3" y2="468.9" stroke="#999" stroke-width="0.8"/>
<text x="707.8" y="484.8" font-size="7.4" fill="#333" text-anchor="end" font-weight="normal" font-family='"Liberation Sans", sans-serif' letter-spacing="0.2">4600</text>
<line x1="708.8" y1="482.6" x2="713.3" y2="482.6" stroke="#999" stroke-width="0.8"/>
<text x="707.8" y="498.3" font-size="7.4" fill="#333" text-anchor="end" font-weight="normal" font-family='"Liberation Sans", sans-serif' letter-spacing="0.2">2300</text>
<line x1="708.8" y1="496.1" x2="713.3" y2="496.1" stroke="#999" stroke-width="0.8"/>
<text x="707.8" y="511.9" font-size="7.4" fill="#333" text-anchor="end" font-weight="normal" font-family='"Liberation Sans", sans-serif' letter-spacing="0.2">0</text>
<line x1="708.8" y1="509.7" x2="713.3" y2="509.7" stroke="#999" stroke-width="0.8"/>
<line x1="709.3" y1="475.75" x2="713.3" y2="475.75" stroke="#aaa" stroke-width="0.7"/>
<line x1="709.3" y1="489.35" x2="713.3" y2="489.35" stroke="#aaa" stroke-width="0.7"/>
<line x1="709.3" y1="502.9" x2="713.3" y2="502.9" stroke="#aaa" stroke-width="0.7"/>
<line x1="709.8" y1="462.05" x2="711.3" y2="462.05" stroke="#aaa" stroke-width="0.7"/>
<line x1="711.3" y1="509.6" x2="1250.7" y2="509.6" stroke="#9a4040" stroke-width="1.1"/>
<polygon points="753.5,509.6 754.4,506.6 754.75,475.6 755.5,474.3 756.25,475.6 756.6,506.6 757.5,509.6" fill="#d42222"/>
<polygon points="805.5,509.6 806.3,506.6 806.65,480 807.4,478.7 808.15,480 808.5,506.6 809.3,509.6" fill="#d42222"/>
<polygon points="851.6,509.6 852.5,506.6 852.85,471.9 853.6,470.6 854.35,471.9 854.7,506.6 855.6,509.6" fill="#d42222"/>
<polygon points="894,509.6 894.9,506.6 895.25,474 896,472.7 896.75,474 897.1,506.6 898,509.6" fill="#d42222"/>
<polygon points="905.5,509.6 906.3,506.6 906.65,477.1 907.4,475.8 908.15,477.1 908.5,506.6 909.3,509.6" fill="#d42222"/>
<polygon points="996,509.6 997.1,506.6 997.45,457.2 998.2,455.9 998.95,457.2 999.3,506.6 1000.4,509.6" fill="#d42222"/>
<polygon points="1062,509.6 1063.1,506.6 1063.45,457.2 1064.2,455.9 1064.95,457.2 1065.3,506.6 1066.4,509.6" fill="#d42222"/>
<polygon points="1059,509.6 1059.3,507.74 1059.65,504.4 1060.4,503.1 1061.15,504.4 1061.5,507.74 1061.8,509.6" fill="#d42222"/>
<polygon points="750,509.6 752,508.1 754,509.6" fill="#d42222"/>
<polygon points="802,509.6 804,508.1 806,509.6" fill="#d42222"/>
<polygon points="848,509.6 850,508.4 852,509.6" fill="#d42222"/>
<polygon points="891,509.6 893,508.1 895,509.6" fill="#d42222"/>
<polygon points="902,509.6 904,508.1 906,509.6" fill="#d42222"/>
<polygon points="917,509.6 919,508.6 921,509.6" fill="#d42222"/>
<polygon points="964,509.6 966,508.4 968,509.6" fill="#d42222"/>
<polygon points="992,509.6 994,508.6 996,509.6" fill="#d42222"/>
<polygon points="1067,509.6 1069,508.6 1071,509.6" fill="#d42222"/>
<line x1="755.5" y1="509.6" x2="755.5" y2="512.6" stroke="#d06868" stroke-width="0.9"/>
<line x1="807.4" y1="509.6" x2="807.4" y2="512.6" stroke="#d06868" stroke-width="0.9"/>
<line x1="853.6" y1="509.6" x2="853.6" y2="512.6" stroke="#d06868" stroke-width="0.9"/>
<line x1="896" y1="509.6" x2="896" y2="512.6" stroke="#d06868" stroke-width="0.9"/>
<line x1="907.4" y1="509.6" x2="907.4" y2="527.6" stroke="#d06868" stroke-width="0.9"/>
<line x1="998.2" y1="509.6" x2="998.2" y2="512.6" stroke="#d06868" stroke-width="0.9"/>
<line x1="1064.2" y1="509.6" x2="1064.2" y2="512.6" stroke="#d06868" stroke-width="0.9"/>
<rect x="747.8" y="513.1" width="17.7" height="10.7" fill="#fff" stroke="#d06868" stroke-width="1"/>
<text x="756.65" y="522.2" font-size="8.7" fill="#1a1a1a" text-anchor="middle" font-weight="bold" font-family='"Liberation Sans", sans-serif' textLength="13.3" lengthAdjust="spacingAndGlyphs" stroke="none">10</text>
<rect x="799.7" y="513.1" width="18" height="10.7" fill="#fff" stroke="#d06868" stroke-width="1"/>
<text x="808.7" y="522.2" font-size="8.7" fill="#1a1a1a" text-anchor="middle" font-weight="bold" font-family='"Liberation Sans", sans-serif' textLength="13.6" lengthAdjust="spacingAndGlyphs" stroke="none">12</text>
<rect x="844.9" y="513.1" width="18.2" height="10.7" fill="#fff" stroke="#d06868" stroke-width="1"/>
<text x="854" y="522.2" font-size="8.7" fill="#1a1a1a" text-anchor="middle" font-weight="bold" font-family='"Liberation Sans", sans-serif' textLength="13.8" lengthAdjust="spacingAndGlyphs" stroke="none">15</text>
<rect x="888.6" y="513.1" width="16.4" height="10.7" fill="#fff" stroke="#d06868" stroke-width="1"/>
<text x="896.8" y="522.2" font-size="8.7" fill="#1a1a1a" text-anchor="middle" font-weight="bold" font-family='"Liberation Sans", sans-serif' textLength="12" lengthAdjust="spacingAndGlyphs" stroke="none">11</text>
<rect x="899" y="528.1" width="18" height="10" fill="#fff" stroke="#d06868" stroke-width="1"/>
<text x="908" y="536.5" font-size="8.7" fill="#1a1a1a" text-anchor="middle" font-weight="bold" font-family='"Liberation Sans", sans-serif' textLength="13.6" lengthAdjust="spacingAndGlyphs" stroke="none">14</text>
<rect x="990.7" y="513.1" width="16.4" height="10.7" fill="#fff" stroke="#d06868" stroke-width="1"/>
<text x="998.9" y="522.2" font-size="8.7" fill="#1a1a1a" text-anchor="middle" font-weight="bold" font-family='"Liberation Sans", sans-serif' textLength="12" lengthAdjust="spacingAndGlyphs" stroke="none">11</text>
<rect x="1054.6" y="513.1" width="19.5" height="10.7" fill="#fff" stroke="#d06868" stroke-width="1"/>
<text x="1064.35" y="522.2" font-size="8.7" fill="#1a1a1a" text-anchor="middle" font-weight="bold" font-family='"Liberation Sans", sans-serif' textLength="15.1" lengthAdjust="spacingAndGlyphs" stroke="none">38</text>
<rect x="0" y="660" width="3.5" height="183" fill="#efefef"/>
<line x1="0" y1="662.5" x2="3.5" y2="662.5" stroke="#d4d4d4" stroke-width="0.7"/>
<line x1="0" y1="678.52" x2="3.5" y2="678.52" stroke="#d4d4d4" stroke-width="0.7"/>
<line x1="0" y1="694.54" x2="3.5" y2="694.54" stroke="#d4d4d4" stroke-width="0.7"/>
<line x1="0" y1="710.56" x2="3.5" y2="710.56" stroke="#d4d4d4" stroke-width="0.7"/>
<line x1="0" y1="726.58" x2="3.5" y2="726.58" stroke="#d4d4d4" stroke-width="0.7"/>
<line x1="0" y1="742.6" x2="3.5" y2="742.6" stroke="#d4d4d4" stroke-width="0.7"/>
<line x1="0" y1="758.62" x2="3.5" y2="758.62" stroke="#d4d4d4" stroke-width="0.7"/>
<line x1="0" y1="774.64" x2="3.5" y2="774.64" stroke="#d4d4d4" stroke-width="0.7"/>
<line x1="0" y1="790.66" x2="3.5" y2="790.66" stroke="#d4d4d4" stroke-width="0.7"/>
<line x1="0" y1="806.68" x2="3.5" y2="806.68" stroke="#d4d4d4" stroke-width="0.7"/>
<line x1="0" y1="822.7" x2="3.5" y2="822.7" stroke="#d4d4d4" stroke-width="0.7"/>
<line x1="0" y1="838.72" x2="3.5" y2="838.72" stroke="#d4d4d4" stroke-width="0.7"/>
<line x1="154.6" y1="660" x2="154.6" y2="664" stroke="#e0e0e0" stroke-width="0.8"/>
<line x1="154.6" y1="839" x2="154.6" y2="843" stroke="#e3e3e3" stroke-width="0.8"/>
<line x1="282.5" y1="660" x2="282.5" y2="664" stroke="#e0e0e0" stroke-width="0.8"/>
<line x1="282.5" y1="839" x2="282.5" y2="843" stroke="#e3e3e3" stroke-width="0.8"/>
<line x1="443" y1="660" x2="443" y2="664" stroke="#e0e0e0" stroke-width="0.8"/>
<line x1="443" y1="839" x2="443" y2="843" stroke="#e3e3e3" stroke-width="0.8"/>
<rect x="3.5" y="695.02" width="550.7" height="16.02" fill="#f2f2f2"/>
<rect x="3.5" y="727.06" width="550.7" height="16.02" fill="#f2f2f2"/>
<rect x="3.5" y="759.1" width="550.7" height="16.02" fill="#f2f2f2"/>
<rect x="3.5" y="791.14" width="550.7" height="16.02" fill="#f2f2f2"/>
<rect x="3.5" y="823.18" width="550.7" height="16.02" fill="#f2f2f2"/>
<rect x="3.5" y="664" width="550.7" height="15" fill="#1767b3"/>
<rect x="3.5" y="677.8" width="550.7" height="1.2" fill="#0b57a6"/>
<text x="79.05" y="676.4" font-size="12" fill="#fff" text-anchor="middle" font-weight="bold" font-family='"Liberation Serif", serif' >Allele</text>
<text x="218.55" y="676.4" font-size="12" fill="#fff" text-anchor="middle" font-weight="bold" font-family='"Liberation Serif", serif' >Data</text>
<text x="362.75" y="676.4" font-size="12" fill="#fff" text-anchor="middle" font-weight="bold" font-family='"Liberation Serif", serif' >Allele</text>
<text x="498.6" y="676.4" font-size="12" fill="#fff" text-anchor="middle" font-weight="bold" font-family='"Liberation Serif", serif' >Data</text>
<text x="79.05" y="691.5" font-size="11.4" fill="#111" text-anchor="middle" font-weight="normal" font-family='"Liberation Serif", serif' >DXS6795</text>
<text x="218.55" y="691.5" font-size="11.4" fill="#111" text-anchor="middle" font-weight="normal" font-family='"Liberation Serif", serif' >12,13</text>
<text x="362.75" y="691.5" font-size="11.4" fill="#111" text-anchor="middle" font-weight="normal" font-family='"Liberation Serif", serif' >DXS6810</text>
<text x="498.6" y="691.5" font-size="11.4" fill="#111" text-anchor="middle" font-weight="normal" font-family='"Liberation Serif", serif' >18,19</text>
<text x="79.05" y="707.52" font-size="11.4" fill="#111" text-anchor="middle" font-weight="normal" font-family='"Liberation Serif", serif' >DXS6803</text>
<text x="218.55" y="707.52" font-size="11.4" fill="#111" text-anchor="middle" font-weight="normal" font-family='"Liberation Serif", serif' >11.3,12</text>
<text x="362.75" y="707.52" font-size="11.4" fill="#111" text-anchor="middle" font-weight="normal" font-family='"Liberation Serif", serif' >GATA31E08</text>
<text x="498.6" y="707.52" font-size="11.4" fill="#111" text-anchor="middle" font-weight="normal" font-family='"Liberation Serif", serif' >11</text>
<text x="79.05" y="723.54" font-size="11.4" fill="#111" text-anchor="middle" font-weight="normal" font-family='"Liberation Serif", serif' >DXS6807</text>
<text x="218.55" y="723.54" font-size="11.4" fill="#111" text-anchor="middle" font-weight="normal" font-family='"Liberation Serif", serif' >12,14</text>
<text x="362.75" y="723.54" font-size="11.4" fill="#111" text-anchor="middle" font-weight="normal" font-family='"Liberation Serif", serif' >DXS6800</text>
<text x="498.6" y="723.54" font-size="11.4" fill="#111" text-anchor="middle" font-weight="normal" font-family='"Liberation Serif", serif' >18,19</text>
<text x="79.05" y="739.56" font-size="11.4" fill="#111" text-anchor="middle" font-weight="normal" font-family='"Liberation Serif", serif' >DXS9907</text>
<text x="218.55" y="739.56" font-size="11.4" fill="#111" text-anchor="middle" font-weight="normal" font-family='"Liberation Serif", serif' >12,13</text>
<text x="362.75" y="739.56" font-size="11.4" fill="#111" text-anchor="middle" font-weight="normal" font-family='"Liberation Serif", serif' >DXS981</text>
<text x="498.6" y="739.56" font-size="11.4" fill="#111" text-anchor="middle" font-weight="normal" font-family='"Liberation Serif", serif' >13.3,14.3</text>
<text x="79.05" y="755.58" font-size="11.4" fill="#111" text-anchor="middle" font-weight="normal" font-family='"Liberation Serif", serif' >DXS7423</text>
<text x="218.55" y="755.58" font-size="11.4" fill="#111" text-anchor="middle" font-weight="normal" font-family='"Liberation Serif", serif' >14,15</text>
<text x="362.75" y="755.58" font-size="11.4" fill="#111" text-anchor="middle" font-weight="normal" font-family='"Liberation Serif", serif' >DXS10162</text>
<text x="498.6" y="755.58" font-size="11.4" fill="#111" text-anchor="middle" font-weight="normal" font-family='"Liberation Serif", serif' >19</text>
<text x="79.05" y="771.6" font-size="11.4" fill="#111" text-anchor="middle" font-weight="normal" font-family='"Liberation Serif", serif' >AMEL</text>
<text x="218.55" y="771.6" font-size="11.4" fill="#111" text-anchor="middle" font-weight="normal" font-family='"Liberation Serif", serif' >X</text>
<text x="362.75" y="771.6" font-size="11.4" fill="#111" text-anchor="middle" font-weight="normal" font-family='"Liberation Serif", serif' >DXS6809</text>
<text x="498.6" y="771.6" font-size="11.4" fill="#111" text-anchor="middle" font-weight="normal" font-family='"Liberation Serif", serif' >31,34</text>
<text x="79.05" y="787.62" font-size="11.4" fill="#111" text-anchor="middle" font-weight="normal" font-family='"Liberation Serif", serif' >GATA172D05</text>
<text x="218.55" y="787.62" font-size="11.4" fill="#111" text-anchor="middle" font-weight="normal" font-family='"Liberation Serif", serif' >10</text>
<text x="362.75" y="787.62" font-size="11.4" fill="#111" text-anchor="middle" font-weight="normal" font-family='"Liberation Serif", serif' >GATA165B12</text>
<text x="498.6" y="787.62" font-size="11.4" fill="#111" text-anchor="middle" font-weight="normal" font-family='"Liberation Serif", serif' >9,11</text>
<text x="79.05" y="803.64" font-size="11.4" fill="#111" text-anchor="middle" font-weight="normal" font-family='"Liberation Serif", serif' >DXS101</text>
<text x="218.55" y="803.64" font-size="11.4" fill="#111" text-anchor="middle" font-weight="normal" font-family='"Liberation Serif", serif' >24,26</text>
<text x="362.75" y="803.64" font-size="11.4" fill="#111" text-anchor="middle" font-weight="normal" font-family='"Liberation Serif", serif' >DXS10079</text>
<text x="498.6" y="803.64" font-size="11.4" fill="#111" text-anchor="middle" font-weight="normal" font-family='"Liberation Serif", serif' >20,23</text>
<text x="79.05" y="819.66" font-size="11.4" fill="#111" text-anchor="middle" font-weight="normal" font-family='"Liberation Serif", serif' >DXS9902</text>
<text x="218.55" y="819.66" font-size="11.4" fill="#111" text-anchor="middle" font-weight="normal" font-family='"Liberation Serif", serif' >11</text>
<text x="362.75" y="819.66" font-size="11.4" fill="#111" text-anchor="middle" font-weight="normal" font-family='"Liberation Serif", serif' >DXS10135</text>
<text x="498.6" y="819.66" font-size="11.4" fill="#111" text-anchor="middle" font-weight="normal" font-family='"Liberation Serif", serif' >21.1,27</text>
<text x="79.05" y="835.68" font-size="11.4" fill="#111" text-anchor="middle" font-weight="normal" font-family='"Liberation Serif", serif' >DXS7133</text>
<text x="218.55" y="835.68" font-size="11.4" fill="#111" text-anchor="middle" font-weight="normal" font-family='"Liberation Serif", serif' >9,10</text>
<text x="362.75" y="835.68" font-size="11.4" fill="#111" text-anchor="middle" font-weight="normal" font-family='"Liberation Serif", serif' >HPRTB</text>
<text x="498.6" y="835.68" font-size="11.4" fill="#111" text-anchor="middle" font-weight="normal" font-family='"Liberation Serif", serif' >14</text>
<line x1="3.4" y1="660" x2="3.4" y2="843" stroke="#b0b0b0" stroke-width="1"/>
<rect x="1.5" y="695" width="2" height="16" fill="#2f7d3f"/>
<line x1="554.2" y1="695.5" x2="554.2" y2="710.5" stroke="#8fb89a" stroke-width="1"/>
<rect x="668" y="600" width="3.5" height="243" fill="#efefef"/>
<line x1="668" y1="603.8" x2="671.5" y2="603.8" stroke="#d4d4d4" stroke-width="0.7"/>
<line x1="668" y1="619.85" x2="671.5" y2="619.85" stroke="#d4d4d4" stroke-width="0.7"/>
<line x1="668" y1="635.9" x2="671.5" y2="635.9" stroke="#d4d4d4" stroke-width="0.7"/>
<line x1="668" y1="651.95" x2="671.5" y2="651.95" stroke="#d4d4d4" stroke-width="0.7"/>
<line x1="668" y1="668" x2="671.5" y2="668" stroke="#d4d4d4" stroke-width="0.7"/>
<line x1="668" y1="684.05" x2="671.5" y2="684.05" stroke="#d4d4d4" stroke-width="0.7"/>
<line x1="668" y1="700.1" x2="671.5" y2="700.1" stroke="#d4d4d4" stroke-width="0.7"/>
<line x1="668" y1="716.15" x2="671.5" y2="716.15" stroke="#d4d4d4" stroke-width="0.7"/>
<line x1="668" y1="732.2" x2="671.5" y2="732.2" stroke="#d4d4d4" stroke-width="0.7"/>
<line x1="668" y1="748.25" x2="671.5" y2="748.25" stroke="#d4d4d4" stroke-width="0.7"/>
<line x1="668" y1="764.3" x2="671.5" y2="764.3" stroke="#d4d4d4" stroke-width="0.7"/>
<line x1="668" y1="780.35" x2="671.5" y2="780.35" stroke="#d4d4d4" stroke-width="0.7"/>
<line x1="668" y1="796.4" x2="671.5" y2="796.4" stroke="#d4d4d4" stroke-width="0.7"/>
<line x1="668" y1="812.45" x2="671.5" y2="812.45" stroke="#d4d4d4" stroke-width="0.7"/>
<line x1="668" y1="828.5" x2="671.5" y2="828.5" stroke="#d4d4d4" stroke-width="0.7"/>
<line x1="668" y1="844.55" x2="671.5" y2="844.55" stroke="#d4d4d4" stroke-width="0.7"/>
<line x1="822" y1="598" x2="822" y2="604" stroke="#e3e3e3" stroke-width="0.8"/>
<line x1="1111.2" y1="598" x2="1111.2" y2="604" stroke="#e3e3e3" stroke-width="0.8"/>
<rect x="671.5" y="636.05" width="551.6" height="16.05" fill="#f2f2f2"/>
<rect x="671.5" y="668.15" width="551.6" height="16.05" fill="#f2f2f2"/>
<rect x="671.5" y="700.25" width="551.6" height="16.05" fill="#f2f2f2"/>
<rect x="671.5" y="732.35" width="551.6" height="16.05" fill="#f2f2f2"/>
<rect x="671.5" y="764.45" width="551.6" height="16.05" fill="#f2f2f2"/>
<rect x="671.5" y="796.55" width="551.6" height="16.05" fill="#f2f2f2"/>
<rect x="671.5" y="828.65" width="551.6" height="16.05" fill="#f2f2f2"/>
<rect x="671.5" y="604" width="551.6" height="16" fill="#1767b3"/>
<rect x="671.5" y="618.8" width="551.6" height="1.2" fill="#0b57a6"/>
<text x="746.75" y="617.1" font-size="12" fill="#fff" text-anchor="middle" font-weight="bold" font-family='"Liberation Serif", serif' >Allele</text>
<text x="886" y="617.1" font-size="12" fill="#fff" text-anchor="middle" font-weight="bold" font-family='"Liberation Serif", serif' >Data</text>
<text x="1030.6" y="617.1" font-size="12" fill="#fff" text-anchor="middle" font-weight="bold" font-family='"Liberation Serif", serif' >Allele</text>
<text x="1167.15" y="617.1" font-size="12" fill="#fff" text-anchor="middle" font-weight="bold" font-family='"Liberation Serif", serif' >Data</text>
<text x="746.75" y="632" font-size="11.4" fill="#111" text-anchor="middle" font-weight="normal" font-family='"Liberation Serif", serif' >DYS393</text>
<text x="886" y="632" font-size="11.4" fill="#111" text-anchor="middle" font-weight="normal" font-family='"Liberation Serif", serif' >13</text>
<text x="1030.6" y="632" font-size="11.4" fill="#111" text-anchor="middle" font-weight="normal" font-family='"Liberation Serif", serif' >DYS456</text>
<text x="1167.15" y="632" font-size="11.4" fill="#111" text-anchor="middle" font-weight="normal" font-family='"Liberation Serif", serif' >17</text>
<text x="746.75" y="648.05" font-size="11.4" fill="#111" text-anchor="middle" font-weight="normal" font-family='"Liberation Serif", serif' >DYS570</text>
<text x="886" y="648.05" font-size="11.4" fill="#111" text-anchor="middle" font-weight="normal" font-family='"Liberation Serif", serif' >18</text>
<text x="1030.6" y="648.05" font-size="11.4" fill="#111" text-anchor="middle" font-weight="normal" font-family='"Liberation Serif", serif' >DYS389 I</text>
<text x="1167.15" y="648.05" font-size="11.4" fill="#111" text-anchor="middle" font-weight="normal" font-family='"Liberation Serif", serif' >13</text>
<text x="746.75" y="664.1" font-size="11.4" fill="#111" text-anchor="middle" font-weight="normal" font-family='"Liberation Serif", serif' >DYS19</text>
<text x="886" y="664.1" font-size="11.4" fill="#111" text-anchor="middle" font-weight="normal" font-family='"Liberation Serif", serif' >14</text>
<text x="1030.6" y="664.1" font-size="11.4" fill="#111" text-anchor="middle" font-weight="normal" font-family='"Liberation Serif", serif' >DYS390</text>
<text x="1167.15" y="664.1" font-size="11.4" fill="#111" text-anchor="middle" font-weight="normal" font-family='"Liberation Serif", serif' >24</text>
<text x="746.75" y="680.15" font-size="11.4" fill="#111" text-anchor="middle" font-weight="normal" font-family='"Liberation Serif", serif' >DYS392</text>
<text x="886" y="680.15" font-size="11.4" fill="#111" text-anchor="middle" font-weight="normal" font-family='"Liberation Serif", serif' >13</text>
<text x="1030.6" y="680.15" font-size="11.4" fill="#111" text-anchor="middle" font-weight="normal" font-family='"Liberation Serif", serif' >DYS389 II</text>
<text x="1167.15" y="680.15" font-size="11.4" fill="#111" text-anchor="middle" font-weight="normal" font-family='"Liberation Serif", serif' >31</text>
<text x="746.75" y="696.2" font-size="11.4" fill="#111" text-anchor="middle" font-weight="normal" font-family='"Liberation Serif", serif' >DYS549</text>
<text x="886" y="696.2" font-size="11.4" fill="#111" text-anchor="middle" font-weight="normal" font-family='"Liberation Serif", serif' >13</text>
<text x="1030.6" y="696.2" font-size="11.4" fill="#111" text-anchor="middle" font-weight="normal" font-family='"Liberation Serif", serif' >DYS438</text>
<text x="1167.15" y="696.2" font-size="11.4" fill="#111" text-anchor="middle" font-weight="normal" font-family='"Liberation Serif", serif' >11</text>
<text x="746.75" y="712.25" font-size="11.4" fill="#111" text-anchor="middle" font-weight="normal" font-family='"Liberation Serif", serif' >Y GATA H4</text>
<text x="886" y="712.25" font-size="11.4" fill="#111" text-anchor="middle" font-weight="normal" font-family='"Liberation Serif", serif' >12</text>
<text x="1030.6" y="712.25" font-size="11.4" fill="#111" text-anchor="middle" font-weight="normal" font-family='"Liberation Serif", serif' >DYS576</text>
<text x="1167.15" y="712.25" font-size="11.4" fill="#111" text-anchor="middle" font-weight="normal" font-family='"Liberation Serif", serif' >16</text>
<text x="746.75" y="728.3" font-size="11.4" fill="#111" text-anchor="middle" font-weight="normal" font-family='"Liberation Serif", serif' >DYF387S1</text>
<text x="772.05" y="727.8" font-size="11" fill="#e02020" font-family='"Liberation Serif", serif'>*</text>
<text x="886" y="728.3" font-size="11.4" fill="#111" text-anchor="middle" font-weight="normal" font-family='"Liberation Serif", serif' >35,38</text>
<text x="1030.6" y="728.3" font-size="11.4" fill="#111" text-anchor="middle" font-weight="normal" font-family='"Liberation Serif", serif' >DYS449</text>
<text x="1167.15" y="728.3" font-size="11.4" fill="#111" text-anchor="middle" font-weight="normal" font-family='"Liberation Serif", serif' >30</text>
<text x="746.75" y="744.35" font-size="11.4" fill="#111" text-anchor="middle" font-weight="normal" font-family='"Liberation Serif", serif' >DYS460</text>
<text x="886" y="744.35" font-size="11.4" fill="#111" text-anchor="middle" font-weight="normal" font-family='"Liberation Serif", serif' >11</text>
<text x="1030.6" y="744.35" font-size="11.4" fill="#111" text-anchor="middle" font-weight="normal" font-family='"Liberation Serif", serif' >DYS391</text>
<text x="1167.15" y="744.35" font-size="11.4" fill="#111" text-anchor="middle" font-weight="normal" font-family='"Liberation Serif", serif' >10</text>
<text x="746.75" y="760.4" font-size="11.4" fill="#111" text-anchor="middle" font-weight="normal" font-family='"Liberation Serif", serif' >DYS458</text>
<text x="886" y="760.4" font-size="11.4" fill="#111" text-anchor="middle" font-weight="normal" font-family='"Liberation Serif", serif' >18</text>
<text x="1030.6" y="760.4" font-size="11.4" fill="#111" text-anchor="middle" font-weight="normal" font-family='"Liberation Serif", serif' >DYS439</text>
<text x="1167.15" y="760.4" font-size="11.4" fill="#111" text-anchor="middle" font-weight="normal" font-family='"Liberation Serif", serif' >12</text>
<text x="746.75" y="776.45" font-size="11.4" fill="#111" text-anchor="middle" font-weight="normal" font-family='"Liberation Serif", serif' >DYS481</text>
<text x="886" y="776.45" font-size="11.4" fill="#111" text-anchor="middle" font-weight="normal" font-family='"Liberation Serif", serif' >24</text>
<text x="1030.6" y="776.45" font-size="11.4" fill="#111" text-anchor="middle" font-weight="normal" font-family='"Liberation Serif", serif' >DYS437</text>
<text x="1167.15" y="776.45" font-size="11.4" fill="#111" text-anchor="middle" font-weight="normal" font-family='"Liberation Serif", serif' >15</text>
<text x="746.75" y="792.5" font-size="11.4" fill="#111" text-anchor="middle" font-weight="normal" font-family='"Liberation Serif", serif' >DYS635</text>
<text x="886" y="792.5" font-size="11.4" fill="#111" text-anchor="middle" font-weight="normal" font-family='"Liberation Serif", serif' >23</text>
<text x="1030.6" y="792.5" font-size="11.4" fill="#111" text-anchor="middle" font-weight="normal" font-family='"Liberation Serif", serif' >DYS385 a/b</text>
<text x="1167.15" y="792.5" font-size="11.4" fill="#111" text-anchor="middle" font-weight="normal" font-family='"Liberation Serif", serif' >11,14</text>
<text x="746.75" y="808.55" font-size="11.4" fill="#111" text-anchor="middle" font-weight="normal" font-family='"Liberation Serif", serif' >DYS448</text>
<text x="886" y="808.55" font-size="11.4" fill="#111" text-anchor="middle" font-weight="normal" font-family='"Liberation Serif", serif' >19</text>
<text x="1030.6" y="808.55" font-size="11.4" fill="#111" text-anchor="middle" font-weight="normal" font-family='"Liberation Serif", serif' >DYS643</text>
<text x="1167.15" y="808.55" font-size="11.4" fill="#111" text-anchor="middle" font-weight="normal" font-family='"Liberation Serif", serif' >11</text>
<text x="746.75" y="824.6" font-size="11.4" fill="#111" text-anchor="middle" font-weight="normal" font-family='"Liberation Serif", serif' >DYS533</text>
<text x="886" y="824.6" font-size="11.4" fill="#111" text-anchor="middle" font-weight="normal" font-family='"Liberation Serif", serif' >12</text>
<text x="1030.6" y="824.6" font-size="11.4" fill="#111" text-anchor="middle" font-weight="normal" font-family='"Liberation Serif", serif' >DYS518</text>
<text x="1167.15" y="824.6" font-size="11.4" fill="#111" text-anchor="middle" font-weight="normal" font-family='"Liberation Serif", serif' >38</text>
<text x="746.75" y="840.65" font-size="11.4" fill="#111" text-anchor="middle" font-weight="normal" font-family='"Liberation Serif", serif' >DYS627</text>
<text x="886" y="840.65" font-size="11.4" fill="#111" text-anchor="middle" font-weight="normal" font-family='"Liberation Serif", serif' >22</text>
<line x1="671.4" y1="600" x2="671.4" y2="843" stroke="#b0b0b0" stroke-width="1"/>
<rect x="669.5" y="764.5" width="2" height="16" fill="#2f7d3f"/>
</svg>
</body></html>
